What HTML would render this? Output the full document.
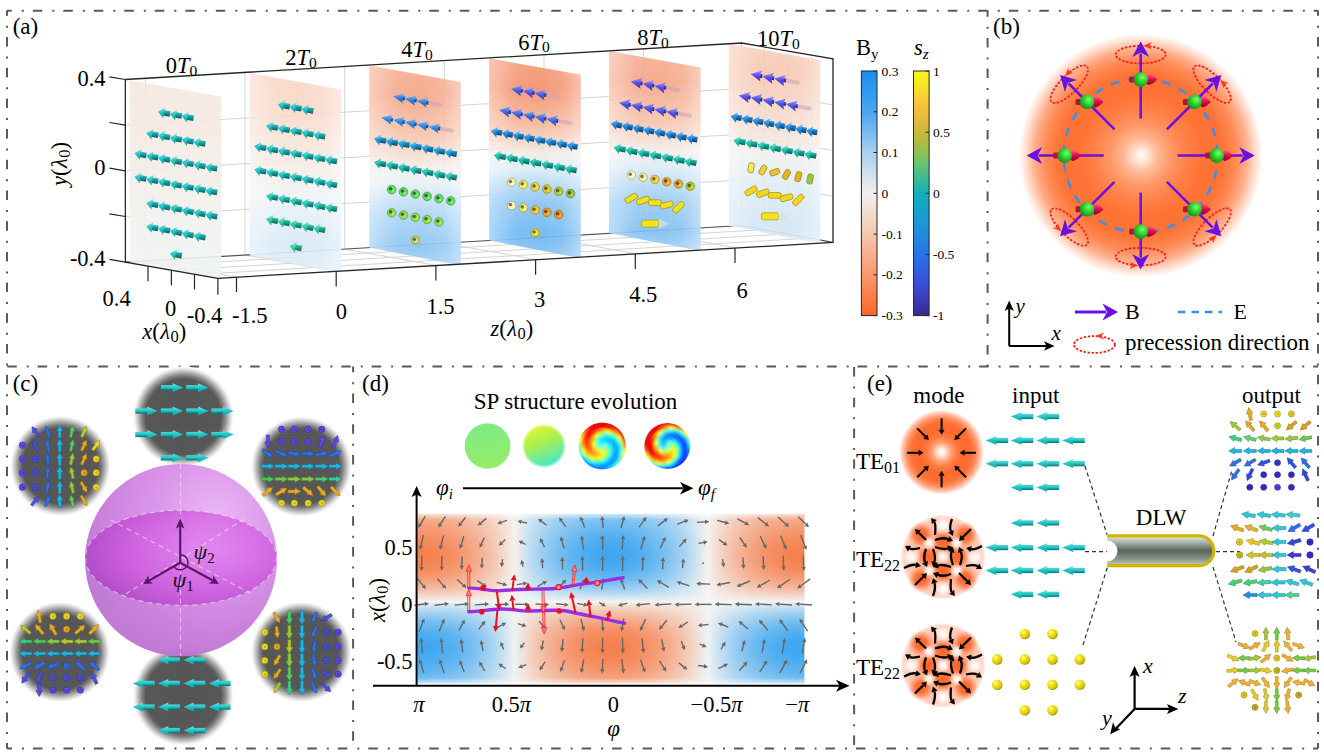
<!DOCTYPE html>
<html><head><meta charset="utf-8"><style>
html,body{margin:0;padding:0;background:#fff;overflow:hidden;width:1324px;height:756px;}
svg{display:block;}
</style></head><body>
<svg width="1324" height="756" viewBox="0 0 1324 756" font-family="'Liberation Serif', serif">
<defs>
<radialGradient id="bglow" gradientUnits="userSpaceOnUse" cx="1140.7" cy="155.6" r="122"><stop offset="0" stop-color="#ffffff"/><stop offset="0.05" stop-color="#ffe6da"/><stop offset="0.14" stop-color="#ffb996"/><stop offset="0.25" stop-color="#ff9866"/><stop offset="0.38" stop-color="#ff8048"/><stop offset="0.5" stop-color="#ff7436"/><stop offset="0.66" stop-color="#ff7234"/><stop offset="0.78" stop-color="#ff8a55"/><stop offset="0.87" stop-color="#ffae8c"/><stop offset="0.94" stop-color="#ffdccc"/><stop offset="1" stop-color="#ffffff"/></radialGradient>
<radialGradient id="gball" cx="0.62" cy="0.35" r="0.7"><stop offset="0" stop-color="#7dff6a"/><stop offset="0.45" stop-color="#2fd62f"/><stop offset="1" stop-color="#0d8a1a"/></radialGradient>
<linearGradient id="gcone" x1="0" y1="0" x2="0" y2="1"><stop offset="0" stop-color="#ff5a88"/><stop offset="0.45" stop-color="#e0104c"/><stop offset="1" stop-color="#8a0028"/></linearGradient>
<linearGradient id="sedge" x1="0" y1="0" x2="1" y2="0"><stop offset="0" stop-color="#fff" stop-opacity="0.4"/><stop offset="0.3" stop-color="#fff" stop-opacity="0.05"/><stop offset="0.55" stop-color="#fff" stop-opacity="0"/><stop offset="0.8" stop-color="#fff" stop-opacity="0.1"/><stop offset="1" stop-color="#fff" stop-opacity="0.4"/></linearGradient>
<linearGradient id="sg0" x1="0" y1="0" x2="0" y2="1"><stop offset="0" stop-color="#f5e8df"/><stop offset="0.45" stop-color="#f4ece6"/><stop offset="0.7" stop-color="#f1f2ef"/><stop offset="1" stop-color="#eef3f1"/></linearGradient>
<linearGradient id="sg1" x1="0" y1="0" x2="0" y2="1"><stop offset="0" stop-color="#f9d5c3"/><stop offset="0.2" stop-color="#f9d9c8"/><stop offset="0.5" stop-color="#f5eee9"/><stop offset="0.62" stop-color="#eef3f5"/><stop offset="0.85" stop-color="#d6e8f7"/><stop offset="1" stop-color="#dfedf8"/></linearGradient>
<linearGradient id="sg2" x1="0" y1="0" x2="0" y2="1"><stop offset="0" stop-color="#f5ab8c"/><stop offset="0.15" stop-color="#f5a385"/><stop offset="0.35" stop-color="#f7c2aa"/><stop offset="0.5" stop-color="#f4ece6"/><stop offset="0.58" stop-color="#e8f1f6"/><stop offset="0.75" stop-color="#a8d2f5"/><stop offset="0.9" stop-color="#89c3f3"/><stop offset="1" stop-color="#a0cff5"/></linearGradient>
<linearGradient id="sg3" x1="0" y1="0" x2="0" y2="1"><stop offset="0" stop-color="#f49a76"/><stop offset="0.15" stop-color="#f38e68"/><stop offset="0.33" stop-color="#f6b497"/><stop offset="0.48" stop-color="#f3ece7"/><stop offset="0.55" stop-color="#dcecf6"/><stop offset="0.72" stop-color="#86c2f3"/><stop offset="0.88" stop-color="#66b4f1"/><stop offset="1" stop-color="#86c3f4"/></linearGradient>
<linearGradient id="sg4" x1="0" y1="0" x2="0" y2="1"><stop offset="0" stop-color="#f6ad90"/><stop offset="0.15" stop-color="#f4a284"/><stop offset="0.35" stop-color="#f6c2ab"/><stop offset="0.5" stop-color="#f3ede8"/><stop offset="0.58" stop-color="#dcebf6"/><stop offset="0.75" stop-color="#95c9f3"/><stop offset="0.9" stop-color="#7dbdf2"/><stop offset="1" stop-color="#a0cff5"/></linearGradient>
<linearGradient id="sg5" x1="0" y1="0" x2="0" y2="1"><stop offset="0" stop-color="#f8cdb8"/><stop offset="0.15" stop-color="#f7c6b0"/><stop offset="0.4" stop-color="#f6dcd0"/><stop offset="0.55" stop-color="#f0f0ee"/><stop offset="0.75" stop-color="#dbe9f5"/><stop offset="0.9" stop-color="#d0e4f5"/><stop offset="1" stop-color="#dce9f5"/></linearGradient>
<linearGradient id="g1" x1="0" y1="0" x2="0" y2="1"><stop offset="0" stop-color="#40cccc"/><stop offset="0.45" stop-color="#189c9c"/><stop offset="1" stop-color="#0d5858"/></linearGradient>
<linearGradient id="g2" x1="0" y1="0" x2="0" y2="1"><stop offset="0" stop-color="#83dede"/><stop offset="0.5" stop-color="#1fc4c4"/><stop offset="1" stop-color="#189c9c"/></linearGradient>
<linearGradient id="g3" x1="0" y1="0" x2="0" y2="1"><stop offset="0" stop-color="#43d0bf"/><stop offset="0.45" stop-color="#1ba090"/><stop offset="1" stop-color="#0f5950"/></linearGradient>
<linearGradient id="g4" x1="0" y1="0" x2="0" y2="1"><stop offset="0" stop-color="#85e0d5"/><stop offset="0.5" stop-color="#22c8b4"/><stop offset="1" stop-color="#1ba090"/></linearGradient>
<linearGradient id="g5" x1="0" y1="0" x2="0" y2="1"><stop offset="0" stop-color="#48d6b3"/><stop offset="0.45" stop-color="#20a584"/><stop offset="1" stop-color="#125d4a"/></linearGradient>
<linearGradient id="g6" x1="0" y1="0" x2="0" y2="1"><stop offset="0" stop-color="#88e4ce"/><stop offset="0.5" stop-color="#28cfa6"/><stop offset="1" stop-color="#20a584"/></linearGradient>
<linearGradient id="g7" x1="0" y1="0" x2="0" y2="1"><stop offset="0" stop-color="#4fd8a9"/><stop offset="0.45" stop-color="#26a87b"/><stop offset="1" stop-color="#155e45"/></linearGradient>
<linearGradient id="g8" x1="0" y1="0" x2="0" y2="1"><stop offset="0" stop-color="#8de6c7"/><stop offset="0.5" stop-color="#30d29a"/><stop offset="1" stop-color="#26a87b"/></linearGradient>
<linearGradient id="g9" x1="0" y1="0" x2="0" y2="1"><stop offset="0" stop-color="#4990e9"/><stop offset="0.45" stop-color="#2164b8"/><stop offset="1" stop-color="#123867"/></linearGradient>
<linearGradient id="g10" x1="0" y1="0" x2="0" y2="1"><stop offset="0" stop-color="#89b7f1"/><stop offset="0.5" stop-color="#2a7de6"/><stop offset="1" stop-color="#2164b8"/></linearGradient>
<linearGradient id="g11" x1="0" y1="0" x2="0" y2="1"><stop offset="0" stop-color="#4998e8"/><stop offset="0.45" stop-color="#216bb6"/><stop offset="1" stop-color="#123c66"/></linearGradient>
<linearGradient id="g12" x1="0" y1="0" x2="0" y2="1"><stop offset="0" stop-color="#89bcf0"/><stop offset="0.5" stop-color="#2a86e4"/><stop offset="1" stop-color="#216bb6"/></linearGradient>
<linearGradient id="g13" x1="0" y1="0" x2="0" y2="1"><stop offset="0" stop-color="#3dade4"/><stop offset="0.45" stop-color="#157fb3"/><stop offset="1" stop-color="#0c4764"/></linearGradient>
<linearGradient id="g14" x1="0" y1="0" x2="0" y2="1"><stop offset="0" stop-color="#81caed"/><stop offset="0.5" stop-color="#1b9fe0"/><stop offset="1" stop-color="#157fb3"/></linearGradient>
<linearGradient id="g15" x1="0" y1="0" x2="0" y2="1"><stop offset="0" stop-color="#40c9bd"/><stop offset="0.45" stop-color="#18998e"/><stop offset="1" stop-color="#0d5650"/></linearGradient>
<linearGradient id="g16" x1="0" y1="0" x2="0" y2="1"><stop offset="0" stop-color="#83dcd4"/><stop offset="0.5" stop-color="#1fc0b2"/><stop offset="1" stop-color="#18998e"/></linearGradient>
<linearGradient id="g17" x1="0" y1="0" x2="0" y2="1"><stop offset="0" stop-color="#656ee9"/><stop offset="0.45" stop-color="#3b44b8"/><stop offset="1" stop-color="#212667"/></linearGradient>
<linearGradient id="g18" x1="0" y1="0" x2="0" y2="1"><stop offset="0" stop-color="#9ba1f1"/><stop offset="0.5" stop-color="#4a55e6"/><stop offset="1" stop-color="#3b44b8"/></linearGradient>
<linearGradient id="g19" x1="0" y1="0" x2="0" y2="1"><stop offset="0" stop-color="#5a7ae8"/><stop offset="0.45" stop-color="#304fb6"/><stop offset="1" stop-color="#1b2c66"/></linearGradient>
<linearGradient id="g20" x1="0" y1="0" x2="0" y2="1"><stop offset="0" stop-color="#94a9f0"/><stop offset="0.5" stop-color="#3d63e4"/><stop offset="1" stop-color="#304fb6"/></linearGradient>
<linearGradient id="g21" x1="0" y1="0" x2="0" y2="1"><stop offset="0" stop-color="#3c9fe4"/><stop offset="0.45" stop-color="#1472b3"/><stop offset="1" stop-color="#0b4064"/></linearGradient>
<linearGradient id="g22" x1="0" y1="0" x2="0" y2="1"><stop offset="0" stop-color="#81c1ed"/><stop offset="0.5" stop-color="#1a8fe0"/><stop offset="1" stop-color="#1472b3"/></linearGradient>
<linearGradient id="g23" x1="0" y1="0" x2="0" y2="1"><stop offset="0" stop-color="#3bc9bb"/><stop offset="0.45" stop-color="#14998c"/><stop offset="1" stop-color="#0b564f"/></linearGradient>
<linearGradient id="g24" x1="0" y1="0" x2="0" y2="1"><stop offset="0" stop-color="#80dcd3"/><stop offset="0.5" stop-color="#19c0b0"/><stop offset="1" stop-color="#14998c"/></linearGradient>
<linearGradient id="g25" x1="0" y1="0" x2="0" y2="1"><stop offset="0" stop-color="#6d63e9"/><stop offset="0.45" stop-color="#4339b8"/><stop offset="1" stop-color="#252067"/></linearGradient>
<linearGradient id="g26" x1="0" y1="0" x2="0" y2="1"><stop offset="0" stop-color="#a09af1"/><stop offset="0.5" stop-color="#5448e6"/><stop offset="1" stop-color="#4339b8"/></linearGradient>
<linearGradient id="g27" x1="0" y1="0" x2="0" y2="1"><stop offset="0" stop-color="#656ae8"/><stop offset="0.45" stop-color="#3b40b6"/><stop offset="1" stop-color="#212466"/></linearGradient>
<linearGradient id="g28" x1="0" y1="0" x2="0" y2="1"><stop offset="0" stop-color="#9b9ef0"/><stop offset="0.5" stop-color="#4a50e4"/><stop offset="1" stop-color="#3b40b6"/></linearGradient>
<linearGradient id="g29" x1="0" y1="0" x2="0" y2="1"><stop offset="0" stop-color="#3e98e6"/><stop offset="0.45" stop-color="#176bb4"/><stop offset="1" stop-color="#0d3c65"/></linearGradient>
<linearGradient id="g30" x1="0" y1="0" x2="0" y2="1"><stop offset="0" stop-color="#82bcef"/><stop offset="0.5" stop-color="#1d86e2"/><stop offset="1" stop-color="#176bb4"/></linearGradient>
<linearGradient id="g31" x1="0" y1="0" x2="0" y2="1"><stop offset="0" stop-color="#3bcbbb"/><stop offset="0.45" stop-color="#149b8c"/><stop offset="1" stop-color="#0b574f"/></linearGradient>
<linearGradient id="g32" x1="0" y1="0" x2="0" y2="1"><stop offset="0" stop-color="#80ddd3"/><stop offset="0.5" stop-color="#19c2b0"/><stop offset="1" stop-color="#149b8c"/></linearGradient>
<linearGradient id="g33" x1="0" y1="0" x2="0" y2="1"><stop offset="0" stop-color="#6f63e9"/><stop offset="0.45" stop-color="#4439b8"/><stop offset="1" stop-color="#262067"/></linearGradient>
<linearGradient id="g34" x1="0" y1="0" x2="0" y2="1"><stop offset="0" stop-color="#a29af1"/><stop offset="0.5" stop-color="#5648e6"/><stop offset="1" stop-color="#4439b8"/></linearGradient>
<linearGradient id="g35" x1="0" y1="0" x2="0" y2="1"><stop offset="0" stop-color="#6668e8"/><stop offset="0.45" stop-color="#3c3eb6"/><stop offset="1" stop-color="#222366"/></linearGradient>
<linearGradient id="g36" x1="0" y1="0" x2="0" y2="1"><stop offset="0" stop-color="#9c9df0"/><stop offset="0.5" stop-color="#4c4ee4"/><stop offset="1" stop-color="#3c3eb6"/></linearGradient>
<linearGradient id="g37" x1="0" y1="0" x2="0" y2="1"><stop offset="0" stop-color="#3f9be6"/><stop offset="0.45" stop-color="#186eb4"/><stop offset="1" stop-color="#0d3e65"/></linearGradient>
<linearGradient id="g38" x1="0" y1="0" x2="0" y2="1"><stop offset="0" stop-color="#83beef"/><stop offset="0.5" stop-color="#1e8ae2"/><stop offset="1" stop-color="#186eb4"/></linearGradient>
<linearGradient id="g39" x1="0" y1="0" x2="0" y2="1"><stop offset="0" stop-color="#3cccbb"/><stop offset="0.45" stop-color="#149c8c"/><stop offset="1" stop-color="#0b584f"/></linearGradient>
<linearGradient id="g40" x1="0" y1="0" x2="0" y2="1"><stop offset="0" stop-color="#81ded3"/><stop offset="0.5" stop-color="#1ac4b0"/><stop offset="1" stop-color="#149c8c"/></linearGradient>
<linearGradient id="cbBy" x1="0" y1="0" x2="0" y2="1"><stop offset="0" stop-color="#1a8ef0"/><stop offset="0.17" stop-color="#4aa6f0"/><stop offset="0.33" stop-color="#a6d0f2"/><stop offset="0.5" stop-color="#f1f0ec"/><stop offset="0.67" stop-color="#f6c6ae"/><stop offset="0.83" stop-color="#f89a70"/><stop offset="1" stop-color="#ff6428"/></linearGradient>
<linearGradient id="cbSz" x1="0" y1="0" x2="0" y2="1"><stop offset="0" stop-color="#f9f814"/><stop offset="0.06" stop-color="#f8e428"/><stop offset="0.14" stop-color="#f8c23a"/><stop offset="0.22" stop-color="#dcb83a"/><stop offset="0.29" stop-color="#b0bc40"/><stop offset="0.37" stop-color="#70c46c"/><stop offset="0.5" stop-color="#12b0b8"/><stop offset="0.62" stop-color="#1a98d6"/><stop offset="0.75" stop-color="#2a72e8"/><stop offset="0.88" stop-color="#3a4ad8"/><stop offset="1" stop-color="#3a2a8c"/></linearGradient>
<radialGradient id="gcirc"><stop offset="0" stop-color="#555555"/><stop offset="0.74" stop-color="#575757"/><stop offset="0.81" stop-color="#808080"/><stop offset="0.87" stop-color="#b0b0b0"/><stop offset="0.93" stop-color="#e0e0e0"/><stop offset="0.97" stop-color="#fafafa"/><stop offset="1" stop-color="#ffffff" stop-opacity="0"/></radialGradient>
<linearGradient id="g_sc" x1="0" y1="0" x2="0" y2="1"><stop offset="0" stop-color="#40dada"/><stop offset="0.5" stop-color="#1ab8b8"/><stop offset="1" stop-color="#0a7a7a"/></linearGradient>
<linearGradient id="g41" x1="0" y1="0" x2="0" y2="1"><stop offset="0" stop-color="#82dfdf"/><stop offset="0.5" stop-color="#1cc6c6"/><stop offset="1" stop-color="#169e9e"/></linearGradient>
<linearGradient id="g42" x1="0" y1="0" x2="0" y2="1"><stop offset="0" stop-color="#54d4d4"/><stop offset="0.5" stop-color="#1cc6c6"/><stop offset="1" stop-color="#0f6c6c"/></linearGradient>
<radialGradient id="gsph" cx="0.68" cy="0.28" r="0.85"><stop offset="0" stop-color="#eab6f6"/><stop offset="0.35" stop-color="#da94ea"/><stop offset="0.7" stop-color="#c87cdc"/><stop offset="0.92" stop-color="#bc74d0"/><stop offset="1" stop-color="#c27ed4"/></radialGradient>
<radialGradient id="geq" cx="0.62" cy="0.45" r="0.65"><stop offset="0" stop-color="#e070f0" stop-opacity="0.55"/><stop offset="0.6" stop-color="#cc40dc" stop-opacity="0.55"/><stop offset="1" stop-color="#a02cb8" stop-opacity="0.6"/></radialGradient>
<linearGradient id="hTop" gradientUnits="userSpaceOnUse" x1="417.3" y1="0" x2="804.6" y2="0"><stop offset="0.000" stop-color="#f5804e" stop-opacity="1.000"/><stop offset="0.025" stop-color="#f5804e" stop-opacity="0.993"/><stop offset="0.050" stop-color="#f5804e" stop-opacity="0.965"/><stop offset="0.075" stop-color="#f5804e" stop-opacity="0.916"/><stop offset="0.100" stop-color="#f5804e" stop-opacity="0.847"/><stop offset="0.125" stop-color="#f5804e" stop-opacity="0.758"/><stop offset="0.150" stop-color="#f5804e" stop-opacity="0.651"/><stop offset="0.175" stop-color="#f5804e" stop-opacity="0.527"/><stop offset="0.200" stop-color="#f5804e" stop-opacity="0.385"/><stop offset="0.225" stop-color="#f5804e" stop-opacity="0.224"/><stop offset="0.250" stop-color="#f5804e" stop-opacity="0.027"/><stop offset="0.275" stop-color="#3ea6f0" stop-opacity="0.192"/><stop offset="0.300" stop-color="#3ea6f0" stop-opacity="0.357"/><stop offset="0.325" stop-color="#3ea6f0" stop-opacity="0.502"/><stop offset="0.350" stop-color="#3ea6f0" stop-opacity="0.630"/><stop offset="0.375" stop-color="#3ea6f0" stop-opacity="0.740"/><stop offset="0.400" stop-color="#3ea6f0" stop-opacity="0.832"/><stop offset="0.425" stop-color="#3ea6f0" stop-opacity="0.905"/><stop offset="0.450" stop-color="#3ea6f0" stop-opacity="0.957"/><stop offset="0.475" stop-color="#3ea6f0" stop-opacity="0.989"/><stop offset="0.500" stop-color="#3ea6f0" stop-opacity="1.000"/><stop offset="0.525" stop-color="#3ea6f0" stop-opacity="0.989"/><stop offset="0.550" stop-color="#3ea6f0" stop-opacity="0.958"/><stop offset="0.575" stop-color="#3ea6f0" stop-opacity="0.905"/><stop offset="0.600" stop-color="#3ea6f0" stop-opacity="0.833"/><stop offset="0.625" stop-color="#3ea6f0" stop-opacity="0.741"/><stop offset="0.650" stop-color="#3ea6f0" stop-opacity="0.631"/><stop offset="0.675" stop-color="#3ea6f0" stop-opacity="0.504"/><stop offset="0.700" stop-color="#3ea6f0" stop-opacity="0.359"/><stop offset="0.725" stop-color="#3ea6f0" stop-opacity="0.194"/><stop offset="0.750" stop-color="#f5804e" stop-opacity="0.024"/><stop offset="0.775" stop-color="#f5804e" stop-opacity="0.222"/><stop offset="0.800" stop-color="#f5804e" stop-opacity="0.383"/><stop offset="0.825" stop-color="#f5804e" stop-opacity="0.525"/><stop offset="0.850" stop-color="#f5804e" stop-opacity="0.650"/><stop offset="0.875" stop-color="#f5804e" stop-opacity="0.757"/><stop offset="0.900" stop-color="#f5804e" stop-opacity="0.846"/><stop offset="0.925" stop-color="#f5804e" stop-opacity="0.915"/><stop offset="0.950" stop-color="#f5804e" stop-opacity="0.964"/><stop offset="0.975" stop-color="#f5804e" stop-opacity="0.993"/><stop offset="1.000" stop-color="#f5804e" stop-opacity="1.000"/></linearGradient>
<linearGradient id="hBot" gradientUnits="userSpaceOnUse" x1="417.3" y1="0" x2="804.6" y2="0"><stop offset="0.000" stop-color="#3ea6f0" stop-opacity="1.000"/><stop offset="0.025" stop-color="#3ea6f0" stop-opacity="0.993"/><stop offset="0.050" stop-color="#3ea6f0" stop-opacity="0.965"/><stop offset="0.075" stop-color="#3ea6f0" stop-opacity="0.916"/><stop offset="0.100" stop-color="#3ea6f0" stop-opacity="0.847"/><stop offset="0.125" stop-color="#3ea6f0" stop-opacity="0.758"/><stop offset="0.150" stop-color="#3ea6f0" stop-opacity="0.651"/><stop offset="0.175" stop-color="#3ea6f0" stop-opacity="0.527"/><stop offset="0.200" stop-color="#3ea6f0" stop-opacity="0.385"/><stop offset="0.225" stop-color="#3ea6f0" stop-opacity="0.224"/><stop offset="0.250" stop-color="#3ea6f0" stop-opacity="0.027"/><stop offset="0.275" stop-color="#f5804e" stop-opacity="0.192"/><stop offset="0.300" stop-color="#f5804e" stop-opacity="0.357"/><stop offset="0.325" stop-color="#f5804e" stop-opacity="0.502"/><stop offset="0.350" stop-color="#f5804e" stop-opacity="0.630"/><stop offset="0.375" stop-color="#f5804e" stop-opacity="0.740"/><stop offset="0.400" stop-color="#f5804e" stop-opacity="0.832"/><stop offset="0.425" stop-color="#f5804e" stop-opacity="0.905"/><stop offset="0.450" stop-color="#f5804e" stop-opacity="0.957"/><stop offset="0.475" stop-color="#f5804e" stop-opacity="0.989"/><stop offset="0.500" stop-color="#f5804e" stop-opacity="1.000"/><stop offset="0.525" stop-color="#f5804e" stop-opacity="0.989"/><stop offset="0.550" stop-color="#f5804e" stop-opacity="0.958"/><stop offset="0.575" stop-color="#f5804e" stop-opacity="0.905"/><stop offset="0.600" stop-color="#f5804e" stop-opacity="0.833"/><stop offset="0.625" stop-color="#f5804e" stop-opacity="0.741"/><stop offset="0.650" stop-color="#f5804e" stop-opacity="0.631"/><stop offset="0.675" stop-color="#f5804e" stop-opacity="0.504"/><stop offset="0.700" stop-color="#f5804e" stop-opacity="0.359"/><stop offset="0.725" stop-color="#f5804e" stop-opacity="0.194"/><stop offset="0.750" stop-color="#3ea6f0" stop-opacity="0.024"/><stop offset="0.775" stop-color="#3ea6f0" stop-opacity="0.222"/><stop offset="0.800" stop-color="#3ea6f0" stop-opacity="0.383"/><stop offset="0.825" stop-color="#3ea6f0" stop-opacity="0.525"/><stop offset="0.850" stop-color="#3ea6f0" stop-opacity="0.650"/><stop offset="0.875" stop-color="#3ea6f0" stop-opacity="0.757"/><stop offset="0.900" stop-color="#3ea6f0" stop-opacity="0.846"/><stop offset="0.925" stop-color="#3ea6f0" stop-opacity="0.915"/><stop offset="0.950" stop-color="#3ea6f0" stop-opacity="0.964"/><stop offset="0.975" stop-color="#3ea6f0" stop-opacity="0.993"/><stop offset="1.000" stop-color="#3ea6f0" stop-opacity="1.000"/></linearGradient>
<linearGradient id="vTop" gradientUnits="userSpaceOnUse" x1="0" y1="513.8" x2="0" y2="601.5"><stop offset="0.000" stop-color="rgb(144,144,144)"/><stop offset="0.042" stop-color="rgb(158,158,158)"/><stop offset="0.083" stop-color="rgb(171,171,171)"/><stop offset="0.125" stop-color="rgb(185,185,185)"/><stop offset="0.167" stop-color="rgb(198,198,198)"/><stop offset="0.208" stop-color="rgb(210,210,210)"/><stop offset="0.250" stop-color="rgb(222,222,222)"/><stop offset="0.292" stop-color="rgb(232,232,232)"/><stop offset="0.333" stop-color="rgb(241,241,241)"/><stop offset="0.375" stop-color="rgb(248,248,248)"/><stop offset="0.417" stop-color="rgb(252,252,252)"/><stop offset="0.458" stop-color="rgb(255,255,255)"/><stop offset="0.500" stop-color="rgb(255,255,255)"/><stop offset="0.542" stop-color="rgb(251,251,251)"/><stop offset="0.583" stop-color="rgb(245,245,245)"/><stop offset="0.625" stop-color="rgb(236,236,236)"/><stop offset="0.667" stop-color="rgb(223,223,223)"/><stop offset="0.708" stop-color="rgb(208,208,208)"/><stop offset="0.750" stop-color="rgb(189,189,189)"/><stop offset="0.792" stop-color="rgb(166,166,166)"/><stop offset="0.833" stop-color="rgb(141,141,141)"/><stop offset="0.875" stop-color="rgb(113,113,113)"/><stop offset="0.917" stop-color="rgb(81,81,81)"/><stop offset="0.958" stop-color="rgb(45,45,45)"/><stop offset="1.000" stop-color="rgb(0,0,0)"/></linearGradient>
<linearGradient id="vBot" gradientUnits="userSpaceOnUse" x1="0" y1="601.5" x2="0" y2="683.5"><stop offset="0.000" stop-color="rgb(0,0,0)"/><stop offset="0.042" stop-color="rgb(43,43,43)"/><stop offset="0.083" stop-color="rgb(76,76,76)"/><stop offset="0.125" stop-color="rgb(107,107,107)"/><stop offset="0.167" stop-color="rgb(134,134,134)"/><stop offset="0.208" stop-color="rgb(158,158,158)"/><stop offset="0.250" stop-color="rgb(180,180,180)"/><stop offset="0.292" stop-color="rgb(199,199,199)"/><stop offset="0.333" stop-color="rgb(216,216,216)"/><stop offset="0.375" stop-color="rgb(229,229,229)"/><stop offset="0.417" stop-color="rgb(240,240,240)"/><stop offset="0.458" stop-color="rgb(247,247,247)"/><stop offset="0.500" stop-color="rgb(252,252,252)"/><stop offset="0.542" stop-color="rgb(255,255,255)"/><stop offset="0.583" stop-color="rgb(255,255,255)"/><stop offset="0.625" stop-color="rgb(252,252,252)"/><stop offset="0.667" stop-color="rgb(248,248,248)"/><stop offset="0.708" stop-color="rgb(242,242,242)"/><stop offset="0.750" stop-color="rgb(234,234,234)"/><stop offset="0.792" stop-color="rgb(224,224,224)"/><stop offset="0.833" stop-color="rgb(214,214,214)"/><stop offset="0.875" stop-color="rgb(202,202,202)"/><stop offset="0.917" stop-color="rgb(190,190,190)"/><stop offset="0.958" stop-color="rgb(178,178,178)"/><stop offset="1.000" stop-color="rgb(165,165,165)"/></linearGradient>
<mask id="mTop" maskUnits="userSpaceOnUse" x="417.3" y="513.8" width="387.3" height="87.70000000000005"><rect x="417.3" y="513.8" width="387.3" height="87.70000000000005" fill="url(#vTop)"/></mask>
<mask id="mBot" maskUnits="userSpaceOnUse" x="417.3" y="601.5" width="387.3" height="82.0"><rect x="417.3" y="601.5" width="387.3" height="82.0" fill="url(#vBot)"/></mask>
<linearGradient id="fadeTop" x1="0" y1="0" x2="0" y2="1"><stop offset="0" stop-color="#fff" stop-opacity="0.6"/><stop offset="1" stop-color="#fff" stop-opacity="0"/></linearGradient>
<linearGradient id="fadeBot" x1="0" y1="1" x2="0" y2="0"><stop offset="0" stop-color="#fff" stop-opacity="0.6"/><stop offset="1" stop-color="#fff" stop-opacity="0"/></linearGradient>
<linearGradient id="sc1" x1="0" y1="0" x2="0.3" y2="1"><stop offset="0" stop-color="#78ec88"/><stop offset="1" stop-color="#96ec6a"/></linearGradient>
<linearGradient id="sc2" x1="0.2" y1="0" x2="0.6" y2="1"><stop offset="0" stop-color="#e4f828"/><stop offset="0.45" stop-color="#a8f050"/><stop offset="1" stop-color="#3ee8d0"/></linearGradient>
<radialGradient id="sc2e"><stop offset="0.85" stop-color="#fff" stop-opacity="0"/><stop offset="1" stop-color="#fff" stop-opacity="0.8"/></radialGradient>
<filter id="sblur" x="-10%" y="-10%" width="120%" height="120%"><feGaussianBlur stdDeviation="0.9"/></filter>
<clipPath id="cs3"><circle cx="602.3" cy="446" r="23.6"/></clipPath><clipPath id="cs4"><circle cx="667.3" cy="446" r="23"/></clipPath>
<radialGradient id="te01"><stop offset="0" stop-color="#ffffff"/><stop offset="0.07" stop-color="#ffeee6"/><stop offset="0.22" stop-color="#ffa276"/><stop offset="0.36" stop-color="#ff7a40"/><stop offset="0.5" stop-color="#ff6a2c"/><stop offset="0.7" stop-color="#ff6e32"/><stop offset="0.82" stop-color="#ff905e"/><stop offset="0.92" stop-color="#ffc6ae"/><stop offset="1" stop-color="#ffffff"/></radialGradient>
<radialGradient id="te22b"><stop offset="0" stop-color="#ffb898"/><stop offset="0.6" stop-color="#ffbfa4"/><stop offset="0.88" stop-color="#ffcab4"/><stop offset="0.96" stop-color="#ffe2d6"/><stop offset="1" stop-color="#ffffff"/></radialGradient>
<radialGradient id="olobe"><stop offset="0" stop-color="#ff5e22"/><stop offset="0.45" stop-color="#ff6a30" stop-opacity="0.9"/><stop offset="1" stop-color="#ff8050" stop-opacity="0"/></radialGradient>
<radialGradient id="wspot"><stop offset="0" stop-color="#ffffff"/><stop offset="0.4" stop-color="#fff4ef" stop-opacity="0.9"/><stop offset="1" stop-color="#ffd8c8" stop-opacity="0"/></radialGradient>
<radialGradient id="yball" cx="0.35" cy="0.32" r="0.75"><stop offset="0" stop-color="#fffca0"/><stop offset="0.35" stop-color="#f2e41a"/><stop offset="0.75" stop-color="#d8c400"/><stop offset="1" stop-color="#8a7c00"/></radialGradient>
<linearGradient id="dlw" x1="0" y1="0" x2="0" y2="1"><stop offset="0" stop-color="#d8e0d8"/><stop offset="0.18" stop-color="#a8b4a8"/><stop offset="0.5" stop-color="#56645a"/><stop offset="0.82" stop-color="#8a988c"/><stop offset="1" stop-color="#b8c4b8"/></linearGradient>
</defs>
<rect width="1324" height="756" fill="#fff"/>
<line x1="7" y1="10.8" x2="1318" y2="10.8" stroke="#5a5a5a" stroke-width="2" fill="none" stroke-dasharray="9.5 10.0 2.0 9.00" stroke-dashoffset="4.7"/>
<line x1="7" y1="10.5" x2="7" y2="748.5" stroke="#5a5a5a" stroke-width="2" fill="none" stroke-dasharray="9.5 10.0 2.0 9.20" stroke-dashoffset="4.2"/>
<line x1="1318" y1="10.5" x2="1318" y2="748.5" stroke="#5a5a5a" stroke-width="2" fill="none" stroke-dasharray="9.5 10.0 2.0 9.20" stroke-dashoffset="4.2"/>
<line x1="7" y1="748.5" x2="1318" y2="748.5" stroke="#5a5a5a" stroke-width="2" fill="none" stroke-dasharray="9.5 10.0 2.0 8.98" stroke-dashoffset="4.48"/>
<line x1="7" y1="366.6" x2="1318" y2="366.6" stroke="#5a5a5a" stroke-width="2" fill="none" stroke-dasharray="9.5 10.0 2.0 8.87" stroke-dashoffset="-0.23"/>
<line x1="987.6" y1="10.5" x2="987.6" y2="366.6" stroke="#5a5a5a" stroke-width="2" fill="none" stroke-dasharray="9.5 10.0 2.0 9.20" stroke-dashoffset="3.3"/>
<line x1="353.1" y1="366.6" x2="353.1" y2="748.5" stroke="#5a5a5a" stroke-width="2" fill="none" stroke-dasharray="9.5 10.0 2.0 9.20" stroke-dashoffset="3.8"/>
<line x1="854.1" y1="366.6" x2="854.1" y2="748.5" stroke="#5a5a5a" stroke-width="2" fill="none" stroke-dasharray="9.5 10.0 2.0 9.20" stroke-dashoffset="-0.5"/>
<text x="12.7" y="34" font-size="23" text-anchor="start" fill="#000" >(a)</text>
<text x="993" y="34" font-size="23" text-anchor="start" fill="#000" >(b)</text>
<text x="12.7" y="390.5" font-size="23" text-anchor="start" fill="#000" >(c)</text>
<text x="362" y="390.5" font-size="23" text-anchor="start" fill="#000" >(d)</text>
<text x="867" y="390.5" font-size="23" text-anchor="start" fill="#000" >(e)</text>
<circle cx="1140.7" cy="155.6" r="122" fill="url(#bglow)"/>
<circle cx="1140.7" cy="155.6" r="77" fill="none" stroke="#3a90ea" stroke-width="2.6" stroke-dasharray="9 8.6" stroke-dashoffset="3"/>
<g transform="translate(1140.7,54.6) rotate(0)"><ellipse cx="0" cy="0" rx="25" ry="8.8" fill="none" stroke="#ff1a1a" stroke-width="1.8" stroke-dasharray="2.4 1.6"/><path d="M3,-8.8 L11,-12.5 L8.5,-8.8 L11,-5.2 Z" fill="#ff3a1a"/></g>
<g transform="translate(1069.3,84.2) rotate(-45)"><ellipse cx="0" cy="0" rx="25" ry="8.8" fill="none" stroke="#ff1a1a" stroke-width="1.8" stroke-dasharray="2.4 1.6"/><path d="M3,-8.8 L11,-12.5 L8.5,-8.8 L11,-5.2 Z" fill="#ff3a1a"/></g>
<g transform="translate(1212.1,84.2) rotate(45)"><ellipse cx="0" cy="0" rx="25" ry="8.8" fill="none" stroke="#ff1a1a" stroke-width="1.8" stroke-dasharray="2.4 1.6"/><path d="M3,-8.8 L11,-12.5 L8.5,-8.8 L11,-5.2 Z" fill="#ff3a1a"/></g>
<g transform="translate(1069.3,227) rotate(-135)"><ellipse cx="0" cy="0" rx="25" ry="8.8" fill="none" stroke="#ff1a1a" stroke-width="1.8" stroke-dasharray="2.4 1.6"/><path d="M3,-8.8 L11,-12.5 L8.5,-8.8 L11,-5.2 Z" fill="#ff3a1a"/></g>
<g transform="translate(1212.1,227) rotate(-225)"><ellipse cx="0" cy="0" rx="25" ry="8.8" fill="none" stroke="#ff1a1a" stroke-width="1.8" stroke-dasharray="2.4 1.6"/><path d="M3,-8.8 L11,-12.5 L8.5,-8.8 L11,-5.2 Z" fill="#ff3a1a"/></g>
<g transform="translate(1140.7,256.6) rotate(-180)"><ellipse cx="0" cy="0" rx="25" ry="8.8" fill="none" stroke="#ff1a1a" stroke-width="1.8" stroke-dasharray="2.4 1.6"/><path d="M3,-8.8 L11,-12.5 L8.5,-8.8 L11,-5.2 Z" fill="#ff3a1a"/></g>
<line x1="1177.7" y1="155.6" x2="1242.7" y2="155.6" stroke="#6a10e0" stroke-width="2.5"/>
<path d="M1254.7,155.6 L1239.2,164.1 L1243.7,155.6 L1239.2,147.1 Z" fill="#6a10e0"/>
<line x1="1166.9" y1="129.4" x2="1212.8" y2="83.5" stroke="#6a10e0" stroke-width="2.5"/>
<path d="M1221.3,75 L1216.4,92 L1213.5,82.8 L1204.3,79.9 Z" fill="#6a10e0"/>
<line x1="1140.7" y1="118.6" x2="1140.7" y2="53.6" stroke="#6a10e0" stroke-width="2.5"/>
<path d="M1140.7,41.6 L1149.2,57.1 L1140.7,52.6 L1132.2,57.1 Z" fill="#6a10e0"/>
<line x1="1114.5" y1="129.4" x2="1068.6" y2="83.5" stroke="#6a10e0" stroke-width="2.5"/>
<path d="M1060.1,75 L1077.1,79.9 L1067.9,82.8 L1065,92 Z" fill="#6a10e0"/>
<line x1="1103.7" y1="155.6" x2="1038.7" y2="155.6" stroke="#6a10e0" stroke-width="2.5"/>
<path d="M1026.7,155.6 L1042.2,147.1 L1037.7,155.6 L1042.2,164.1 Z" fill="#6a10e0"/>
<line x1="1114.5" y1="181.8" x2="1068.6" y2="227.7" stroke="#6a10e0" stroke-width="2.5"/>
<path d="M1060.1,236.2 L1065,219.2 L1067.9,228.4 L1077.1,231.3 Z" fill="#6a10e0"/>
<line x1="1140.7" y1="192.6" x2="1140.7" y2="257.6" stroke="#6a10e0" stroke-width="2.5"/>
<path d="M1140.7,269.6 L1132.2,254.1 L1140.7,258.6 L1149.2,254.1 Z" fill="#6a10e0"/>
<line x1="1166.9" y1="181.8" x2="1212.8" y2="227.7" stroke="#6a10e0" stroke-width="2.5"/>
<path d="M1221.3,236.2 L1204.3,231.3 L1213.5,228.4 L1216.4,219.2 Z" fill="#6a10e0"/>
<rect x="1205.2" y="152.6" width="6" height="6" rx="1.5" fill="#b8103c"/>
<rect x="1220.2" y="151.4" width="5" height="8.4" rx="1" fill="url(#gcone)"/>
<path d="M1223.7,150 Q1228.7,150.6 1233.2,155.6 Q1228.7,160.6 1223.7,161.2 Z" fill="url(#gcone)"/>
<circle cx="1216.7" cy="155.6" r="7.3" fill="url(#gball)"/>
<rect x="1182.9" y="98.9" width="6" height="6" rx="1.5" fill="#b8103c"/>
<rect x="1197.9" y="97.7" width="5" height="8.4" rx="1" fill="url(#gcone)"/>
<path d="M1201.4,96.3 Q1206.4,96.9 1210.9,101.9 Q1206.4,106.9 1201.4,107.5 Z" fill="url(#gcone)"/>
<circle cx="1194.4" cy="101.9" r="7.3" fill="url(#gball)"/>
<rect x="1129.2" y="76.6" width="6" height="6" rx="1.5" fill="#b8103c"/>
<rect x="1144.2" y="75.4" width="5" height="8.4" rx="1" fill="url(#gcone)"/>
<path d="M1147.7,74 Q1152.7,74.6 1157.2,79.6 Q1152.7,84.6 1147.7,85.2 Z" fill="url(#gcone)"/>
<circle cx="1140.7" cy="79.6" r="7.3" fill="url(#gball)"/>
<rect x="1075.5" y="98.9" width="6" height="6" rx="1.5" fill="#b8103c"/>
<rect x="1090.5" y="97.7" width="5" height="8.4" rx="1" fill="url(#gcone)"/>
<path d="M1094,96.3 Q1099,96.9 1103.5,101.9 Q1099,106.9 1094,107.5 Z" fill="url(#gcone)"/>
<circle cx="1087" cy="101.9" r="7.3" fill="url(#gball)"/>
<rect x="1053.2" y="152.6" width="6" height="6" rx="1.5" fill="#b8103c"/>
<rect x="1068.2" y="151.4" width="5" height="8.4" rx="1" fill="url(#gcone)"/>
<path d="M1071.7,150 Q1076.7,150.6 1081.2,155.6 Q1076.7,160.6 1071.7,161.2 Z" fill="url(#gcone)"/>
<circle cx="1064.7" cy="155.6" r="7.3" fill="url(#gball)"/>
<rect x="1075.5" y="206.3" width="6" height="6" rx="1.5" fill="#b8103c"/>
<rect x="1090.5" y="205.1" width="5" height="8.4" rx="1" fill="url(#gcone)"/>
<path d="M1094,203.7 Q1099,204.3 1103.5,209.3 Q1099,214.3 1094,214.9 Z" fill="url(#gcone)"/>
<circle cx="1087" cy="209.3" r="7.3" fill="url(#gball)"/>
<rect x="1129.2" y="228.6" width="6" height="6" rx="1.5" fill="#b8103c"/>
<rect x="1144.2" y="227.4" width="5" height="8.4" rx="1" fill="url(#gcone)"/>
<path d="M1147.7,226 Q1152.7,226.6 1157.2,231.6 Q1152.7,236.6 1147.7,237.2 Z" fill="url(#gcone)"/>
<circle cx="1140.7" cy="231.6" r="7.3" fill="url(#gball)"/>
<rect x="1182.9" y="206.3" width="6" height="6" rx="1.5" fill="#b8103c"/>
<rect x="1197.9" y="205.1" width="5" height="8.4" rx="1" fill="url(#gcone)"/>
<path d="M1201.4,203.7 Q1206.4,204.3 1210.9,209.3 Q1206.4,214.3 1201.4,214.9 Z" fill="url(#gcone)"/>
<circle cx="1194.4" cy="209.3" r="7.3" fill="url(#gball)"/>
<path d="M1009.2,346 L1009.2,306 M1009.2,346 L1049,346" stroke="#000" stroke-width="2" fill="none"/>
<path d="M1009.2,300.5 L1004.5,311 L1009.2,308.5 L1013.9,311 Z" fill="#000"/>
<path d="M1054.5,346 L1044,341.3 L1046.5,346 L1044,350.7 Z" fill="#000"/>
<text x="1015.5" y="312.5" font-size="21" text-anchor="start" font-style="italic" fill="#000" >y</text>
<text x="1051.5" y="339.5" font-size="21" text-anchor="start" font-style="italic" fill="#000" >x</text>
<line x1="1075" y1="312" x2="1106" y2="312" stroke="#6a10e0" stroke-width="3"/>
<path d="M1118,312 L1102.5,303.5 L1107,312 L1102.5,320.5 Z" fill="#6a10e0"/>
<text x="1125" y="318.5" font-size="22" text-anchor="start" fill="#000" >B</text>
<line x1="1178" y1="312" x2="1222" y2="312" stroke="#3a90ea" stroke-width="2.6" stroke-dasharray="7.5 6"/>
<text x="1233.5" y="318.5" font-size="22" text-anchor="start" fill="#000" >E</text>
<ellipse cx="1094.4" cy="344.5" rx="20.5" ry="8.4" fill="none" stroke="#ff1a1a" stroke-width="1.8" stroke-dasharray="2.4 1.6"/>
<path d="M1096,336 L1104,332.3 L1101.5,336 L1104,339.7 Z" fill="#ff3a1a"/>
<text x="1125" y="350" font-size="23" text-anchor="start" fill="#000" >precession direction</text>
<path d="M125.4,216.5 L742,179.9 L833.4,196.4" stroke="#d4d4d4" stroke-width="1" fill="none"/>
<path d="M125.4,170.8 L742,134.2 L833.4,150.7" stroke="#d4d4d4" stroke-width="1" fill="none"/>
<path d="M125.4,125.2 L742,88.6 L833.4,105.1" stroke="#d4d4d4" stroke-width="1" fill="none"/>
<path d="M145.3,78.3 L145.3,260.9 L237.8,277.4" stroke="#d4d4d4" stroke-width="1" fill="none"/>
<path d="M245,72.4 L245,255 L337.5,271.5" stroke="#d4d4d4" stroke-width="1" fill="none"/>
<path d="M344.7,66.5 L344.7,249.1 L437.2,265.6" stroke="#d4d4d4" stroke-width="1" fill="none"/>
<path d="M444.3,60.6 L444.3,243.2 L536.8,259.7" stroke="#d4d4d4" stroke-width="1" fill="none"/>
<path d="M544,54.7 L544,237.3 L636.5,253.8" stroke="#d4d4d4" stroke-width="1" fill="none"/>
<path d="M643.6,48.8 L643.6,231.4 L736.1,247.9" stroke="#d4d4d4" stroke-width="1" fill="none"/>
<line x1="147.9" y1="266.1" x2="764.5" y2="229.6" stroke="#d4d4d4" stroke-width="1" fill="none"/>
<line x1="171.7" y1="270.4" x2="788.2" y2="233.8" stroke="#d4d4d4" stroke-width="1" fill="none"/>
<line x1="195.4" y1="274.6" x2="811.9" y2="238" stroke="#d4d4d4" stroke-width="1" fill="none"/>
<line x1="764.5" y1="229.6" x2="764.5" y2="48.6" stroke="#d4d4d4" stroke-width="1" fill="none"/>
<line x1="788.2" y1="233.8" x2="788.2" y2="52.8" stroke="#d4d4d4" stroke-width="1" fill="none"/>
<line x1="811.9" y1="238" x2="811.9" y2="57" stroke="#d4d4d4" stroke-width="1" fill="none"/>
<line x1="741.6" y1="43" x2="741.6" y2="224.7" stroke="#b8b8b8" stroke-width="1"/>
<path d="M125.4,262.1 L741.6,225.5 L833,242.4" stroke="#505050" stroke-width="1.1" fill="none"/>
<path d="M129.8,80.2 L221.3,96.7 L221.3,280.2 L129.8,262.2 Z" fill="url(#sg0)" fill-opacity="0.9"/>
<path d="M249.6,72.9 L341.1,89.4 L341.1,272.9 L249.6,254.9 Z" fill="url(#sg1)" fill-opacity="0.9"/>
<path d="M249.6,72.9 L341.1,89.4 L341.1,272.9 L249.6,254.9 Z" fill="url(#sedge)"/>
<path d="M369.4,65.6 L460.9,82.1 L460.9,265.6 L369.4,247.6 Z" fill="url(#sg2)" fill-opacity="0.9"/>
<path d="M369.4,65.6 L460.9,82.1 L460.9,265.6 L369.4,247.6 Z" fill="url(#sedge)"/>
<path d="M489.2,58.3 L580.7,74.8 L580.7,258.3 L489.2,240.3 Z" fill="url(#sg3)" fill-opacity="0.9"/>
<path d="M489.2,58.3 L580.7,74.8 L580.7,258.3 L489.2,240.3 Z" fill="url(#sedge)"/>
<path d="M609,51 L700.5,67.5 L700.5,251 L609,233 Z" fill="url(#sg4)" fill-opacity="0.9"/>
<path d="M609,51 L700.5,67.5 L700.5,251 L609,233 Z" fill="url(#sedge)"/>
<path d="M728.8,43.7 L820.3,60.2 L820.3,243.7 L728.8,225.7 Z" fill="url(#sg5)" fill-opacity="0.9"/>
<path d="M728.8,43.7 L820.3,60.2 L820.3,243.7 L728.8,225.7 Z" fill="url(#sedge)"/>
<path d="M162.3,109.7 L170.5,111.2 L169.5,116.7 L161.3,115.2 Z" fill="url(#g1)"/>
<path d="M174.1,111.8 L182.3,113.3 L181.3,118.8 L173.1,117.4 Z" fill="url(#g1)"/>
<path d="M185.9,114 L194.1,115.5 L193.1,121 L184.9,119.5 Z" fill="url(#g1)"/>
<path d="M158,111.7 L165.3,107.6 Q162.8,112.6 163.4,118.2 Z" fill="url(#g2)"/>
<path d="M169.8,113.9 L177.2,109.8 Q174.6,114.8 175.2,120.4 Z" fill="url(#g2)"/>
<path d="M181.6,116.1 L189,111.9 Q186.4,116.9 187,122.5 Z" fill="url(#g2)"/>
<path d="M150.5,131.1 L158.7,132.6 L157.7,138.1 L149.5,136.6 Z" fill="url(#g1)"/>
<path d="M162.3,133.2 L170.5,134.7 L169.5,140.3 L161.3,138.7 Z" fill="url(#g1)"/>
<path d="M174.1,135.4 L182.3,136.9 L181.3,142.4 L173.1,140.9 Z" fill="url(#g1)"/>
<path d="M185.9,137.6 L194.1,139.1 L193.1,144.6 L184.9,143.1 Z" fill="url(#g1)"/>
<path d="M197.7,139.8 L205.9,141.3 L204.9,146.8 L196.7,145.3 Z" fill="url(#g1)"/>
<path d="M146.2,133.1 L153.6,129 Q151,134 151.6,139.6 Z" fill="url(#g2)"/>
<path d="M158,135.3 L165.4,131.1 Q162.8,136.2 163.4,141.8 Z" fill="url(#g2)"/>
<path d="M169.8,137.5 L177.2,133.3 Q174.6,138.3 175.2,143.9 Z" fill="url(#g2)"/>
<path d="M181.6,139.6 L189,135.5 Q186.4,140.5 187,146.1 Z" fill="url(#g2)"/>
<path d="M193.4,141.8 L200.8,137.7 Q198.2,142.7 198.8,148.3 Z" fill="url(#g2)"/>
<path d="M138.7,151.3 L146.9,152.8 L145.9,158.3 L137.7,156.8 Z" fill="url(#g1)"/>
<path d="M150.5,153.5 L158.7,155 L157.7,160.5 L149.5,159 Z" fill="url(#g1)"/>
<path d="M162.3,155.7 L170.5,157.2 L169.5,162.7 L161.3,161.2 Z" fill="url(#g1)"/>
<path d="M174.1,157.9 L182.3,159.4 L181.3,164.9 L173.1,163.4 Z" fill="url(#g1)"/>
<path d="M185.9,160.1 L194.1,161.6 L193.1,167.1 L184.9,165.6 Z" fill="url(#g1)"/>
<path d="M197.7,162.3 L205.9,163.8 L204.9,169.3 L196.7,167.8 Z" fill="url(#g1)"/>
<path d="M209.5,164.5 L217.7,166 L216.7,171.5 L208.5,170 Z" fill="url(#g1)"/>
<path d="M134.4,153.3 L141.8,149.2 Q139.2,154.2 139.8,159.8 Z" fill="url(#g2)"/>
<path d="M146.2,155.5 L153.6,151.4 Q151,156.4 151.6,162 Z" fill="url(#g2)"/>
<path d="M158,157.7 L165.4,153.6 Q162.8,158.6 163.4,164.2 Z" fill="url(#g2)"/>
<path d="M169.8,159.9 L177.2,155.8 Q174.6,160.8 175.2,166.4 Z" fill="url(#g2)"/>
<path d="M181.6,162.1 L189,158 Q186.4,163 187,168.6 Z" fill="url(#g2)"/>
<path d="M193.4,164.3 L200.8,160.2 Q198.2,165.2 198.8,170.8 Z" fill="url(#g2)"/>
<path d="M205.2,166.5 L212.6,162.4 Q210,167.4 210.6,173 Z" fill="url(#g2)"/>
<path d="M138.7,174.8 L146.9,176.3 L145.9,181.8 L137.7,180.3 Z" fill="url(#g1)"/>
<path d="M150.5,177 L158.7,178.6 L157.7,184.1 L149.5,182.5 Z" fill="url(#g1)"/>
<path d="M162.3,179.2 L170.5,180.8 L169.5,186.3 L161.3,184.7 Z" fill="url(#g1)"/>
<path d="M174.1,181.5 L182.3,183 L181.3,188.5 L173.1,187 Z" fill="url(#g1)"/>
<path d="M185.9,183.7 L194.1,185.2 L193.1,190.7 L184.9,189.2 Z" fill="url(#g1)"/>
<path d="M197.7,185.9 L206,187.5 L204.9,193 L196.7,191.4 Z" fill="url(#g1)"/>
<path d="M209.5,188.2 L217.8,189.7 L216.7,195.2 L208.5,193.7 Z" fill="url(#g1)"/>
<path d="M134.4,176.8 L141.8,172.7 Q139.2,177.7 139.8,183.3 Z" fill="url(#g2)"/>
<path d="M146.2,179 L153.6,174.9 Q151,179.9 151.6,185.5 Z" fill="url(#g2)"/>
<path d="M158,181.3 L165.4,177.2 Q162.8,182.2 163.4,187.8 Z" fill="url(#g2)"/>
<path d="M169.8,183.5 L177.2,179.4 Q174.6,184.4 175.2,190 Z" fill="url(#g2)"/>
<path d="M181.6,185.7 L189,181.6 Q186.4,186.6 187,192.2 Z" fill="url(#g2)"/>
<path d="M193.4,187.9 L200.8,183.8 Q198.2,188.9 198.8,194.5 Z" fill="url(#g2)"/>
<path d="M205.2,190.2 L212.6,186.1 Q210,191.1 210.6,196.7 Z" fill="url(#g2)"/>
<path d="M150.5,201.1 L158.7,202.6 L157.7,208.1 L149.5,206.6 Z" fill="url(#g1)"/>
<path d="M162.3,203.3 L170.5,204.9 L169.5,210.4 L161.3,208.8 Z" fill="url(#g1)"/>
<path d="M174.1,205.6 L182.4,207.1 L181.3,212.6 L173.1,211.1 Z" fill="url(#g1)"/>
<path d="M185.9,207.8 L194.2,209.4 L193.1,214.9 L184.9,213.3 Z" fill="url(#g1)"/>
<path d="M197.7,210.1 L206,211.7 L204.9,217.2 L196.7,215.6 Z" fill="url(#g1)"/>
<path d="M209.6,212.3 L217.8,213.9 L216.7,219.4 L208.5,217.8 Z" fill="url(#g1)"/>
<path d="M146.2,203.1 L153.6,199 Q151,204 151.5,209.6 Z" fill="url(#g2)"/>
<path d="M158,205.3 L165.4,201.3 Q162.8,206.3 163.4,211.9 Z" fill="url(#g2)"/>
<path d="M169.8,207.6 L177.2,203.5 Q174.6,208.5 175.2,214.1 Z" fill="url(#g2)"/>
<path d="M181.6,209.9 L189,205.8 Q186.4,210.8 187,216.4 Z" fill="url(#g2)"/>
<path d="M193.4,212.1 L200.8,208 Q198.2,213 198.8,218.6 Z" fill="url(#g2)"/>
<path d="M205.2,214.4 L212.6,210.3 Q210,215.3 210.6,220.9 Z" fill="url(#g2)"/>
<path d="M150.5,224.2 L158.7,225.8 L157.7,231.3 L149.5,229.7 Z" fill="url(#g1)"/>
<path d="M162.3,226.5 L170.6,228.1 L169.5,233.6 L161.3,232 Z" fill="url(#g1)"/>
<path d="M174.1,228.8 L182.4,230.4 L181.3,235.9 L173.1,234.3 Z" fill="url(#g1)"/>
<path d="M185.9,231.1 L194.2,232.7 L193.1,238.2 L184.9,236.6 Z" fill="url(#g1)"/>
<path d="M197.8,233.3 L206,234.9 L204.9,240.4 L196.7,238.8 Z" fill="url(#g1)"/>
<path d="M146.2,226.2 L153.6,222.2 Q151,227.2 151.5,232.8 Z" fill="url(#g2)"/>
<path d="M158,228.5 L165.4,224.4 Q162.8,229.4 163.3,235 Z" fill="url(#g2)"/>
<path d="M169.8,230.8 L177.2,226.7 Q174.6,231.7 175.1,237.3 Z" fill="url(#g2)"/>
<path d="M181.6,233.1 L189,229 Q186.4,234 186.9,239.6 Z" fill="url(#g2)"/>
<path d="M193.4,235.4 L200.8,231.3 Q198.2,236.3 198.8,241.9 Z" fill="url(#g2)"/>
<path d="M174.1,251.4 L182.4,253 L181.3,258.5 L173.1,256.9 Z" fill="url(#g1)"/>
<path d="M169.8,253.4 L177.2,249.4 Q174.6,254.4 175.1,260 Z" fill="url(#g2)"/>
<path d="M282.1,102.4 L290.3,103.9 L289.3,109.4 L281.1,107.9 Z" fill="url(#g1)"/>
<path d="M293.9,104.5 L302.1,106 L301.1,111.5 L292.9,110.1 Z" fill="url(#g1)"/>
<path d="M305.7,106.7 L313.9,108.2 L312.9,113.7 L304.7,112.2 Z" fill="url(#g1)"/>
<path d="M277.8,104.4 L285.1,100.3 Q282.6,105.3 283.2,110.9 Z" fill="url(#g2)"/>
<path d="M289.6,106.6 L297,102.5 Q294.4,107.5 295,113.1 Z" fill="url(#g2)"/>
<path d="M301.4,108.8 L308.8,104.6 Q306.2,109.6 306.8,115.2 Z" fill="url(#g2)"/>
<path d="M270.3,123.8 L278.5,125.3 L277.5,130.8 L269.3,129.3 Z" fill="url(#g1)"/>
<path d="M282.1,125.9 L290.3,127.4 L289.3,133 L281.1,131.4 Z" fill="url(#g1)"/>
<path d="M293.9,128.1 L302.1,129.6 L301.1,135.1 L292.9,133.6 Z" fill="url(#g1)"/>
<path d="M305.7,130.3 L313.9,131.8 L312.9,137.3 L304.7,135.8 Z" fill="url(#g1)"/>
<path d="M317.5,132.5 L325.7,134 L324.7,139.5 L316.5,138 Z" fill="url(#g1)"/>
<path d="M266,125.8 L273.4,121.7 Q270.8,126.7 271.4,132.3 Z" fill="url(#g2)"/>
<path d="M277.8,128 L285.2,123.8 Q282.6,128.9 283.2,134.5 Z" fill="url(#g2)"/>
<path d="M289.6,130.2 L297,126 Q294.4,131 295,136.6 Z" fill="url(#g2)"/>
<path d="M301.4,132.3 L308.8,128.2 Q306.2,133.2 306.8,138.8 Z" fill="url(#g2)"/>
<path d="M313.2,134.5 L320.6,130.4 Q318,135.4 318.6,141 Z" fill="url(#g2)"/>
<path d="M258.5,144 L266.7,145.5 L265.7,151 L257.5,149.5 Z" fill="url(#g1)"/>
<path d="M270.3,146.2 L278.5,147.7 L277.5,153.2 L269.3,151.7 Z" fill="url(#g1)"/>
<path d="M282.1,148.4 L290.3,149.9 L289.3,155.4 L281.1,153.9 Z" fill="url(#g1)"/>
<path d="M293.9,150.6 L302.1,152.1 L301.1,157.6 L292.9,156.1 Z" fill="url(#g1)"/>
<path d="M305.7,152.8 L313.9,154.3 L312.9,159.8 L304.7,158.3 Z" fill="url(#g1)"/>
<path d="M317.5,155 L325.7,156.5 L324.7,162 L316.5,160.5 Z" fill="url(#g1)"/>
<path d="M329.3,157.2 L337.5,158.7 L336.5,164.2 L328.3,162.7 Z" fill="url(#g1)"/>
<path d="M254.2,146 L261.6,141.9 Q259,146.9 259.6,152.5 Z" fill="url(#g2)"/>
<path d="M266,148.2 L273.4,144.1 Q270.8,149.1 271.4,154.7 Z" fill="url(#g2)"/>
<path d="M277.8,150.4 L285.2,146.3 Q282.6,151.3 283.2,156.9 Z" fill="url(#g2)"/>
<path d="M289.6,152.6 L297,148.5 Q294.4,153.5 295,159.1 Z" fill="url(#g2)"/>
<path d="M301.4,154.8 L308.8,150.7 Q306.2,155.7 306.8,161.3 Z" fill="url(#g2)"/>
<path d="M313.2,157 L320.6,152.9 Q318,157.9 318.6,163.5 Z" fill="url(#g2)"/>
<path d="M325,159.2 L332.4,155.1 Q329.8,160.1 330.4,165.7 Z" fill="url(#g2)"/>
<path d="M258.5,167.5 L266.7,169 L265.7,174.5 L257.5,173 Z" fill="url(#g1)"/>
<path d="M270.3,169.7 L278.5,171.3 L277.5,176.8 L269.3,175.2 Z" fill="url(#g1)"/>
<path d="M282.1,171.9 L290.3,173.5 L289.3,179 L281.1,177.4 Z" fill="url(#g1)"/>
<path d="M293.9,174.2 L302.1,175.7 L301.1,181.2 L292.9,179.7 Z" fill="url(#g1)"/>
<path d="M305.7,176.4 L313.9,177.9 L312.9,183.4 L304.7,181.9 Z" fill="url(#g1)"/>
<path d="M317.5,178.6 L325.8,180.2 L324.7,185.7 L316.5,184.1 Z" fill="url(#g1)"/>
<path d="M329.3,180.9 L337.6,182.4 L336.5,187.9 L328.3,186.4 Z" fill="url(#g1)"/>
<path d="M254.2,169.5 L261.6,165.4 Q259,170.4 259.6,176 Z" fill="url(#g2)"/>
<path d="M266,171.7 L273.4,167.6 Q270.8,172.6 271.4,178.2 Z" fill="url(#g2)"/>
<path d="M277.8,174 L285.2,169.9 Q282.6,174.9 283.2,180.5 Z" fill="url(#g2)"/>
<path d="M289.6,176.2 L297,172.1 Q294.4,177.1 295,182.7 Z" fill="url(#g2)"/>
<path d="M301.4,178.4 L308.8,174.3 Q306.2,179.3 306.8,184.9 Z" fill="url(#g2)"/>
<path d="M313.2,180.6 L320.6,176.5 Q318,181.6 318.6,187.2 Z" fill="url(#g2)"/>
<path d="M325,182.9 L332.4,178.8 Q329.8,183.8 330.4,189.4 Z" fill="url(#g2)"/>
<path d="M270.3,193.8 L278.5,195.3 L277.5,200.8 L269.3,199.3 Z" fill="url(#g3)"/>
<path d="M282.1,196 L290.3,197.6 L289.3,203.1 L281.1,201.5 Z" fill="url(#g3)"/>
<path d="M293.9,198.3 L302.2,199.8 L301.1,205.3 L292.9,203.8 Z" fill="url(#g3)"/>
<path d="M305.7,200.5 L314,202.1 L312.9,207.6 L304.7,206 Z" fill="url(#g3)"/>
<path d="M317.5,202.8 L325.8,204.4 L324.7,209.9 L316.5,208.3 Z" fill="url(#g3)"/>
<path d="M329.4,205 L337.6,206.6 L336.5,212.1 L328.3,210.5 Z" fill="url(#g3)"/>
<path d="M266,195.8 L273.4,191.7 Q270.8,196.7 271.3,202.3 Z" fill="url(#g4)"/>
<path d="M277.8,198 L285.2,194 Q282.6,199 283.2,204.6 Z" fill="url(#g4)"/>
<path d="M289.6,200.3 L297,196.2 Q294.4,201.2 295,206.8 Z" fill="url(#g4)"/>
<path d="M301.4,202.6 L308.8,198.5 Q306.2,203.5 306.8,209.1 Z" fill="url(#g4)"/>
<path d="M313.2,204.8 L320.6,200.7 Q318,205.7 318.6,211.3 Z" fill="url(#g4)"/>
<path d="M325,207.1 L332.4,203 Q329.8,208 330.4,213.6 Z" fill="url(#g4)"/>
<path d="M270.3,216.9 L278.5,218.5 L277.5,224 L269.3,222.4 Z" fill="url(#g5)"/>
<path d="M282.1,219.2 L290.4,220.8 L289.3,226.3 L281.1,224.7 Z" fill="url(#g5)"/>
<path d="M293.9,221.5 L302.2,223.1 L301.1,228.6 L292.9,227 Z" fill="url(#g5)"/>
<path d="M305.7,223.8 L314,225.4 L312.9,230.9 L304.7,229.3 Z" fill="url(#g5)"/>
<path d="M317.6,226 L325.8,227.6 L324.7,233.1 L316.5,231.5 Z" fill="url(#g5)"/>
<path d="M266,218.9 L273.4,214.9 Q270.8,219.9 271.3,225.5 Z" fill="url(#g6)"/>
<path d="M277.8,221.2 L285.2,217.1 Q282.6,222.1 283.1,227.7 Z" fill="url(#g6)"/>
<path d="M289.6,223.5 L297,219.4 Q294.4,224.4 294.9,230 Z" fill="url(#g6)"/>
<path d="M301.4,225.8 L308.8,221.7 Q306.2,226.7 306.7,232.3 Z" fill="url(#g6)"/>
<path d="M313.2,228.1 L320.6,224 Q318,229 318.6,234.6 Z" fill="url(#g6)"/>
<path d="M293.9,244.1 L302.2,245.7 L301.1,251.2 L292.9,249.6 Z" fill="url(#g7)"/>
<path d="M289.6,246.1 L297,242.1 Q294.4,247.1 294.9,252.7 Z" fill="url(#g8)"/>
<path d="M399.9,95.5 L405.2,96.5 L404.5,100.4 L399.1,99.5 Z" fill="url(#g9)"/>
<path d="M411.7,97.7 L417,98.6 L416.3,102.6 L410.9,101.6 Z" fill="url(#g9)"/>
<line x1="428.4" y1="102.8" x2="440.2" y2="104.9" stroke="#c8a0b8" stroke-width="4" stroke-opacity="0.55" stroke-linecap="round"/><path d="M423.5,99.8 L428.8,100.8 L428.1,104.7 L422.7,103.8 Z" fill="url(#g9)"/>
<path d="M393,96.3 L404.7,93.4 Q401.1,97.8 402.9,103.2 Z" fill="url(#g10)"/>
<path d="M404.8,98.5 L416.5,95.5 Q412.9,99.9 414.7,105.4 Z" fill="url(#g10)"/>
<path d="M416.6,100.6 L428.3,97.7 Q424.7,102.1 426.5,107.5 Z" fill="url(#g10)"/>
<path d="M388.1,116.9 L393.4,117.9 L392.6,121.8 L387.3,120.8 Z" fill="url(#g11)"/>
<path d="M399.9,119.1 L405.2,120 L404.4,124 L399.1,123 Z" fill="url(#g11)"/>
<path d="M411.7,121.2 L417,122.2 L416.3,126.2 L410.9,125.2 Z" fill="url(#g11)"/>
<path d="M423.5,123.4 L428.8,124.4 L428.1,128.3 L422.7,127.4 Z" fill="url(#g11)"/>
<line x1="440.2" y1="128.6" x2="452" y2="130.7" stroke="#c8a0b8" stroke-width="4" stroke-opacity="0.55" stroke-linecap="round"/><path d="M435.3,125.6 L440.6,126.6 L439.9,130.5 L434.5,129.5 Z" fill="url(#g11)"/>
<path d="M381.2,117.6 L392.9,114.7 Q389.3,119.1 391.1,124.6 Z" fill="url(#g12)"/>
<path d="M393,119.8 L404.7,116.9 Q401.1,121.3 402.9,126.7 Z" fill="url(#g12)"/>
<path d="M404.8,122 L416.5,119.1 Q412.9,123.5 414.7,128.9 Z" fill="url(#g12)"/>
<path d="M416.6,124.2 L428.3,121.3 Q424.7,125.7 426.5,131.1 Z" fill="url(#g12)"/>
<path d="M428.4,126.4 L440.1,123.5 Q436.5,127.9 438.3,133.3 Z" fill="url(#g12)"/>
<path d="M378.3,136.7 L386.5,138.2 L385.5,143.7 L377.3,142.2 Z" fill="url(#g13)"/>
<path d="M390.1,138.9 L398.3,140.4 L397.3,145.9 L389.1,144.4 Z" fill="url(#g13)"/>
<path d="M401.9,141.1 L410.1,142.6 L409.1,148.1 L400.9,146.6 Z" fill="url(#g13)"/>
<path d="M413.7,143.3 L421.9,144.8 L420.9,150.3 L412.7,148.8 Z" fill="url(#g13)"/>
<path d="M425.5,145.5 L433.7,147 L432.7,152.5 L424.5,151 Z" fill="url(#g13)"/>
<path d="M437.3,147.7 L445.5,149.2 L444.5,154.7 L436.3,153.2 Z" fill="url(#g13)"/>
<path d="M449.1,149.9 L457.3,151.4 L456.3,156.9 L448.1,155.4 Z" fill="url(#g13)"/>
<path d="M374,138.7 L381.4,134.6 Q378.8,139.6 379.4,145.2 Z" fill="url(#g14)"/>
<path d="M385.8,140.9 L393.2,136.8 Q390.6,141.8 391.2,147.4 Z" fill="url(#g14)"/>
<path d="M397.6,143.1 L405,139 Q402.4,144 403,149.6 Z" fill="url(#g14)"/>
<path d="M409.4,145.3 L416.8,141.2 Q414.2,146.2 414.8,151.8 Z" fill="url(#g14)"/>
<path d="M421.2,147.5 L428.6,143.4 Q426,148.4 426.6,154 Z" fill="url(#g14)"/>
<path d="M433,149.7 L440.4,145.6 Q437.8,150.6 438.4,156.2 Z" fill="url(#g14)"/>
<path d="M444.8,151.9 L452.2,147.8 Q449.6,152.8 450.2,158.4 Z" fill="url(#g14)"/>
<path d="M378.3,160.2 L386.5,161.7 L385.5,167.2 L377.3,165.7 Z" fill="url(#g15)"/>
<path d="M390.1,162.4 L398.3,164 L397.3,169.5 L389.1,167.9 Z" fill="url(#g15)"/>
<path d="M401.9,164.6 L410.1,166.2 L409.1,171.7 L400.9,170.1 Z" fill="url(#g15)"/>
<path d="M413.7,166.9 L421.9,168.4 L420.9,173.9 L412.7,172.4 Z" fill="url(#g15)"/>
<path d="M425.5,169.1 L433.7,170.6 L432.7,176.1 L424.5,174.6 Z" fill="url(#g15)"/>
<path d="M437.3,171.3 L445.6,172.9 L444.5,178.4 L436.3,176.8 Z" fill="url(#g15)"/>
<path d="M449.1,173.6 L457.4,175.1 L456.3,180.6 L448.1,179.1 Z" fill="url(#g15)"/>
<path d="M374,162.2 L381.4,158.1 Q378.8,163.1 379.4,168.7 Z" fill="url(#g16)"/>
<path d="M385.8,164.4 L393.2,160.3 Q390.6,165.3 391.2,170.9 Z" fill="url(#g16)"/>
<path d="M397.6,166.7 L405,162.6 Q402.4,167.6 403,173.2 Z" fill="url(#g16)"/>
<path d="M409.4,168.9 L416.8,164.8 Q414.2,169.8 414.8,175.4 Z" fill="url(#g16)"/>
<path d="M421.2,171.1 L428.6,167 Q426,172 426.6,177.6 Z" fill="url(#g16)"/>
<path d="M433,173.3 L440.4,169.2 Q437.8,174.3 438.4,179.9 Z" fill="url(#g16)"/>
<path d="M444.8,175.6 L452.2,171.5 Q449.6,176.5 450.2,182.1 Z" fill="url(#g16)"/>
<circle cx="391.7" cy="189.6" r="4.3" fill="#5fe060" stroke="#398639" stroke-width="0.6"/><circle cx="390.6" cy="188.8" r="1.8" fill="#265926" fill-opacity="0.85"/><circle cx="393.2" cy="190.9" r="1.3" fill="#9fec9f" fill-opacity="0.7"/>
<circle cx="403.5" cy="191.9" r="4.3" fill="#5fe060" stroke="#398639" stroke-width="0.6"/><circle cx="402.4" cy="191" r="1.8" fill="#265926" fill-opacity="0.85"/><circle cx="405" cy="193.2" r="1.3" fill="#9fec9f" fill-opacity="0.7"/>
<circle cx="415.3" cy="194.1" r="4.3" fill="#5fe060" stroke="#398639" stroke-width="0.6"/><circle cx="414.2" cy="193.3" r="1.8" fill="#265926" fill-opacity="0.85"/><circle cx="416.8" cy="195.4" r="1.3" fill="#9fec9f" fill-opacity="0.7"/>
<circle cx="427.1" cy="196.4" r="4.3" fill="#5fe060" stroke="#398639" stroke-width="0.6"/><circle cx="426" cy="195.5" r="1.8" fill="#265926" fill-opacity="0.85"/><circle cx="428.6" cy="197.7" r="1.3" fill="#9fec9f" fill-opacity="0.7"/>
<circle cx="438.9" cy="198.6" r="4.3" fill="#5fe060" stroke="#398639" stroke-width="0.6"/><circle cx="437.8" cy="197.8" r="1.8" fill="#265926" fill-opacity="0.85"/><circle cx="440.4" cy="199.9" r="1.3" fill="#9fec9f" fill-opacity="0.7"/>
<circle cx="450.7" cy="200.9" r="4.3" fill="#5fe060" stroke="#398639" stroke-width="0.6"/><circle cx="449.6" cy="200" r="1.8" fill="#265926" fill-opacity="0.85"/><circle cx="452.2" cy="202.2" r="1.3" fill="#9fec9f" fill-opacity="0.7"/>
<circle cx="391.7" cy="212.8" r="4.3" fill="#8fe050" stroke="#558630" stroke-width="0.6"/><circle cx="390.6" cy="211.9" r="1.8" fill="#395920" fill-opacity="0.85"/><circle cx="393.2" cy="214.1" r="1.3" fill="#bbec96" fill-opacity="0.7"/>
<circle cx="403.5" cy="215.1" r="4.3" fill="#8fe050" stroke="#558630" stroke-width="0.6"/><circle cx="402.4" cy="214.2" r="1.8" fill="#395920" fill-opacity="0.85"/><circle cx="405" cy="216.3" r="1.3" fill="#bbec96" fill-opacity="0.7"/>
<circle cx="415.3" cy="217.3" r="4.3" fill="#8fe050" stroke="#558630" stroke-width="0.6"/><circle cx="414.2" cy="216.5" r="1.8" fill="#395920" fill-opacity="0.85"/><circle cx="416.8" cy="218.6" r="1.3" fill="#bbec96" fill-opacity="0.7"/>
<circle cx="427.1" cy="219.6" r="4.3" fill="#8fe050" stroke="#558630" stroke-width="0.6"/><circle cx="426" cy="218.8" r="1.8" fill="#395920" fill-opacity="0.85"/><circle cx="428.6" cy="220.9" r="1.3" fill="#bbec96" fill-opacity="0.7"/>
<circle cx="438.9" cy="221.9" r="4.3" fill="#8fe050" stroke="#558630" stroke-width="0.6"/><circle cx="437.8" cy="221" r="1.8" fill="#395920" fill-opacity="0.85"/><circle cx="440.4" cy="223.2" r="1.3" fill="#bbec96" fill-opacity="0.7"/>
<circle cx="415.3" cy="240" r="4" fill="#cbe040" stroke="#798626" stroke-width="0.6"/><circle cx="414.3" cy="239.2" r="1.7" fill="#515919" fill-opacity="0.85"/><circle cx="416.7" cy="241.2" r="1.2" fill="#dfec8c" fill-opacity="0.7"/>
<path d="M517.8,87.9 L523.1,88.9 L522.4,92.8 L517.1,91.8 Z" fill="url(#g17)"/>
<path d="M529.6,90 L534.9,91 L534.2,94.9 L528.9,94 Z" fill="url(#g17)"/>
<line x1="546.4" y1="95.1" x2="558.2" y2="97.3" stroke="#c8a0b8" stroke-width="4" stroke-opacity="0.55" stroke-linecap="round"/><path d="M541.4,92.2 L546.7,93.2 L546,97.1 L540.7,96.1 Z" fill="url(#g17)"/>
<path d="M511,88.7 L522.8,85.1 Q519.1,90.2 520.8,96.2 Z" fill="url(#g18)"/>
<path d="M522.8,90.8 L534.6,87.3 Q530.9,92.3 532.6,98.3 Z" fill="url(#g18)"/>
<path d="M534.6,93 L546.4,89.5 Q542.7,94.5 544.4,100.5 Z" fill="url(#g18)"/>
<path d="M506,109.2 L511.3,110.2 L510.6,114.2 L505.3,113.2 Z" fill="url(#g19)"/>
<path d="M517.8,111.4 L523.1,112.4 L522.4,116.3 L517.1,115.4 Z" fill="url(#g19)"/>
<path d="M529.6,113.6 L534.9,114.6 L534.2,118.5 L528.9,117.5 Z" fill="url(#g19)"/>
<path d="M541.4,115.8 L546.8,116.8 L546,120.7 L540.7,119.7 Z" fill="url(#g19)"/>
<line x1="558.2" y1="120.9" x2="570" y2="123.1" stroke="#c8a0b8" stroke-width="4" stroke-opacity="0.55" stroke-linecap="round"/><path d="M553.2,118 L558.6,119 L557.8,122.9 L552.5,121.9 Z" fill="url(#g19)"/>
<path d="M499.2,110 L511,106.5 Q507.3,111.5 509,117.5 Z" fill="url(#g20)"/>
<path d="M511,112.2 L522.8,108.7 Q519.1,113.7 520.8,119.7 Z" fill="url(#g20)"/>
<path d="M522.8,114.4 L534.6,110.9 Q530.9,115.9 532.6,121.9 Z" fill="url(#g20)"/>
<path d="M534.6,116.6 L546.4,113 Q542.7,118.1 544.4,124.1 Z" fill="url(#g20)"/>
<path d="M546.4,118.7 L558.2,115.2 Q554.5,120.2 556.2,126.2 Z" fill="url(#g20)"/>
<path d="M495.4,128.9 L502.6,130.2 L501.5,135.7 L494.3,134.4 Z" fill="url(#g21)"/>
<path d="M506.2,130.9 L513.4,132.2 L512.3,137.7 L505.1,136.4 Z" fill="url(#g21)"/>
<path d="M517,132.9 L524.2,134.2 L523.1,139.7 L515.9,138.4 Z" fill="url(#g21)"/>
<path d="M527.8,134.9 L534.9,136.3 L533.9,141.8 L526.7,140.4 Z" fill="url(#g21)"/>
<path d="M538.6,136.9 L545.7,138.3 L544.7,143.8 L537.5,142.4 Z" fill="url(#g21)"/>
<path d="M549.4,138.9 L556.5,140.3 L555.5,145.8 L548.3,144.5 Z" fill="url(#g21)"/>
<path d="M560.2,141 L567.3,142.3 L566.3,147.8 L559.1,146.5 Z" fill="url(#g21)"/>
<path d="M571,143 L578.1,144.3 L577.1,149.8 L569.9,148.5 Z" fill="url(#g21)"/>
<path d="M491,130.9 L498.4,126.8 Q495.8,131.8 496.4,137.4 Z" fill="url(#g22)"/>
<path d="M501.8,132.9 L509.2,128.8 Q506.6,133.8 507.2,139.4 Z" fill="url(#g22)"/>
<path d="M512.6,134.9 L520,130.8 Q517.4,135.8 518,141.4 Z" fill="url(#g22)"/>
<path d="M523.4,136.9 L530.8,132.8 Q528.2,137.8 528.8,143.4 Z" fill="url(#g22)"/>
<path d="M534.2,139 L541.6,134.9 Q539,139.9 539.6,145.5 Z" fill="url(#g22)"/>
<path d="M545,141 L552.4,136.9 Q549.8,141.9 550.4,147.5 Z" fill="url(#g22)"/>
<path d="M555.8,143 L563.2,138.9 Q560.6,143.9 561.2,149.5 Z" fill="url(#g22)"/>
<path d="M566.6,145 L574,140.9 Q571.4,145.9 572,151.5 Z" fill="url(#g22)"/>
<path d="M498.1,152.9 L506.3,154.4 L505.3,159.9 L497.1,158.4 Z" fill="url(#g23)"/>
<path d="M509.9,155.1 L518.1,156.7 L517.1,162.2 L508.9,160.6 Z" fill="url(#g23)"/>
<path d="M521.7,157.3 L529.9,158.9 L528.9,164.4 L520.7,162.8 Z" fill="url(#g23)"/>
<path d="M533.5,159.6 L541.7,161.1 L540.7,166.6 L532.5,165.1 Z" fill="url(#g23)"/>
<path d="M545.3,161.8 L553.5,163.3 L552.5,168.8 L544.3,167.3 Z" fill="url(#g23)"/>
<path d="M557.1,164 L565.4,165.6 L564.3,171.1 L556.1,169.5 Z" fill="url(#g23)"/>
<path d="M568.9,166.3 L577.2,167.8 L576.1,173.3 L567.9,171.8 Z" fill="url(#g23)"/>
<path d="M493.8,154.9 L501.2,150.8 Q498.6,155.8 499.2,161.4 Z" fill="url(#g24)"/>
<path d="M505.6,157.1 L513,153 Q510.4,158 511,163.6 Z" fill="url(#g24)"/>
<path d="M517.4,159.4 L524.8,155.3 Q522.2,160.3 522.8,165.9 Z" fill="url(#g24)"/>
<path d="M529.2,161.6 L536.6,157.5 Q534,162.5 534.6,168.1 Z" fill="url(#g24)"/>
<path d="M541,163.8 L548.4,159.7 Q545.8,164.7 546.4,170.3 Z" fill="url(#g24)"/>
<path d="M552.8,166 L560.2,161.9 Q557.6,167 558.2,172.6 Z" fill="url(#g24)"/>
<path d="M564.6,168.3 L572,164.2 Q569.4,169.2 570,174.8 Z" fill="url(#g24)"/>
<circle cx="511.5" cy="182.3" r="4.3" fill="#f8f4a0" stroke="#949260" stroke-width="0.6"/><circle cx="510.4" cy="181.5" r="1.8" fill="#636140" fill-opacity="0.85"/><circle cx="513" cy="183.6" r="1.3" fill="#faf8c6" fill-opacity="0.7"/>
<circle cx="523.3" cy="184.6" r="4.3" fill="#f4ea60" stroke="#928c39" stroke-width="0.6"/><circle cx="522.2" cy="183.7" r="1.8" fill="#615d26" fill-opacity="0.85"/><circle cx="524.8" cy="185.9" r="1.3" fill="#f8f29f" fill-opacity="0.7"/>
<circle cx="535.1" cy="186.8" r="4.3" fill="#f0d838" stroke="#908121" stroke-width="0.6"/><circle cx="534" cy="186" r="1.8" fill="#605616" fill-opacity="0.85"/><circle cx="536.6" cy="188.1" r="1.3" fill="#f6e787" fill-opacity="0.7"/>
<circle cx="546.9" cy="189.1" r="4.3" fill="#d8c830" stroke="#81781c" stroke-width="0.6"/><circle cx="545.8" cy="188.2" r="1.8" fill="#565013" fill-opacity="0.85"/><circle cx="548.4" cy="190.4" r="1.3" fill="#e7de82" fill-opacity="0.7"/>
<circle cx="558.7" cy="191.3" r="4.3" fill="#b8c83a" stroke="#6e7822" stroke-width="0.6"/><circle cx="557.6" cy="190.5" r="1.8" fill="#495017" fill-opacity="0.85"/><circle cx="560.2" cy="192.6" r="1.3" fill="#d4de88" fill-opacity="0.7"/>
<circle cx="570.5" cy="193.6" r="4.3" fill="#90c040" stroke="#567326" stroke-width="0.6"/><circle cx="569.4" cy="192.7" r="1.8" fill="#394c19" fill-opacity="0.85"/><circle cx="572" cy="194.9" r="1.3" fill="#bcd98c" fill-opacity="0.7"/>
<circle cx="511.5" cy="205.5" r="4.3" fill="#fbf6b0" stroke="#969369" stroke-width="0.6"/><circle cx="510.4" cy="204.6" r="1.8" fill="#646246" fill-opacity="0.85"/><circle cx="513" cy="206.8" r="1.3" fill="#fcf9cf" fill-opacity="0.7"/>
<circle cx="523.3" cy="207.8" r="4.3" fill="#f4ee70" stroke="#928e43" stroke-width="0.6"/><circle cx="522.2" cy="206.9" r="1.8" fill="#615f2c" fill-opacity="0.85"/><circle cx="524.8" cy="209" r="1.3" fill="#f8f4a9" fill-opacity="0.7"/>
<circle cx="535.1" cy="210" r="4.3" fill="#f0c838" stroke="#907821" stroke-width="0.6"/><circle cx="534" cy="209.2" r="1.8" fill="#605016" fill-opacity="0.85"/><circle cx="536.6" cy="211.3" r="1.3" fill="#f6de87" fill-opacity="0.7"/>
<circle cx="546.9" cy="212.3" r="4.3" fill="#f0a028" stroke="#906018" stroke-width="0.6"/><circle cx="545.8" cy="211.5" r="1.8" fill="#604010" fill-opacity="0.85"/><circle cx="548.4" cy="213.6" r="1.3" fill="#f6c67e" fill-opacity="0.7"/>
<circle cx="558.7" cy="214.6" r="4.3" fill="#f09424" stroke="#905815" stroke-width="0.6"/><circle cx="557.6" cy="213.7" r="1.8" fill="#603b0e" fill-opacity="0.85"/><circle cx="560.2" cy="215.9" r="1.3" fill="#f6be7b" fill-opacity="0.7"/>
<circle cx="535.1" cy="232.7" r="4" fill="#f0e030" stroke="#90861c" stroke-width="0.6"/><circle cx="534.1" cy="231.9" r="1.7" fill="#605913" fill-opacity="0.85"/><circle cx="536.5" cy="233.9" r="1.2" fill="#f6ec82" fill-opacity="0.7"/>
<path d="M637.6,80.6 L642.9,81.6 L642.2,85.5 L636.9,84.5 Z" fill="url(#g25)"/>
<path d="M649.4,82.7 L654.7,83.7 L654,87.6 L648.7,86.7 Z" fill="url(#g25)"/>
<line x1="666.2" y1="87.8" x2="678" y2="90" stroke="#c8a0b8" stroke-width="4" stroke-opacity="0.55" stroke-linecap="round"/><path d="M661.2,84.9 L666.5,85.9 L665.8,89.8 L660.5,88.8 Z" fill="url(#g25)"/>
<path d="M630.8,81.4 L642.6,77.8 Q638.9,82.9 640.6,88.9 Z" fill="url(#g26)"/>
<path d="M642.6,83.5 L654.4,80 Q650.7,85 652.4,91 Z" fill="url(#g26)"/>
<path d="M654.4,85.7 L666.2,82.2 Q662.5,87.2 664.2,93.2 Z" fill="url(#g26)"/>
<path d="M625.8,101.9 L631.1,102.9 L630.4,106.9 L625.1,105.9 Z" fill="url(#g27)"/>
<path d="M637.6,104.1 L642.9,105.1 L642.2,109 L636.9,108.1 Z" fill="url(#g27)"/>
<path d="M649.4,106.3 L654.7,107.3 L654,111.2 L648.7,110.2 Z" fill="url(#g27)"/>
<path d="M661.2,108.5 L666.6,109.5 L665.8,113.4 L660.5,112.4 Z" fill="url(#g27)"/>
<line x1="678" y1="113.6" x2="689.8" y2="115.8" stroke="#c8a0b8" stroke-width="4" stroke-opacity="0.55" stroke-linecap="round"/><path d="M673,110.7 L678.4,111.7 L677.6,115.6 L672.3,114.6 Z" fill="url(#g27)"/>
<path d="M619,102.7 L630.8,99.2 Q627.1,104.2 628.8,110.2 Z" fill="url(#g28)"/>
<path d="M630.8,104.9 L642.6,101.4 Q638.9,106.4 640.6,112.4 Z" fill="url(#g28)"/>
<path d="M642.6,107.1 L654.4,103.6 Q650.7,108.6 652.4,114.6 Z" fill="url(#g28)"/>
<path d="M654.4,109.3 L666.2,105.7 Q662.5,110.8 664.2,116.8 Z" fill="url(#g28)"/>
<path d="M666.2,111.4 L678,107.9 Q674.3,112.9 676,118.9 Z" fill="url(#g28)"/>
<path d="M615.2,121.6 L622.4,122.9 L621.3,128.4 L614.1,127.1 Z" fill="url(#g29)"/>
<path d="M626,123.6 L633.2,124.9 L632.1,130.4 L624.9,129.1 Z" fill="url(#g29)"/>
<path d="M636.8,125.6 L644,126.9 L642.9,132.4 L635.7,131.1 Z" fill="url(#g29)"/>
<path d="M647.6,127.6 L654.7,129 L653.7,134.5 L646.5,133.1 Z" fill="url(#g29)"/>
<path d="M658.4,129.6 L665.5,131 L664.5,136.5 L657.3,135.1 Z" fill="url(#g29)"/>
<path d="M669.2,131.6 L676.3,133 L675.3,138.5 L668.1,137.2 Z" fill="url(#g29)"/>
<path d="M680,133.7 L687.1,135 L686.1,140.5 L678.9,139.2 Z" fill="url(#g29)"/>
<path d="M690.8,135.7 L697.9,137 L696.9,142.5 L689.7,141.2 Z" fill="url(#g29)"/>
<path d="M610.8,123.6 L618.2,119.5 Q615.6,124.5 616.2,130.1 Z" fill="url(#g30)"/>
<path d="M621.6,125.6 L629,121.5 Q626.4,126.5 627,132.1 Z" fill="url(#g30)"/>
<path d="M632.4,127.6 L639.8,123.5 Q637.2,128.5 637.8,134.1 Z" fill="url(#g30)"/>
<path d="M643.2,129.6 L650.6,125.5 Q648,130.5 648.6,136.1 Z" fill="url(#g30)"/>
<path d="M654,131.7 L661.4,127.6 Q658.8,132.6 659.4,138.2 Z" fill="url(#g30)"/>
<path d="M664.8,133.7 L672.2,129.6 Q669.6,134.6 670.2,140.2 Z" fill="url(#g30)"/>
<path d="M675.6,135.7 L683,131.6 Q680.4,136.6 681,142.2 Z" fill="url(#g30)"/>
<path d="M686.4,137.7 L693.8,133.6 Q691.2,138.6 691.8,144.2 Z" fill="url(#g30)"/>
<path d="M617.9,145.6 L626.1,147.1 L625.1,152.6 L616.9,151.1 Z" fill="url(#g31)"/>
<path d="M629.7,147.8 L637.9,149.4 L636.9,154.9 L628.7,153.3 Z" fill="url(#g31)"/>
<path d="M641.5,150 L649.7,151.6 L648.7,157.1 L640.5,155.5 Z" fill="url(#g31)"/>
<path d="M653.3,152.3 L661.5,153.8 L660.5,159.3 L652.3,157.8 Z" fill="url(#g31)"/>
<path d="M665.1,154.5 L673.3,156 L672.3,161.5 L664.1,160 Z" fill="url(#g31)"/>
<path d="M676.9,156.7 L685.2,158.3 L684.1,163.8 L675.9,162.2 Z" fill="url(#g31)"/>
<path d="M688.7,159 L697,160.5 L695.9,166 L687.7,164.5 Z" fill="url(#g31)"/>
<path d="M613.6,147.6 L621,143.5 Q618.4,148.5 619,154.1 Z" fill="url(#g32)"/>
<path d="M625.4,149.8 L632.8,145.7 Q630.2,150.7 630.8,156.3 Z" fill="url(#g32)"/>
<path d="M637.2,152.1 L644.6,148 Q642,153 642.6,158.6 Z" fill="url(#g32)"/>
<path d="M649,154.3 L656.4,150.2 Q653.8,155.2 654.4,160.8 Z" fill="url(#g32)"/>
<path d="M660.8,156.5 L668.2,152.4 Q665.6,157.4 666.2,163 Z" fill="url(#g32)"/>
<path d="M672.6,158.7 L680,154.6 Q677.4,159.7 678,165.3 Z" fill="url(#g32)"/>
<path d="M684.4,161 L691.8,156.9 Q689.2,161.9 689.8,167.5 Z" fill="url(#g32)"/>
<circle cx="631.3" cy="175" r="4.3" fill="#fbf6c0" stroke="#969373" stroke-width="0.6"/><circle cx="630.2" cy="174.2" r="1.8" fill="#64624c" fill-opacity="0.85"/><circle cx="632.8" cy="176.3" r="1.3" fill="#fcf9d9" fill-opacity="0.7"/>
<circle cx="643.1" cy="177.3" r="4.3" fill="#f8f0a0" stroke="#949060" stroke-width="0.6"/><circle cx="642" cy="176.4" r="1.8" fill="#636040" fill-opacity="0.85"/><circle cx="644.6" cy="178.6" r="1.3" fill="#faf6c6" fill-opacity="0.7"/>
<circle cx="654.9" cy="179.5" r="4.3" fill="#f0d040" stroke="#907c26" stroke-width="0.6"/><circle cx="653.8" cy="178.7" r="1.8" fill="#605319" fill-opacity="0.85"/><circle cx="656.4" cy="180.8" r="1.3" fill="#f6e28c" fill-opacity="0.7"/>
<circle cx="666.7" cy="181.8" r="4.3" fill="#f0a828" stroke="#906418" stroke-width="0.6"/><circle cx="665.6" cy="180.9" r="1.8" fill="#604310" fill-opacity="0.85"/><circle cx="668.2" cy="183.1" r="1.3" fill="#f6ca7e" fill-opacity="0.7"/>
<circle cx="678.5" cy="184" r="4.3" fill="#e8a820" stroke="#8b6413" stroke-width="0.6"/><circle cx="677.4" cy="183.2" r="1.8" fill="#5c430c" fill-opacity="0.85"/><circle cx="680" cy="185.3" r="1.3" fill="#f1ca79" fill-opacity="0.7"/>
<circle cx="690.3" cy="186.3" r="4.3" fill="#b8c830" stroke="#6e781c" stroke-width="0.6"/><circle cx="689.2" cy="185.4" r="1.8" fill="#495013" fill-opacity="0.85"/><circle cx="691.8" cy="187.6" r="1.3" fill="#d4de82" fill-opacity="0.7"/>
<g transform="translate(631.3,198.2) rotate(-30)"><rect x="-6.5" y="-2.9" width="13" height="5.8" rx="2" fill="#f0e020" stroke="#9a8000" stroke-width="0.6"/></g>
<g transform="translate(643.1,200.5) rotate(-20)"><rect x="-6.5" y="-2.9" width="13" height="5.8" rx="2" fill="#f0e020" stroke="#9a8000" stroke-width="0.6"/></g>
<g transform="translate(654.9,202.7) rotate(0)"><rect x="-6.5" y="-2.9" width="13" height="5.8" rx="2" fill="#f0e020" stroke="#9a8000" stroke-width="0.6"/></g>
<g transform="translate(666.7,205) rotate(-15)"><rect x="-6.5" y="-2.9" width="13" height="5.8" rx="2" fill="#f0e020" stroke="#9a8000" stroke-width="0.6"/></g>
<g transform="translate(678.5,207.3) rotate(-45)"><rect x="-6.5" y="-2.9" width="13" height="5.8" rx="2" fill="#f0e020" stroke="#9a8000" stroke-width="0.6"/></g>
<rect x="641.6" y="220.1" width="17" height="7" rx="1.5" fill="#f2e418" stroke="#a08a00" stroke-width="0.6"/>
<path d="M658.6,218.6 L669.6,224.1 L658.6,228.6 Z" fill="#cfe6d8" fill-opacity="0.8"/>
<path d="M757.4,73.3 L762.7,74.3 L762,78.2 L756.7,77.2 Z" fill="url(#g33)"/>
<path d="M769.2,75.4 L774.5,76.4 L773.8,80.3 L768.5,79.4 Z" fill="url(#g33)"/>
<line x1="786" y1="80.5" x2="797.8" y2="82.7" stroke="#c8a0b8" stroke-width="4" stroke-opacity="0.55" stroke-linecap="round"/><path d="M781,77.6 L786.3,78.6 L785.6,82.5 L780.3,81.5 Z" fill="url(#g33)"/>
<path d="M750.6,74.1 L762.4,70.5 Q758.7,75.6 760.4,81.6 Z" fill="url(#g34)"/>
<path d="M762.4,76.2 L774.2,72.7 Q770.5,77.7 772.2,83.7 Z" fill="url(#g34)"/>
<path d="M774.2,78.4 L786,74.9 Q782.3,79.9 784,85.9 Z" fill="url(#g34)"/>
<path d="M745.6,94.6 L750.9,95.6 L750.2,99.6 L744.9,98.6 Z" fill="url(#g35)"/>
<path d="M757.4,96.8 L762.7,97.8 L762,101.7 L756.7,100.8 Z" fill="url(#g35)"/>
<path d="M769.2,99 L774.5,100 L773.8,103.9 L768.5,102.9 Z" fill="url(#g35)"/>
<path d="M781,101.2 L786.4,102.2 L785.6,106.1 L780.3,105.1 Z" fill="url(#g35)"/>
<line x1="797.8" y1="106.3" x2="809.6" y2="108.5" stroke="#c8a0b8" stroke-width="4" stroke-opacity="0.55" stroke-linecap="round"/><path d="M792.8,103.4 L798.2,104.4 L797.4,108.3 L792.1,107.3 Z" fill="url(#g35)"/>
<path d="M738.8,95.4 L750.6,91.9 Q746.9,96.9 748.6,102.9 Z" fill="url(#g36)"/>
<path d="M750.6,97.6 L762.4,94.1 Q758.7,99.1 760.4,105.1 Z" fill="url(#g36)"/>
<path d="M762.4,99.8 L774.2,96.3 Q770.5,101.3 772.2,107.3 Z" fill="url(#g36)"/>
<path d="M774.2,102 L786,98.4 Q782.3,103.5 784,109.5 Z" fill="url(#g36)"/>
<path d="M786,104.1 L797.8,100.6 Q794.1,105.6 795.8,111.6 Z" fill="url(#g36)"/>
<path d="M735,114.3 L742.2,115.6 L741.1,121.1 L733.9,119.8 Z" fill="url(#g37)"/>
<path d="M745.8,116.3 L753,117.6 L751.9,123.1 L744.7,121.8 Z" fill="url(#g37)"/>
<path d="M756.6,118.3 L763.8,119.6 L762.7,125.1 L755.5,123.8 Z" fill="url(#g37)"/>
<path d="M767.4,120.3 L774.5,121.7 L773.5,127.2 L766.3,125.8 Z" fill="url(#g37)"/>
<path d="M778.2,122.3 L785.3,123.7 L784.3,129.2 L777.1,127.8 Z" fill="url(#g37)"/>
<path d="M789,124.3 L796.1,125.7 L795.1,131.2 L787.9,129.9 Z" fill="url(#g37)"/>
<path d="M799.8,126.4 L806.9,127.7 L805.9,133.2 L798.7,131.9 Z" fill="url(#g37)"/>
<path d="M810.6,128.4 L817.7,129.7 L816.7,135.2 L809.5,133.9 Z" fill="url(#g37)"/>
<path d="M730.6,116.3 L738,112.2 Q735.4,117.2 736,122.8 Z" fill="url(#g38)"/>
<path d="M741.4,118.3 L748.8,114.2 Q746.2,119.2 746.8,124.8 Z" fill="url(#g38)"/>
<path d="M752.2,120.3 L759.6,116.2 Q757,121.2 757.6,126.8 Z" fill="url(#g38)"/>
<path d="M763,122.3 L770.4,118.2 Q767.8,123.2 768.4,128.8 Z" fill="url(#g38)"/>
<path d="M773.8,124.4 L781.2,120.3 Q778.6,125.3 779.2,130.9 Z" fill="url(#g38)"/>
<path d="M784.6,126.4 L792,122.3 Q789.4,127.3 790,132.9 Z" fill="url(#g38)"/>
<path d="M795.4,128.4 L802.8,124.3 Q800.2,129.3 800.8,134.9 Z" fill="url(#g38)"/>
<path d="M806.2,130.4 L813.6,126.3 Q811,131.3 811.6,136.9 Z" fill="url(#g38)"/>
<path d="M737.7,138.3 L745.9,139.8 L744.9,145.3 L736.7,143.8 Z" fill="url(#g39)"/>
<path d="M749.5,140.5 L757.7,142.1 L756.7,147.6 L748.5,146 Z" fill="url(#g39)"/>
<path d="M761.3,142.7 L769.5,144.3 L768.5,149.8 L760.3,148.2 Z" fill="url(#g39)"/>
<path d="M773.1,145 L781.3,146.5 L780.3,152 L772.1,150.5 Z" fill="url(#g39)"/>
<path d="M784.9,147.2 L793.1,148.7 L792.1,154.2 L783.9,152.7 Z" fill="url(#g39)"/>
<path d="M796.7,149.4 L805,151 L803.9,156.5 L795.7,154.9 Z" fill="url(#g39)"/>
<path d="M808.5,151.7 L816.8,153.2 L815.7,158.7 L807.5,157.2 Z" fill="url(#g39)"/>
<path d="M733.4,140.3 L740.8,136.2 Q738.2,141.2 738.8,146.8 Z" fill="url(#g40)"/>
<path d="M745.2,142.5 L752.6,138.4 Q750,143.4 750.6,149 Z" fill="url(#g40)"/>
<path d="M757,144.8 L764.4,140.7 Q761.8,145.7 762.4,151.3 Z" fill="url(#g40)"/>
<path d="M768.8,147 L776.2,142.9 Q773.6,147.9 774.2,153.5 Z" fill="url(#g40)"/>
<path d="M780.6,149.2 L788,145.1 Q785.4,150.1 786,155.7 Z" fill="url(#g40)"/>
<path d="M792.4,151.4 L799.8,147.3 Q797.2,152.4 797.8,158 Z" fill="url(#g40)"/>
<path d="M804.2,153.7 L811.6,149.6 Q809,154.6 809.6,160.2 Z" fill="url(#g40)"/>
<g transform="translate(751.1,167.7) rotate(-80)"><rect x="-5" y="-2.8" width="10" height="5.6" rx="2" fill="#f2e860" stroke="#8a7000" stroke-width="0.6"/></g>
<g transform="translate(762.9,170) rotate(-60)"><rect x="-5" y="-2.8" width="10" height="5.6" rx="2" fill="#e8d040" stroke="#8a7000" stroke-width="0.6"/></g>
<g transform="translate(774.7,172.2) rotate(-20)"><rect x="-5" y="-2.8" width="10" height="5.6" rx="2" fill="#f0c030" stroke="#8a7000" stroke-width="0.6"/></g>
<g transform="translate(786.5,174.5) rotate(-60)"><rect x="-5" y="-2.8" width="10" height="5.6" rx="2" fill="#e8b028" stroke="#8a7000" stroke-width="0.6"/></g>
<g transform="translate(798.3,176.7) rotate(-75)"><rect x="-5" y="-2.8" width="10" height="5.6" rx="2" fill="#e8b020" stroke="#8a7000" stroke-width="0.6"/></g>
<g transform="translate(810.1,179) rotate(-80)"><rect x="-5" y="-2.8" width="10" height="5.6" rx="2" fill="#98c840" stroke="#8a7000" stroke-width="0.6"/></g>
<g transform="translate(751.1,190.9) rotate(-30)"><rect x="-6.5" y="-2.9" width="13" height="5.8" rx="2" fill="#f0d820" stroke="#9a8000" stroke-width="0.6"/></g>
<g transform="translate(762.9,193.2) rotate(-20)"><rect x="-6.5" y="-2.9" width="13" height="5.8" rx="2" fill="#f0d820" stroke="#9a8000" stroke-width="0.6"/></g>
<g transform="translate(774.7,195.4) rotate(0)"><rect x="-6.5" y="-2.9" width="13" height="5.8" rx="2" fill="#f0d820" stroke="#9a8000" stroke-width="0.6"/></g>
<g transform="translate(786.5,197.7) rotate(-15)"><rect x="-6.5" y="-2.9" width="13" height="5.8" rx="2" fill="#f0d820" stroke="#9a8000" stroke-width="0.6"/></g>
<g transform="translate(798.3,200) rotate(-45)"><rect x="-6.5" y="-2.9" width="13" height="5.8" rx="2" fill="#f0d820" stroke="#9a8000" stroke-width="0.6"/></g>
<rect x="761.4" y="212.8" width="17" height="7" rx="1.5" fill="#f2e418" stroke="#a08a00" stroke-width="0.6"/>
<path d="M778.4,211.3 L789.4,216.8 L778.4,221.3 Z" fill="#cfe6d8" fill-opacity="0.8"/>
<path d="M125.3,79.5 L125.4,262.1 L217.9,278.3 L833,242.4 L833,58.9 L741.6,43 L125.3,79.5" stroke="#262626" stroke-width="1.3" fill="none"/>
<line x1="125.4" y1="79.5" x2="109.5" y2="76.8" stroke="#262626" stroke-width="1.2"/>
<line x1="125.4" y1="125.2" x2="109.5" y2="122.5" stroke="#262626" stroke-width="1.2"/>
<line x1="125.4" y1="170.8" x2="109.5" y2="168.1" stroke="#262626" stroke-width="1.2"/>
<line x1="125.4" y1="216.5" x2="109.5" y2="213.8" stroke="#262626" stroke-width="1.2"/>
<line x1="125.4" y1="262.1" x2="109.5" y2="259.4" stroke="#262626" stroke-width="1.2"/>
<line x1="148" y1="266.2" x2="148" y2="281.2" stroke="#262626" stroke-width="1.2"/>
<line x1="171.4" y1="270.2" x2="171.4" y2="285.2" stroke="#262626" stroke-width="1.2"/>
<line x1="194.5" y1="274.3" x2="194.5" y2="289.3" stroke="#262626" stroke-width="1.2"/>
<line x1="217.9" y1="278.3" x2="217.9" y2="294.8" stroke="#262626" stroke-width="1.2"/>
<line x1="236.5" y1="277.2" x2="236.5" y2="292.2" stroke="#262626" stroke-width="1.2"/>
<line x1="336.2" y1="271.4" x2="336.2" y2="286.4" stroke="#262626" stroke-width="1.2"/>
<line x1="435.9" y1="265.6" x2="435.9" y2="280.6" stroke="#262626" stroke-width="1.2"/>
<line x1="535.6" y1="259.8" x2="535.6" y2="274.8" stroke="#262626" stroke-width="1.2"/>
<line x1="635.3" y1="253.9" x2="635.3" y2="268.9" stroke="#262626" stroke-width="1.2"/>
<line x1="735" y1="248.1" x2="735" y2="263.1" stroke="#262626" stroke-width="1.2"/>
<text x="105.5" y="85.5" font-size="22.5" text-anchor="end">0.4</text>
<text x="105.5" y="175.4" font-size="22.5" text-anchor="end">0</text>
<text x="105.5" y="265.7" font-size="22.5" text-anchor="end">-0.4</text>
<text x="116.6" y="306" font-size="22.5" text-anchor="middle">0.4</text>
<text x="170.5" y="315.5" font-size="22.5" text-anchor="middle">0</text>
<text x="204.5" y="323" font-size="22.5" text-anchor="middle">-0.4</text>
<text x="249.8" y="323" font-size="22.5" text-anchor="middle">-1.5</text>
<text x="341.3" y="318.5" font-size="22.5" text-anchor="middle">0</text>
<text x="440.5" y="313.6" font-size="22.5" text-anchor="middle">1.5</text>
<text x="539.7" y="307.2" font-size="22.5" text-anchor="middle">3</text>
<text x="643.3" y="302" font-size="22.5" text-anchor="middle">4.5</text>
<text x="742.2" y="297.5" font-size="22.5" text-anchor="middle">6</text>
<text x="142.3" y="339" font-size="22.5"><tspan font-style="italic">x</tspan>(<tspan font-style="italic" dx="0.5">λ</tspan><tspan font-size="16.5" dy="3" dx="0.5">0</tspan><tspan dy="-3">)</tspan></text>
<text x="490.5" y="336.3" font-size="22.5"><tspan font-style="italic">z</tspan>(<tspan font-style="italic" dx="0.5">λ</tspan><tspan font-size="16.5" dy="3" dx="0.5">0</tspan><tspan dy="-3">)</tspan></text>
<text transform="translate(67,186) rotate(-90)" font-size="22.5"><tspan font-style="italic">y</tspan>(<tspan font-style="italic" dx="0.5">λ</tspan><tspan font-size="16.5" dy="3" dx="0.5">0</tspan><tspan dy="-3">)</tspan></text>
<text x="181.6" y="73.3" font-size="22.5" text-anchor="middle">0<tspan font-style="italic">T</tspan><tspan font-size="15.5" dy="2.5">0</tspan></text>
<text x="300.9" y="65.4" font-size="22.5" text-anchor="middle">2<tspan font-style="italic">T</tspan><tspan font-size="15.5" dy="2.5">0</tspan></text>
<text x="417.1" y="57.3" font-size="22.5" text-anchor="middle">4<tspan font-style="italic">T</tspan><tspan font-size="15.5" dy="2.5">0</tspan></text>
<text x="534.1" y="49.6" font-size="22.5" text-anchor="middle">6<tspan font-style="italic">T</tspan><tspan font-size="15.5" dy="2.5">0</tspan></text>
<text x="653.1" y="45.2" font-size="22.5" text-anchor="middle">8<tspan font-style="italic">T</tspan><tspan font-size="15.5" dy="2.5">0</tspan></text>
<text x="778.4" y="46" font-size="22.5" text-anchor="middle">10<tspan font-style="italic">T</tspan><tspan font-size="15.5" dy="2.5">0</tspan></text>
<rect x="861.4" y="71" width="15.6" height="244.6" fill="url(#cbBy)" stroke="#262626" stroke-width="1"/>
<rect x="913.5" y="71" width="15.6" height="244.6" fill="url(#cbSz)" stroke="#262626" stroke-width="1"/>
<line x1="877" y1="71" x2="873.5" y2="71" stroke="#262626" stroke-width="1"/>
<text x="881.5" y="75.5" font-size="13.5">0.3</text>
<line x1="877" y1="111.8" x2="873.5" y2="111.8" stroke="#262626" stroke-width="1"/>
<text x="881.5" y="116.3" font-size="13.5">0.2</text>
<line x1="877" y1="152.5" x2="873.5" y2="152.5" stroke="#262626" stroke-width="1"/>
<text x="881.5" y="157" font-size="13.5">0.1</text>
<line x1="877" y1="193.3" x2="873.5" y2="193.3" stroke="#262626" stroke-width="1"/>
<text x="881.5" y="197.8" font-size="13.5">0</text>
<line x1="877" y1="234.1" x2="873.5" y2="234.1" stroke="#262626" stroke-width="1"/>
<text x="881.5" y="238.6" font-size="13.5">-0.1</text>
<line x1="877" y1="274.8" x2="873.5" y2="274.8" stroke="#262626" stroke-width="1"/>
<text x="881.5" y="279.3" font-size="13.5">-0.2</text>
<line x1="877" y1="315.6" x2="873.5" y2="315.6" stroke="#262626" stroke-width="1"/>
<text x="881.5" y="320.1" font-size="13.5">-0.3</text>
<line x1="929.1" y1="71" x2="925.6" y2="71" stroke="#262626" stroke-width="1"/>
<text x="933" y="75.5" font-size="13.5">1</text>
<line x1="929.1" y1="132.2" x2="925.6" y2="132.2" stroke="#262626" stroke-width="1"/>
<text x="933" y="136.7" font-size="13.5">0.5</text>
<line x1="929.1" y1="193.3" x2="925.6" y2="193.3" stroke="#262626" stroke-width="1"/>
<text x="933" y="197.8" font-size="13.5">0</text>
<line x1="929.1" y1="254.4" x2="925.6" y2="254.4" stroke="#262626" stroke-width="1"/>
<text x="933" y="258.9" font-size="13.5">-0.5</text>
<line x1="929.1" y1="315.6" x2="925.6" y2="315.6" stroke="#262626" stroke-width="1"/>
<text x="933" y="320.1" font-size="13.5">-1</text>
<text x="856" y="54.6" font-size="22.5">B<tspan font-size="15" dy="4">y</tspan></text>
<text x="914" y="54.6" font-size="22.5" font-style="italic">s<tspan font-size="15" dy="4">z</tspan></text>
<circle cx="183.3" cy="416.8" r="51" fill="url(#gcirc)"/>
<circle cx="60.5" cy="465.9" r="51" fill="url(#gcirc)"/>
<circle cx="301.3" cy="466.6" r="51" fill="url(#gcirc)"/>
<circle cx="59.7" cy="652" r="51" fill="url(#gcirc)"/>
<circle cx="301.3" cy="652" r="51" fill="url(#gcirc)"/>
<circle cx="183.3" cy="695.3" r="51" fill="url(#gcirc)"/>
<path d="M160.8,385.1 L173.6,385.1 L173.6,390.3 L160.8,390.3 Z" fill="url(#g42)"/><path d="M183.1,387.7 L172.6,383.3 L172.6,392.1 Z" fill="url(#g41)"/>
<path d="M186.2,385.1 L199,385.1 L199,390.3 L186.2,390.3 Z" fill="url(#g42)"/><path d="M208.5,387.7 L198,383.3 L198,392.1 Z" fill="url(#g41)"/>
<path d="M160.8,455.2 L173.6,455.2 L173.6,460.4 L160.8,460.4 Z" fill="url(#g42)"/><path d="M183.1,457.8 L172.6,453.4 L172.6,462.2 Z" fill="url(#g41)"/>
<path d="M186.2,455.2 L199,455.2 L199,460.4 L186.2,460.4 Z" fill="url(#g42)"/><path d="M208.5,457.8 L198,453.4 L198,462.2 Z" fill="url(#g41)"/>
<path d="M135.3,408.4 L148.1,408.4 L148.1,413.6 L135.3,413.6 Z" fill="url(#g42)"/><path d="M157.6,411 L147.1,406.6 L147.1,415.4 Z" fill="url(#g41)"/>
<path d="M160.8,408.4 L173.6,408.4 L173.6,413.6 L160.8,413.6 Z" fill="url(#g42)"/><path d="M183.1,411 L172.6,406.6 L172.6,415.4 Z" fill="url(#g41)"/>
<path d="M186.2,408.4 L199,408.4 L199,413.6 L186.2,413.6 Z" fill="url(#g42)"/><path d="M208.5,411 L198,406.6 L198,415.4 Z" fill="url(#g41)"/>
<path d="M211.4,408.4 L224.2,408.4 L224.2,413.6 L211.4,413.6 Z" fill="url(#g42)"/><path d="M233.7,411 L223.2,406.6 L223.2,415.4 Z" fill="url(#g41)"/>
<path d="M135.3,431.9 L148.1,431.9 L148.1,437.1 L135.3,437.1 Z" fill="url(#g42)"/><path d="M157.6,434.5 L147.1,430.1 L147.1,438.9 Z" fill="url(#g41)"/>
<path d="M160.8,431.9 L173.6,431.9 L173.6,437.1 L160.8,437.1 Z" fill="url(#g42)"/><path d="M183.1,434.5 L172.6,430.1 L172.6,438.9 Z" fill="url(#g41)"/>
<path d="M186.2,431.9 L199,431.9 L199,437.1 L186.2,437.1 Z" fill="url(#g42)"/><path d="M208.5,434.5 L198,430.1 L198,438.9 Z" fill="url(#g41)"/>
<path d="M211.4,431.9 L224.2,431.9 L224.2,437.1 L211.4,437.1 Z" fill="url(#g42)"/><path d="M233.7,434.5 L223.2,430.1 L223.2,438.9 Z" fill="url(#g41)"/>
<path d="M179.9,657.5 L167.3,657.5 L167.3,662.7 L179.9,662.7 Z" fill="url(#g42)"/><path d="M158.1,660.1 L168.3,655.7 L168.3,664.5 Z" fill="url(#g41)"/>
<path d="M205.3,657.5 L192.7,657.5 L192.7,662.7 L205.3,662.7 Z" fill="url(#g42)"/><path d="M183.5,660.1 L193.7,655.7 L193.7,664.5 Z" fill="url(#g41)"/>
<path d="M179.9,727.9 L167.3,727.9 L167.3,733.1 L179.9,733.1 Z" fill="url(#g42)"/><path d="M158.1,730.5 L168.3,726.1 L168.3,734.9 Z" fill="url(#g41)"/>
<path d="M205.3,727.9 L192.7,727.9 L192.7,733.1 L205.3,733.1 Z" fill="url(#g42)"/><path d="M183.5,730.5 L193.7,726.1 L193.7,734.9 Z" fill="url(#g41)"/>
<path d="M154.6,680.8 L142,680.8 L142,686 L154.6,686 Z" fill="url(#g42)"/><path d="M132.8,683.4 L143,679 L143,687.8 Z" fill="url(#g41)"/>
<path d="M179.9,680.8 L167.3,680.8 L167.3,686 L179.9,686 Z" fill="url(#g42)"/><path d="M158.1,683.4 L168.3,679 L168.3,687.8 Z" fill="url(#g41)"/>
<path d="M205.3,680.8 L192.7,680.8 L192.7,686 L205.3,686 Z" fill="url(#g42)"/><path d="M183.5,683.4 L193.7,679 L193.7,687.8 Z" fill="url(#g41)"/>
<path d="M230.6,680.8 L218,680.8 L218,686 L230.6,686 Z" fill="url(#g42)"/><path d="M208.8,683.4 L219,679 L219,687.8 Z" fill="url(#g41)"/>
<path d="M154.6,704.4 L142,704.4 L142,709.6 L154.6,709.6 Z" fill="url(#g42)"/><path d="M132.8,707 L143,702.6 L143,711.4 Z" fill="url(#g41)"/>
<path d="M179.9,704.4 L167.3,704.4 L167.3,709.6 L179.9,709.6 Z" fill="url(#g42)"/><path d="M158.1,707 L168.3,702.6 L168.3,711.4 Z" fill="url(#g41)"/>
<path d="M205.3,704.4 L192.7,704.4 L192.7,709.6 L205.3,709.6 Z" fill="url(#g42)"/><path d="M183.5,707 L193.7,702.6 L193.7,711.4 Z" fill="url(#g41)"/>
<path d="M230.6,704.4 L218,704.4 L218,709.6 L230.6,709.6 Z" fill="url(#g42)"/><path d="M208.8,707 L219,702.6 L219,711.4 Z" fill="url(#g41)"/>
<circle cx="22.5" cy="445.3" r="3.2" fill="#5a48e8" stroke="#3a2e96" stroke-width="0.6"/><circle cx="22.8" cy="445.5" r="1.3" fill="#3e32a2" fill-opacity="0.6"/>
<circle cx="22.5" cy="459" r="3.2" fill="#5a48e8" stroke="#3a2e96" stroke-width="0.6"/><circle cx="22.8" cy="459.2" r="1.3" fill="#3e32a2" fill-opacity="0.6"/>
<circle cx="22.5" cy="472.7" r="3.2" fill="#5a48e8" stroke="#3a2e96" stroke-width="0.6"/><circle cx="22.8" cy="472.9" r="1.3" fill="#3e32a2" fill-opacity="0.6"/>
<circle cx="22.5" cy="487.2" r="3.2" fill="#5a48e8" stroke="#3a2e96" stroke-width="0.6"/><circle cx="22.8" cy="487.4" r="1.3" fill="#3e32a2" fill-opacity="0.6"/>
<path d="M32,426.7 L37.6,429.5 L36.3,430.4 L40,435.7 L37.7,437.3 L34,432 L32.7,432.9 Z" fill="#4850e0" stroke="#2e3491" stroke-width="0.5"/>
<path d="M32.7,440 L37.9,443.5 L36.4,444.2 L39.4,450 L36.9,451.3 L34,445.5 L32.5,446.2 Z" fill="#4850e0" stroke="#2e3491" stroke-width="0.5"/>
<circle cx="35.4" cy="459" r="3.2" fill="#4850e0" stroke="#2e3491" stroke-width="0.6"/><circle cx="35.7" cy="459.2" r="1.3" fill="#32389c" fill-opacity="0.6"/>
<circle cx="35.4" cy="472.7" r="3.2" fill="#4850e0" stroke="#2e3491" stroke-width="0.6"/><circle cx="35.7" cy="472.9" r="1.3" fill="#32389c" fill-opacity="0.6"/>
<circle cx="35.4" cy="487.2" r="3.2" fill="#4850e0" stroke="#2e3491" stroke-width="0.6"/><circle cx="35.7" cy="487.4" r="1.3" fill="#32389c" fill-opacity="0.6"/>
<path d="M39.3,496.2 L38,502.4 L36.8,501.3 L32.6,506.3 L30.5,504.5 L34.7,499.5 L33.4,498.5 Z" fill="#4850e0" stroke="#2e3491" stroke-width="0.5"/>
<path d="M45.5,426 L50.3,430.1 L48.7,430.7 L50.9,436.8 L48.4,437.7 L46.1,431.6 L44.6,432.2 Z" fill="#2f6fe8" stroke="#1e4896" stroke-width="0.5"/>
<path d="M46.4,439.4 L50.4,444.2 L48.9,444.5 L50.2,450.9 L47.5,451.5 L46.2,445.1 L44.6,445.5 Z" fill="#2f6fe8" stroke="#1e4896" stroke-width="0.5"/>
<path d="M47.2,453 L50.6,458.3 L48.9,458.4 L49.4,464.9 L46.6,465.1 L46.2,458.6 L44.6,458.7 Z" fill="#2f6fe8" stroke="#1e4896" stroke-width="0.5"/>
<path d="M48,466.7 L50.6,472.4 L49,472.3 L48.6,478.8 L45.8,478.6 L46.3,472.1 L44.6,472 Z" fill="#2f6fe8" stroke="#1e4896" stroke-width="0.5"/>
<path d="M48.8,481.3 L50.6,487.4 L49,487 L47.7,493.4 L45,492.8 L46.3,486.4 L44.8,486.1 Z" fill="#2f6fe8" stroke="#1e4896" stroke-width="0.5"/>
<path d="M50.1,495.4 L50.5,501.6 L49.1,500.9 L46.3,506.8 L43.8,505.7 L46.6,499.8 L45.1,499.1 Z" fill="#2f6fe8" stroke="#1e4896" stroke-width="0.5"/>
<path d="M59.7,425.1 L63,431.1 L61.2,431.1 L61.2,438.1 L58.2,438.1 L58.2,431.1 L56.5,431.1 Z" fill="#20b4e0" stroke="#147591" stroke-width="0.5"/>
<path d="M59.7,438.8 L63,444.8 L61.2,444.8 L61.2,451.8 L58.2,451.8 L58.2,444.8 L56.5,444.8 Z" fill="#20b4e0" stroke="#147591" stroke-width="0.5"/>
<path d="M59.7,452.5 L63,458.5 L61.2,458.5 L61.2,465.5 L58.2,465.5 L58.2,458.5 L56.5,458.5 Z" fill="#20b4e0" stroke="#147591" stroke-width="0.5"/>
<path d="M59.7,466.2 L63,472.2 L61.2,472.2 L61.2,479.2 L58.2,479.2 L58.2,472.2 L56.5,472.2 Z" fill="#20b4e0" stroke="#147591" stroke-width="0.5"/>
<path d="M59.7,480.7 L63,486.7 L61.2,486.7 L61.2,493.7 L58.2,493.7 L58.2,486.7 L56.5,486.7 Z" fill="#20b4e0" stroke="#147591" stroke-width="0.5"/>
<path d="M59.7,494.3 L63,500.3 L61.2,500.3 L61.2,507.3 L58.2,507.3 L58.2,500.3 L56.5,500.3 Z" fill="#20b4e0" stroke="#147591" stroke-width="0.5"/>
<path d="M73.1,425.7 L74.9,431.8 L73.3,431.4 L72,437.8 L69.3,437.2 L70.6,430.8 L69.1,430.5 Z" fill="#55cc60" stroke="#37843e" stroke-width="0.5"/>
<path d="M73.1,439.4 L74.9,445.5 L73.3,445.1 L72,451.5 L69.3,450.9 L70.6,444.5 L69.1,444.2 Z" fill="#55cc60" stroke="#37843e" stroke-width="0.5"/>
<path d="M73.1,453.1 L74.9,459.2 L73.3,458.8 L72,465.2 L69.3,464.6 L70.6,458.2 L69.1,457.9 Z" fill="#9cc83a" stroke="#658225" stroke-width="0.5"/>
<path d="M70.7,466.8 L74.7,471.6 L73.2,471.9 L74.5,478.3 L71.8,478.9 L70.5,472.5 L68.9,472.9 Z" fill="#9cc83a" stroke="#658225" stroke-width="0.5"/>
<path d="M70.7,481.3 L74.7,486.1 L73.2,486.4 L74.5,492.8 L71.8,493.4 L70.5,487 L68.9,487.4 Z" fill="#9cc83a" stroke="#658225" stroke-width="0.5"/>
<path d="M70.7,494.9 L74.7,499.7 L73.2,500 L74.5,506.4 L71.8,507 L70.5,500.6 L68.9,501 Z" fill="#60cc60" stroke="#3e843e" stroke-width="0.5"/>
<path d="M86.5,426.1 L87,432.4 L85.6,431.7 L82.9,437.6 L80.4,436.5 L83,430.6 L81.6,429.9 Z" fill="#b8d030" stroke="#77871f" stroke-width="0.5"/>
<path d="M86.5,439.8 L87,446.1 L85.6,445.4 L82.9,451.3 L80.4,450.2 L83,444.3 L81.6,443.6 Z" fill="#e8aa22" stroke="#966e16" stroke-width="0.5"/>
<path d="M86.5,453.5 L87,459.8 L85.6,459.1 L82.9,465 L80.4,463.9 L83,458 L81.6,457.3 Z" fill="#e8aa22" stroke="#966e16" stroke-width="0.5"/>
<circle cx="84.1" cy="472.7" r="3.2" fill="#e8aa22" stroke="#966e16" stroke-width="0.6"/><circle cx="84.4" cy="472.9" r="1.3" fill="#a27617" fill-opacity="0.6"/>
<path d="M87.1,492.4 L81.7,489.1 L83.1,488.3 L79.9,482.7 L82.3,481.3 L85.5,486.9 L86.9,486.1 Z" fill="#e8aa22" stroke="#966e16" stroke-width="0.5"/>
<path d="M87.1,506 L81.7,502.7 L83.1,501.9 L79.9,496.3 L82.3,494.9 L85.5,500.5 L86.9,499.7 Z" fill="#e8aa22" stroke="#966e16" stroke-width="0.5"/>
<path d="M99.7,440.4 L98.9,446.7 L97.6,445.7 L93.8,451 L91.6,449.3 L95.4,444.1 L94.1,443.1 Z" fill="#f0dc20" stroke="#9c8f14" stroke-width="0.5"/>
<circle cx="96.2" cy="459" r="3.2" fill="#f0dc20" stroke="#9c8f14" stroke-width="0.6"/><circle cx="96.5" cy="459.2" r="1.3" fill="#a89a16" fill-opacity="0.6"/>
<circle cx="96.2" cy="472.7" r="3.2" fill="#f0dc20" stroke="#9c8f14" stroke-width="0.6"/><circle cx="96.5" cy="472.9" r="1.3" fill="#a89a16" fill-opacity="0.6"/>
<circle cx="96.2" cy="487.2" r="3.2" fill="#f0dc20" stroke="#9c8f14" stroke-width="0.6"/><circle cx="96.5" cy="487.4" r="1.3" fill="#a89a16" fill-opacity="0.6"/>
<circle cx="281.5" cy="429.3" r="3.2" fill="#5a48e8" stroke="#3a2e96" stroke-width="0.6"/><circle cx="281.8" cy="429.5" r="1.3" fill="#3e32a2" fill-opacity="0.6"/>
<circle cx="294.4" cy="429.3" r="3.2" fill="#5a48e8" stroke="#3a2e96" stroke-width="0.6"/><circle cx="294.7" cy="429.5" r="1.3" fill="#3e32a2" fill-opacity="0.6"/>
<circle cx="308.1" cy="429.3" r="3.2" fill="#5a48e8" stroke="#3a2e96" stroke-width="0.6"/><circle cx="308.4" cy="429.5" r="1.3" fill="#3e32a2" fill-opacity="0.6"/>
<circle cx="321.8" cy="429.3" r="3.2" fill="#5a48e8" stroke="#3a2e96" stroke-width="0.6"/><circle cx="322.1" cy="429.5" r="1.3" fill="#3e32a2" fill-opacity="0.6"/>
<path d="M267.8,448 L264.6,442 L266.3,442 L266.3,435 L269.3,435 L269.3,442 L271.1,442 Z" fill="#5a48e8" stroke="#3a2e96" stroke-width="0.5"/>
<circle cx="281.5" cy="441.5" r="3.2" fill="#5a48e8" stroke="#3a2e96" stroke-width="0.6"/><circle cx="281.8" cy="441.7" r="1.3" fill="#3e32a2" fill-opacity="0.6"/>
<circle cx="294.4" cy="441.5" r="3.2" fill="#5a48e8" stroke="#3a2e96" stroke-width="0.6"/><circle cx="294.7" cy="441.7" r="1.3" fill="#3e32a2" fill-opacity="0.6"/>
<circle cx="308.1" cy="441.5" r="3.2" fill="#5a48e8" stroke="#3a2e96" stroke-width="0.6"/><circle cx="308.4" cy="441.7" r="1.3" fill="#3e32a2" fill-opacity="0.6"/>
<path d="M324,435.4 L325,442.1 L323.4,441.5 L321,448.1 L318.2,447.1 L320.6,440.5 L318.9,439.9 Z" fill="#5a48e8" stroke="#3a2e96" stroke-width="0.5"/>
<path d="M337.7,435.4 L338.7,442.1 L337.1,441.5 L334.7,448.1 L331.9,447.1 L334.3,440.5 L332.6,439.9 Z" fill="#5a48e8" stroke="#3a2e96" stroke-width="0.5"/>
<path d="M273.1,457.4 L266.4,456.7 L267.4,455.2 L261.6,451.2 L263.3,448.7 L269.1,452.8 L270.1,451.3 Z" fill="#2f6fe8" stroke="#1e4896" stroke-width="0.5"/>
<path d="M287.5,456.2 L280.7,456.9 L281.4,455.3 L274.9,452.5 L276.1,449.8 L282.6,452.5 L283.2,450.9 Z" fill="#2f6fe8" stroke="#1e4896" stroke-width="0.5"/>
<path d="M300.8,454.9 L294.3,457 L294.6,455.3 L287.7,453.9 L288.3,451 L295.2,452.3 L295.5,450.6 Z" fill="#2f6fe8" stroke="#1e4896" stroke-width="0.5"/>
<path d="M314.6,453.6 L308.7,456.9 L308.6,455.2 L301.6,455.3 L301.6,452.3 L308.6,452.2 L308.6,450.4 Z" fill="#2f6fe8" stroke="#1e4896" stroke-width="0.5"/>
<path d="M328.1,452.2 L323,456.7 L322.6,455 L315.8,456.6 L315.1,453.7 L322,452.1 L321.6,450.4 Z" fill="#2f6fe8" stroke="#1e4896" stroke-width="0.5"/>
<path d="M341.4,451 L337.3,456.4 L336.6,454.8 L330.2,457.8 L329,455.1 L335.3,452.1 L334.6,450.5 Z" fill="#2f6fe8" stroke="#1e4896" stroke-width="0.5"/>
<path d="M274.3,466.2 L268.3,469.4 L268.3,467.7 L261.3,467.7 L261.3,464.7 L268.3,464.7 L268.3,462.9 Z" fill="#20b4e0" stroke="#147591" stroke-width="0.5"/>
<path d="M288,466.2 L282,469.4 L282,467.7 L275,467.7 L275,464.7 L282,464.7 L282,462.9 Z" fill="#20b4e0" stroke="#147591" stroke-width="0.5"/>
<path d="M300.9,466.2 L294.9,469.4 L294.9,467.7 L287.9,467.7 L287.9,464.7 L294.9,464.7 L294.9,462.9 Z" fill="#20b4e0" stroke="#147591" stroke-width="0.5"/>
<path d="M314.6,466.2 L308.6,469.4 L308.6,467.7 L301.6,467.7 L301.6,464.7 L308.6,464.7 L308.6,462.9 Z" fill="#20b4e0" stroke="#147591" stroke-width="0.5"/>
<path d="M328.3,466.2 L322.3,469.4 L322.3,467.7 L315.3,467.7 L315.3,464.7 L322.3,464.7 L322.3,462.9 Z" fill="#20b4e0" stroke="#147591" stroke-width="0.5"/>
<path d="M342,466.2 L336,469.4 L336,467.7 L329,467.7 L329,464.7 L336,464.7 L336,462.9 Z" fill="#20b4e0" stroke="#147591" stroke-width="0.5"/>
<path d="M274.3,479.1 L268.3,482.4 L268.3,480.6 L261.3,480.6 L261.3,477.6 L268.3,477.6 L268.3,475.9 Z" fill="#48c860" stroke="#2e823e" stroke-width="0.5"/>
<path d="M288,479.1 L282,482.4 L282,480.6 L275,480.6 L275,477.6 L282,477.6 L282,475.9 Z" fill="#70c848" stroke="#48822e" stroke-width="0.5"/>
<path d="M300.9,479.1 L294.9,482.4 L294.9,480.6 L287.9,480.6 L287.9,477.6 L294.9,477.6 L294.9,475.9 Z" fill="#90c840" stroke="#5d8229" stroke-width="0.5"/>
<path d="M314.6,479.1 L308.6,482.4 L308.6,480.6 L301.6,480.6 L301.6,477.6 L308.6,477.6 L308.6,475.9 Z" fill="#88c848" stroke="#58822e" stroke-width="0.5"/>
<path d="M328.3,479.1 L322.3,482.4 L322.3,480.6 L315.3,480.6 L315.3,477.6 L322.3,477.6 L322.3,475.9 Z" fill="#50c878" stroke="#34824e" stroke-width="0.5"/>
<path d="M342,479.1 L336,482.4 L336,480.6 L329,480.6 L329,477.6 L336,477.6 L336,475.9 Z" fill="#40c8a0" stroke="#298268" stroke-width="0.5"/>
<path d="M272.8,487.2 L270.3,493.6 L269.2,492.2 L263.8,496.7 L261.9,494.4 L267.2,489.9 L266.1,488.6 Z" fill="#e8aa22" stroke="#966e16" stroke-width="0.5"/>
<path d="M287.1,488.1 L283.6,494 L282.7,492.4 L276.6,495.9 L275.1,493.4 L281.2,489.8 L280.3,488.3 Z" fill="#e8aa22" stroke="#966e16" stroke-width="0.5"/>
<path d="M300.9,491.4 L294.9,494.6 L294.9,492.9 L287.9,492.9 L287.9,489.9 L294.9,489.9 L294.9,488.1 Z" fill="#e8aa22" stroke="#966e16" stroke-width="0.5"/>
<path d="M313.1,495.6 L306.4,494.2 L307.5,492.9 L302.2,488.4 L304.1,486.1 L309.5,490.6 L310.6,489.2 Z" fill="#e8aa22" stroke="#966e16" stroke-width="0.5"/>
<path d="M326,496.4 L319.6,493.9 L321,492.8 L316.5,487.4 L318.8,485.5 L323.3,490.8 L324.6,489.7 Z" fill="#e8aa22" stroke="#966e16" stroke-width="0.5"/>
<path d="M340.1,496 L333.6,494.1 L334.8,492.8 L329.8,487.9 L332,485.7 L336.9,490.7 L338.2,489.5 Z" fill="#e8aa22" stroke="#966e16" stroke-width="0.5"/>
<circle cx="281.5" cy="503.1" r="3.2" fill="#f0dc20" stroke="#9c8f14" stroke-width="0.6"/><circle cx="281.8" cy="503.3" r="1.3" fill="#a89a16" fill-opacity="0.6"/>
<circle cx="294.4" cy="503.1" r="3.2" fill="#f0dc20" stroke="#9c8f14" stroke-width="0.6"/><circle cx="294.7" cy="503.3" r="1.3" fill="#a89a16" fill-opacity="0.6"/>
<circle cx="308.1" cy="503.1" r="3.2" fill="#f0dc20" stroke="#9c8f14" stroke-width="0.6"/><circle cx="308.4" cy="503.3" r="1.3" fill="#a89a16" fill-opacity="0.6"/>
<circle cx="321.8" cy="503.1" r="3.2" fill="#f0dc20" stroke="#9c8f14" stroke-width="0.6"/><circle cx="322.1" cy="503.3" r="1.3" fill="#a89a16" fill-opacity="0.6"/>
<path d="M38.1,609.9 L42.3,615.2 L40.6,615.5 L41.8,622.4 L38.9,623 L37.6,616 L35.9,616.4 Z" fill="#e8aa22" stroke="#966e16" stroke-width="0.5"/>
<circle cx="52.9" cy="616.3" r="3.2" fill="#f0dc20" stroke="#9c8f14" stroke-width="0.6"/><circle cx="53.2" cy="616.5" r="1.3" fill="#a89a16" fill-opacity="0.6"/>
<circle cx="66.6" cy="616.3" r="3.2" fill="#f0dc20" stroke="#9c8f14" stroke-width="0.6"/><circle cx="66.9" cy="616.5" r="1.3" fill="#a89a16" fill-opacity="0.6"/>
<circle cx="80.3" cy="616.3" r="3.2" fill="#f0dc20" stroke="#9c8f14" stroke-width="0.6"/><circle cx="80.6" cy="616.5" r="1.3" fill="#a89a16" fill-opacity="0.6"/>
<path d="M20.5,625 L27.2,626.4 L26.1,627.7 L31.4,632.2 L29.5,634.5 L24.1,630 L23,631.4 Z" fill="#b0c830" stroke="#72821f" stroke-width="0.5"/>
<path d="M35,624.2 L41.4,626.7 L40,627.8 L44.5,633.2 L42.2,635.1 L37.7,629.8 L36.4,630.9 Z" fill="#e8aa22" stroke="#966e16" stroke-width="0.5"/>
<path d="M49.6,623.6 L55.5,627.1 L53.9,628 L57.4,634.1 L54.9,635.6 L51.3,629.5 L49.8,630.4 Z" fill="#e8aa22" stroke="#966e16" stroke-width="0.5"/>
<circle cx="66.6" cy="629.2" r="3.2" fill="#e8aa22" stroke="#966e16" stroke-width="0.6"/><circle cx="66.9" cy="629.4" r="1.3" fill="#a27617" fill-opacity="0.6"/>
<path d="M85.3,625 L82.8,631.4 L81.7,630 L76.3,634.5 L74.4,632.2 L79.7,627.7 L78.6,626.4 Z" fill="#e8aa22" stroke="#966e16" stroke-width="0.5"/>
<path d="M98.6,624.6 L96.7,631.1 L95.4,629.9 L90.5,634.9 L88.3,632.7 L93.3,627.8 L92.1,626.5 Z" fill="#e8aa22" stroke="#966e16" stroke-width="0.5"/>
<path d="M19,641.4 L25,638.1 L25,639.9 L32,639.9 L32,642.9 L25,642.9 L25,644.6 Z" fill="#40c878" stroke="#29824e" stroke-width="0.5"/>
<path d="M32.7,641.4 L38.7,638.1 L38.7,639.9 L45.7,639.9 L45.7,642.9 L38.7,642.9 L38.7,644.6 Z" fill="#50c860" stroke="#34823e" stroke-width="0.5"/>
<path d="M46.4,641.4 L52.4,638.1 L52.4,639.9 L59.4,639.9 L59.4,642.9 L52.4,642.9 L52.4,644.6 Z" fill="#90c840" stroke="#5d8229" stroke-width="0.5"/>
<path d="M60.1,641.4 L66.1,638.1 L66.1,639.9 L73.1,639.9 L73.1,642.9 L66.1,642.9 L66.1,644.6 Z" fill="#b8c830" stroke="#77821f" stroke-width="0.5"/>
<path d="M73.8,641.4 L79.8,638.1 L79.8,639.9 L86.8,639.9 L86.8,642.9 L79.8,642.9 L79.8,644.6 Z" fill="#a8c838" stroke="#6d8224" stroke-width="0.5"/>
<path d="M87.5,641.4 L93.5,638.1 L93.5,639.9 L100.5,639.9 L100.5,642.9 L93.5,642.9 L93.5,644.6 Z" fill="#70c848" stroke="#48822e" stroke-width="0.5"/>
<path d="M19,653.6 L25,650.4 L25,652.1 L32,652.1 L32,655.1 L25,655.1 L25,656.9 Z" fill="#20b4e0" stroke="#147591" stroke-width="0.5"/>
<path d="M32.7,653.6 L38.7,650.4 L38.7,652.1 L45.7,652.1 L45.7,655.1 L38.7,655.1 L38.7,656.9 Z" fill="#20b4e0" stroke="#147591" stroke-width="0.5"/>
<path d="M46.4,653.6 L52.4,650.4 L52.4,652.1 L59.4,652.1 L59.4,655.1 L52.4,655.1 L52.4,656.9 Z" fill="#20b4e0" stroke="#147591" stroke-width="0.5"/>
<path d="M60.1,653.6 L66.1,650.4 L66.1,652.1 L73.1,652.1 L73.1,655.1 L66.1,655.1 L66.1,656.9 Z" fill="#20b4e0" stroke="#147591" stroke-width="0.5"/>
<path d="M73.8,653.6 L79.8,650.4 L79.8,652.1 L86.8,652.1 L86.8,655.1 L79.8,655.1 L79.8,656.9 Z" fill="#20b4e0" stroke="#147591" stroke-width="0.5"/>
<path d="M87.5,653.6 L93.5,650.4 L93.5,652.1 L100.5,652.1 L100.5,655.1 L93.5,655.1 L93.5,656.9 Z" fill="#20b4e0" stroke="#147591" stroke-width="0.5"/>
<path d="M19.6,668.4 L23.7,663 L24.4,664.6 L30.8,661.6 L32,664.3 L25.7,667.3 L26.4,668.9 Z" fill="#2f6fe8" stroke="#1e4896" stroke-width="0.5"/>
<path d="M33.6,669 L37.1,663.1 L38,664.7 L44.1,661.2 L45.6,663.7 L39.5,667.3 L40.4,668.8 Z" fill="#2f6fe8" stroke="#1e4896" stroke-width="0.5"/>
<path d="M46.8,667.9 L51.3,662.8 L51.9,664.5 L58.5,662.1 L59.5,664.9 L52.9,667.3 L53.5,668.9 Z" fill="#2f6fe8" stroke="#1e4896" stroke-width="0.5"/>
<circle cx="66.6" cy="665.7" r="3.2" fill="#2f6fe8" stroke="#1e4896" stroke-width="0.6"/><circle cx="66.9" cy="665.9" r="1.3" fill="#204da2" fill-opacity="0.6"/>
<path d="M75.3,661.5 L82,662.9 L80.9,664.2 L86.2,668.7 L84.3,671 L78.9,666.5 L77.8,667.9 Z" fill="#2f6fe8" stroke="#1e4896" stroke-width="0.5"/>
<path d="M89,661.5 L95.7,662.9 L94.6,664.2 L99.9,668.7 L98,671 L92.6,666.5 L91.5,667.9 Z" fill="#2f6fe8" stroke="#1e4896" stroke-width="0.5"/>
<path d="M21.8,683.2 L22.5,676.5 L24,677.5 L28,671.7 L30.5,673.4 L26.4,679.2 L27.9,680.2 Z" fill="#4850e0" stroke="#2e3491" stroke-width="0.5"/>
<path d="M36.5,683.8 L36,677 L37.6,677.7 L40.6,671.4 L43.3,672.6 L40.3,679 L41.9,679.7 Z" fill="#4850e0" stroke="#2e3491" stroke-width="0.5"/>
<circle cx="52.9" cy="677.9" r="3.2" fill="#4850e0" stroke="#2e3491" stroke-width="0.6"/><circle cx="53.2" cy="678.1" r="1.3" fill="#32389c" fill-opacity="0.6"/>
<circle cx="66.6" cy="677.9" r="3.2" fill="#4850e0" stroke="#2e3491" stroke-width="0.6"/><circle cx="66.9" cy="678.1" r="1.3" fill="#32389c" fill-opacity="0.6"/>
<circle cx="80.3" cy="677.9" r="3.2" fill="#4850e0" stroke="#2e3491" stroke-width="0.6"/><circle cx="80.6" cy="678.1" r="1.3" fill="#32389c" fill-opacity="0.6"/>
<path d="M91.3,672 L96.7,676.1 L95.1,676.8 L98.1,683.2 L95.4,684.4 L92.4,678.1 L90.8,678.8 Z" fill="#4850e0" stroke="#2e3491" stroke-width="0.5"/>
<path d="M39.2,696.6 L36,690.6 L37.7,690.6 L37.7,683.6 L40.7,683.6 L40.7,690.6 L42.5,690.6 Z" fill="#5a48e8" stroke="#3a2e96" stroke-width="0.5"/>
<circle cx="52.9" cy="690.1" r="3.2" fill="#5a48e8" stroke="#3a2e96" stroke-width="0.6"/><circle cx="53.2" cy="690.3" r="1.3" fill="#3e32a2" fill-opacity="0.6"/>
<circle cx="66.6" cy="690.1" r="3.2" fill="#5a48e8" stroke="#3a2e96" stroke-width="0.6"/><circle cx="66.9" cy="690.3" r="1.3" fill="#3e32a2" fill-opacity="0.6"/>
<circle cx="80.3" cy="690.1" r="3.2" fill="#5a48e8" stroke="#3a2e96" stroke-width="0.6"/><circle cx="80.6" cy="690.3" r="1.3" fill="#3e32a2" fill-opacity="0.6"/>
<circle cx="264.8" cy="632.3" r="3.2" fill="#f0dc20" stroke="#9c8f14" stroke-width="0.6"/><circle cx="265.1" cy="632.5" r="1.3" fill="#a89a16" fill-opacity="0.6"/>
<circle cx="264.8" cy="646.7" r="3.2" fill="#f0dc20" stroke="#9c8f14" stroke-width="0.6"/><circle cx="265.1" cy="646.9" r="1.3" fill="#a89a16" fill-opacity="0.6"/>
<circle cx="264.8" cy="660.4" r="3.2" fill="#f0dc20" stroke="#9c8f14" stroke-width="0.6"/><circle cx="265.1" cy="660.6" r="1.3" fill="#a89a16" fill-opacity="0.6"/>
<circle cx="264.8" cy="674.1" r="3.2" fill="#f0dc20" stroke="#9c8f14" stroke-width="0.6"/><circle cx="265.1" cy="674.3" r="1.3" fill="#a89a16" fill-opacity="0.6"/>
<path d="M280,623 L274.6,619.7 L276,618.9 L272.8,613.3 L275.2,611.9 L278.4,617.5 L279.8,616.7 Z" fill="#e8aa22" stroke="#966e16" stroke-width="0.5"/>
<path d="M277.5,638.3 L274.1,633 L275.7,632.9 L275.1,626.4 L277.9,626.2 L278.4,632.7 L280,632.5 Z" fill="#e8aa22" stroke="#966e16" stroke-width="0.5"/>
<circle cx="277" cy="646.7" r="3.2" fill="#e8aa22" stroke="#966e16" stroke-width="0.6"/><circle cx="277.3" cy="646.9" r="1.3" fill="#a27617" fill-opacity="0.6"/>
<path d="M274,665.6 L274.2,659.3 L275.6,660.1 L278.8,654.5 L281.2,655.9 L278,661.5 L279.4,662.3 Z" fill="#e8aa22" stroke="#966e16" stroke-width="0.5"/>
<path d="M273.6,679 L274.3,672.8 L275.6,673.7 L279.3,668.4 L281.6,670 L277.9,675.3 L279.2,676.2 Z" fill="#e8aa22" stroke="#966e16" stroke-width="0.5"/>
<path d="M274,693 L274.2,686.7 L275.6,687.5 L278.8,681.9 L281.2,683.3 L278,688.9 L279.4,689.7 Z" fill="#b0c830" stroke="#72821f" stroke-width="0.5"/>
<path d="M289.4,624.8 L285.9,618.4 L287.8,618.4 L287.8,610.8 L291,610.8 L291,618.4 L292.9,618.4 Z" fill="#50c860" stroke="#34823e" stroke-width="0.5"/>
<path d="M289.4,639.3 L285.9,632.9 L287.8,632.9 L287.8,625.3 L291,625.3 L291,632.9 L292.9,632.9 Z" fill="#90c840" stroke="#5d8229" stroke-width="0.5"/>
<path d="M289.4,653.7 L285.9,647.3 L287.8,647.3 L287.8,639.7 L291,639.7 L291,647.3 L292.9,647.3 Z" fill="#b0c830" stroke="#72821f" stroke-width="0.5"/>
<path d="M289.4,667.4 L285.9,661 L287.8,661 L287.8,653.4 L291,653.4 L291,661 L292.9,661 Z" fill="#90c840" stroke="#5d8229" stroke-width="0.5"/>
<path d="M289.4,681.1 L285.9,674.7 L287.8,674.7 L287.8,667.1 L291,667.1 L291,674.7 L292.9,674.7 Z" fill="#60c860" stroke="#3e823e" stroke-width="0.5"/>
<path d="M289.4,694.8 L285.9,688.4 L287.8,688.4 L287.8,680.8 L291,680.8 L291,688.4 L292.9,688.4 Z" fill="#40c880" stroke="#298253" stroke-width="0.5"/>
<path d="M302,624.8 L298.5,618.4 L300.4,618.4 L300.4,610.8 L303.6,610.8 L303.6,618.4 L305.5,618.4 Z" fill="#20b4e0" stroke="#147591" stroke-width="0.5"/>
<path d="M302,639.3 L298.5,632.9 L300.4,632.9 L300.4,625.3 L303.6,625.3 L303.6,632.9 L305.5,632.9 Z" fill="#20b4e0" stroke="#147591" stroke-width="0.5"/>
<path d="M302,653.7 L298.5,647.3 L300.4,647.3 L300.4,639.7 L303.6,639.7 L303.6,647.3 L305.5,647.3 Z" fill="#20b4e0" stroke="#147591" stroke-width="0.5"/>
<path d="M302,667.4 L298.5,661 L300.4,661 L300.4,653.4 L303.6,653.4 L303.6,661 L305.5,661 Z" fill="#20b4e0" stroke="#147591" stroke-width="0.5"/>
<path d="M302,681.1 L298.5,674.7 L300.4,674.7 L300.4,667.1 L303.6,667.1 L303.6,674.7 L305.5,674.7 Z" fill="#20b4e0" stroke="#147591" stroke-width="0.5"/>
<path d="M302,694.8 L298.5,688.4 L300.4,688.4 L300.4,680.8 L303.6,680.8 L303.6,688.4 L305.5,688.4 Z" fill="#20b4e0" stroke="#147591" stroke-width="0.5"/>
<path d="M311.7,623.2 L311.3,617 L312.7,617.7 L315.5,611.8 L318,612.9 L315.2,618.8 L316.7,619.5 Z" fill="#2f6fe8" stroke="#1e4896" stroke-width="0.5"/>
<path d="M312.1,637.9 L311.2,631.7 L312.7,632.3 L315,626.2 L317.5,627.1 L315.3,633.2 L316.9,633.8 Z" fill="#2f6fe8" stroke="#1e4896" stroke-width="0.5"/>
<path d="M313.2,652.6 L311.2,646.7 L312.8,646.9 L313.9,640.6 L316.6,641 L315.5,647.4 L317.1,647.7 Z" fill="#2f6fe8" stroke="#1e4896" stroke-width="0.5"/>
<path d="M315.2,666.3 L311.3,661.4 L312.9,661.1 L311.8,654.7 L314.5,654.3 L315.6,660.6 L317.2,660.4 Z" fill="#2f6fe8" stroke="#1e4896" stroke-width="0.5"/>
<path d="M316.3,679.7 L311.5,675.6 L313.1,675 L310.9,668.9 L313.4,668 L315.7,674.1 L317.2,673.5 Z" fill="#2f6fe8" stroke="#1e4896" stroke-width="0.5"/>
<path d="M316.7,693.2 L311.7,689.5 L313.2,688.8 L310.4,682.9 L312.9,681.8 L315.7,687.7 L317.1,687 Z" fill="#2f6fe8" stroke="#1e4896" stroke-width="0.5"/>
<path d="M321.2,620.8 L324.5,615.4 L325.3,616.8 L330.9,613.6 L332.3,616 L326.7,619.2 L327.5,620.6 Z" fill="#4850e0" stroke="#2e3491" stroke-width="0.5"/>
<circle cx="326.4" cy="632.3" r="3.2" fill="#4850e0" stroke="#2e3491" stroke-width="0.6"/><circle cx="326.7" cy="632.5" r="1.3" fill="#32389c" fill-opacity="0.6"/>
<circle cx="326.4" cy="646.7" r="3.2" fill="#4850e0" stroke="#2e3491" stroke-width="0.6"/><circle cx="326.7" cy="646.9" r="1.3" fill="#32389c" fill-opacity="0.6"/>
<circle cx="326.4" cy="660.4" r="3.2" fill="#4850e0" stroke="#2e3491" stroke-width="0.6"/><circle cx="326.7" cy="660.6" r="1.3" fill="#32389c" fill-opacity="0.6"/>
<path d="M331.6,677.1 L325.3,676.9 L326.1,675.5 L320.5,672.3 L321.9,669.9 L327.5,673.1 L328.3,671.7 Z" fill="#4850e0" stroke="#2e3491" stroke-width="0.5"/>
<path d="M331,691.7 L324.8,690.4 L325.9,689.2 L320.9,685 L322.7,682.9 L327.7,687.1 L328.7,685.8 Z" fill="#4850e0" stroke="#2e3491" stroke-width="0.5"/>
<circle cx="338.1" cy="632.3" r="3.2" fill="#5a48e8" stroke="#3a2e96" stroke-width="0.6"/><circle cx="338.4" cy="632.5" r="1.3" fill="#3e32a2" fill-opacity="0.6"/>
<circle cx="338.1" cy="646.7" r="3.2" fill="#5a48e8" stroke="#3a2e96" stroke-width="0.6"/><circle cx="338.4" cy="646.9" r="1.3" fill="#3e32a2" fill-opacity="0.6"/>
<circle cx="338.1" cy="660.4" r="3.2" fill="#5a48e8" stroke="#3a2e96" stroke-width="0.6"/><circle cx="338.4" cy="660.6" r="1.3" fill="#3e32a2" fill-opacity="0.6"/>
<circle cx="338.1" cy="674.1" r="3.2" fill="#5a48e8" stroke="#3a2e96" stroke-width="0.6"/><circle cx="338.4" cy="674.3" r="1.3" fill="#3e32a2" fill-opacity="0.6"/>
<circle cx="181" cy="560" r="96" fill="url(#gsph)" fill-opacity="0.96"/>
<ellipse cx="181" cy="557.8" rx="96" ry="47.5" fill="url(#geq)"/>
<ellipse cx="181" cy="557.8" rx="95.5" ry="47.5" stroke="#f4e4f8" stroke-width="1.2" stroke-dasharray="5 4" fill="none" stroke-opacity="0.6"/>
<line x1="180.5" y1="464" x2="180.5" y2="656" stroke="#f4e4f8" stroke-width="1.2" stroke-dasharray="5 4" fill="none" stroke-opacity="0.6"/>
<line x1="110.6" y1="520" x2="252" y2="594" stroke="#f4e4f8" stroke-width="1.2" stroke-dasharray="5 4" fill="none" stroke-opacity="0.6"/>
<line x1="244" y1="519" x2="125.8" y2="594" stroke="#f4e4f8" stroke-width="1.2" stroke-dasharray="5 4" fill="none" stroke-opacity="0.6"/>
<line x1="180.2" y1="562.8" x2="180.2" y2="526" stroke="#5c1868" stroke-width="2.2"/>
<path d="M180.2,518.3 L175.7,528.8 L180.2,526.3 L184.7,528.8 Z" fill="#5c1868"/>
<line x1="180.2" y1="562.8" x2="149" y2="580.5" stroke="#5c1868" stroke-width="2.2"/>
<path d="M142.9,583.9 L148.5,575.6 L149,580.5 L152.9,583.4 Z" fill="#5c1868"/>
<line x1="180.2" y1="562.8" x2="212.8" y2="580.5" stroke="#5c1868" stroke-width="2.2"/>
<path d="M218.9,583.9 L208.8,583.5 L212.8,580.5 L213.2,575.6 Z" fill="#5c1868"/>
<path d="M180.2,554.8 A8,8 0 0 1 187.2,566.3" stroke="#5c1868" stroke-width="1.5" fill="none"/>
<path d="M173.7,566.0999999999999 A7.5,7.5 0 0 0 186.7,566.0999999999999" stroke="#5c1868" stroke-width="1.5" fill="none"/>
<text x="193.5" y="559" font-size="22" font-style="italic" fill="#1a0a1a">ψ<tspan font-size="15" dy="4" font-style="normal">2</tspan></text>
<text x="172.5" y="586.5" font-size="22" font-style="italic" fill="#1a0a1a">ψ<tspan font-size="15" dy="4" font-style="normal">1</tspan></text>
<rect x="417.3" y="513.8" width="387.3" height="169.70000000000005" fill="#f4f5f3"/>
<rect x="417.3" y="513.8" width="387.3" height="87.70000000000005" fill="url(#hTop)" mask="url(#mTop)"/>
<rect x="417.3" y="601.5" width="387.3" height="82.0" fill="url(#hBot)" mask="url(#mBot)"/>
<rect x="417.3" y="513.8" width="387.3" height="6" fill="url(#fadeTop)"/>
<rect x="417.3" y="677.5" width="387.3" height="6" fill="url(#fadeBot)"/>
<line x1="425.2" y1="516.3" x2="420.4" y2="524.1" stroke="#666666" stroke-width="1.4"/>
<path d="M418.2,527.7 L418.5,523 L422.2,525.3 Z" fill="#666666"/>
<line x1="445.4" y1="516.5" x2="440.5" y2="523.9" stroke="#666666" stroke-width="1.4"/>
<path d="M438.2,527.5 L438.7,522.7 L442.3,525.2 Z" fill="#666666"/>
<line x1="465.7" y1="517.2" x2="460.7" y2="523.5" stroke="#666666" stroke-width="1.4"/>
<path d="M458.1,526.8 L459,522.1 L462.4,524.9 Z" fill="#666666"/>
<line x1="486.2" y1="518.4" x2="481" y2="522.9" stroke="#666666" stroke-width="1.4"/>
<path d="M477.8,525.6 L479.6,521.2 L482.4,524.5 Z" fill="#666666"/>
<line x1="506.9" y1="520.4" x2="501.3" y2="522.3" stroke="#666666" stroke-width="1.4"/>
<path d="M497.3,523.6 L500.6,520.2 L502,524.4 Z" fill="#666666"/>
<line x1="527" y1="523" x2="521.5" y2="521.9" stroke="#666666" stroke-width="1.4"/>
<path d="M517.4,521 L521.9,519.7 L521.1,524 Z" fill="#666666"/>
<line x1="546.5" y1="525.2" x2="541.5" y2="521.4" stroke="#666666" stroke-width="1.4"/>
<path d="M538.1,518.8 L542.8,519.6 L540.1,523.1 Z" fill="#666666"/>
<line x1="565.7" y1="526.7" x2="561.5" y2="520.8" stroke="#666666" stroke-width="1.4"/>
<path d="M559.1,517.3 L563.3,519.5 L559.7,522 Z" fill="#666666"/>
<line x1="584.7" y1="527.6" x2="581.8" y2="520.3" stroke="#666666" stroke-width="1.4"/>
<path d="M580.3,516.4 L583.9,519.5 L579.8,521.1 Z" fill="#666666"/>
<line x1="603.3" y1="528.1" x2="602.4" y2="520.1" stroke="#666666" stroke-width="1.4"/>
<path d="M601.9,515.9 L604.6,519.8 L600.2,520.3 Z" fill="#666666"/>
<line x1="621.1" y1="528" x2="623.2" y2="520" stroke="#666666" stroke-width="1.4"/>
<path d="M624.3,516 L625.3,520.6 L621.1,519.5 Z" fill="#666666"/>
<line x1="639.1" y1="527.2" x2="644.1" y2="520.2" stroke="#666666" stroke-width="1.4"/>
<path d="M646.5,516.8 L645.9,521.5 L642.3,518.9 Z" fill="#666666"/>
<line x1="657.9" y1="525.9" x2="664.6" y2="520.6" stroke="#666666" stroke-width="1.4"/>
<path d="M667.9,518.1 L666,522.4 L663.3,518.9 Z" fill="#666666"/>
<line x1="677.2" y1="524.3" x2="684.9" y2="521.2" stroke="#666666" stroke-width="1.4"/>
<path d="M688.8,519.7 L685.7,523.3 L684.1,519.2 Z" fill="#666666"/>
<line x1="697" y1="522.4" x2="705.1" y2="521.9" stroke="#666666" stroke-width="1.4"/>
<path d="M709.2,521.6 L705.2,524.1 L704.9,519.7 Z" fill="#666666"/>
<line x1="717.1" y1="520.4" x2="725.3" y2="522.5" stroke="#666666" stroke-width="1.4"/>
<path d="M729.3,523.6 L724.7,524.7 L725.8,520.4 Z" fill="#666666"/>
<line x1="737.4" y1="518.8" x2="745.5" y2="523.2" stroke="#666666" stroke-width="1.4"/>
<path d="M749.2,525.2 L744.4,525.1 L746.5,521.3 Z" fill="#666666"/>
<line x1="757.8" y1="517.6" x2="765.7" y2="523.8" stroke="#666666" stroke-width="1.4"/>
<path d="M769,526.4 L764.4,525.5 L767.1,522.1 Z" fill="#666666"/>
<line x1="778" y1="517" x2="785.9" y2="524.2" stroke="#666666" stroke-width="1.4"/>
<path d="M789,527 L784.4,525.8 L787.4,522.6 Z" fill="#666666"/>
<line x1="798.2" y1="516.7" x2="806" y2="524.3" stroke="#666666" stroke-width="1.4"/>
<path d="M809,527.3 L804.5,525.9 L807.5,522.8 Z" fill="#666666"/>
<line x1="423.4" y1="535.1" x2="420.9" y2="546" stroke="#666666" stroke-width="1.4"/>
<path d="M420,550.1 L418.8,545.5 L423.1,546.5 Z" fill="#666666"/>
<line x1="443.6" y1="535.4" x2="441" y2="545.7" stroke="#666666" stroke-width="1.4"/>
<path d="M440,549.8 L438.9,545.2 L443.2,546.3 Z" fill="#666666"/>
<line x1="463.8" y1="536.2" x2="461.2" y2="545" stroke="#666666" stroke-width="1.4"/>
<path d="M460,549 L459.1,544.3 L463.3,545.6 Z" fill="#666666"/>
<line x1="484.3" y1="537.5" x2="481.4" y2="543.9" stroke="#666666" stroke-width="1.4"/>
<path d="M479.7,547.7 L479.4,543 L483.4,544.8 Z" fill="#666666"/>
<line x1="505.4" y1="539.6" x2="501.9" y2="542.8" stroke="#666666" stroke-width="1.4"/>
<path d="M498.8,545.6 L500.4,541.1 L503.4,544.4 Z" fill="#666666"/>
<line x1="525.9" y1="544.5" x2="522.2" y2="542.6" stroke="#666666" stroke-width="1.4"/>
<path d="M518.5,540.7 L523.3,540.7 L521.2,544.6 Z" fill="#666666"/>
<line x1="544.6" y1="547.3" x2="541.9" y2="541.7" stroke="#666666" stroke-width="1.4"/>
<path d="M540,537.9 L543.8,540.7 L539.9,542.7 Z" fill="#666666"/>
<line x1="564" y1="548.7" x2="561.9" y2="540.5" stroke="#666666" stroke-width="1.4"/>
<path d="M560.8,536.5 L564,540 L559.7,541.1 Z" fill="#666666"/>
<line x1="583.5" y1="549.7" x2="582.1" y2="539.7" stroke="#666666" stroke-width="1.4"/>
<path d="M581.5,535.5 L584.3,539.4 L579.9,540 Z" fill="#666666"/>
<line x1="602.9" y1="550.2" x2="602.5" y2="539.2" stroke="#666666" stroke-width="1.4"/>
<path d="M602.3,535 L604.7,539.1 L600.3,539.3 Z" fill="#666666"/>
<line x1="622" y1="550.1" x2="623" y2="539.3" stroke="#666666" stroke-width="1.4"/>
<path d="M623.4,535.1 L625.2,539.5 L620.8,539.1 Z" fill="#666666"/>
<line x1="640.9" y1="549.5" x2="643.6" y2="539.8" stroke="#666666" stroke-width="1.4"/>
<path d="M644.7,535.7 L645.7,540.3 L641.4,539.2 Z" fill="#666666"/>
<line x1="660.2" y1="548.3" x2="663.8" y2="540.6" stroke="#666666" stroke-width="1.4"/>
<path d="M665.6,536.9 L665.8,541.6 L661.8,539.7 Z" fill="#666666"/>
<line x1="679.3" y1="546.6" x2="683.8" y2="541.7" stroke="#666666" stroke-width="1.4"/>
<path d="M686.7,538.6 L685.4,543.2 L682.2,540.2 Z" fill="#666666"/>
<line x1="698.4" y1="543.4" x2="703.6" y2="542.5" stroke="#666666" stroke-width="1.4"/>
<path d="M707.8,541.8 L704,544.7 L703.3,540.3 Z" fill="#666666"/>
<line x1="719" y1="539.7" x2="724" y2="543.1" stroke="#666666" stroke-width="1.4"/>
<path d="M727.4,545.5 L722.7,544.9 L725.2,541.3 Z" fill="#666666"/>
<line x1="739.8" y1="537.5" x2="744.4" y2="544.2" stroke="#666666" stroke-width="1.4"/>
<path d="M746.8,547.7 L742.6,545.4 L746.2,542.9 Z" fill="#666666"/>
<line x1="760.3" y1="536.2" x2="764.6" y2="545.2" stroke="#666666" stroke-width="1.4"/>
<path d="M766.5,549 L762.7,546.1 L766.6,544.2 Z" fill="#666666"/>
<line x1="780.6" y1="535.4" x2="784.8" y2="545.9" stroke="#666666" stroke-width="1.4"/>
<path d="M786.4,549.8 L782.8,546.7 L786.9,545 Z" fill="#666666"/>
<line x1="800.8" y1="535.2" x2="804.9" y2="546.1" stroke="#666666" stroke-width="1.4"/>
<path d="M806.4,550 L802.9,546.9 L807,545.3 Z" fill="#666666"/>
<line x1="421.9" y1="555.4" x2="421.6" y2="566.8" stroke="#666666" stroke-width="1.4"/>
<path d="M421.5,571 L419.4,566.7 L423.8,566.9 Z" fill="#666666"/>
<line x1="442" y1="555.7" x2="441.7" y2="566.5" stroke="#666666" stroke-width="1.4"/>
<path d="M441.6,570.7 L439.5,566.4 L443.9,566.5 Z" fill="#666666"/>
<line x1="462.1" y1="556.5" x2="461.8" y2="565.7" stroke="#666666" stroke-width="1.4"/>
<path d="M461.7,569.9 L459.6,565.6 L464,565.7 Z" fill="#666666"/>
<line x1="482.3" y1="557.7" x2="481.9" y2="564.5" stroke="#666666" stroke-width="1.4"/>
<path d="M481.7,568.7 L479.7,564.4 L484.1,564.6 Z" fill="#666666"/>
<line x1="502.6" y1="559.2" x2="502.1" y2="563" stroke="#666666" stroke-width="1.4"/>
<path d="M501.6,567.2 L499.9,562.8 L504.3,563.3 Z" fill="#666666"/>
<line x1="522.9" y1="566.7" x2="522.3" y2="563.8" stroke="#666666" stroke-width="1.4"/>
<path d="M521.5,559.7 L524.5,563.4 L520.2,564.2 Z" fill="#666666"/>
<line x1="542.6" y1="568.3" x2="542.3" y2="562.3" stroke="#666666" stroke-width="1.4"/>
<path d="M542,558.1 L544.5,562.2 L540.1,562.4 Z" fill="#666666"/>
<line x1="562.6" y1="569.6" x2="562.3" y2="561" stroke="#666666" stroke-width="1.4"/>
<path d="M562.2,556.8 L564.5,561 L560.1,561.1 Z" fill="#666666"/>
<line x1="582.6" y1="570.5" x2="582.5" y2="560.1" stroke="#666666" stroke-width="1.4"/>
<path d="M582.4,555.9 L584.7,560.1 L580.3,560.1 Z" fill="#666666"/>
<line x1="602.6" y1="571" x2="602.6" y2="559.6" stroke="#666666" stroke-width="1.4"/>
<path d="M602.6,555.4 L604.8,559.6 L600.4,559.7 Z" fill="#666666"/>
<line x1="622.6" y1="570.9" x2="622.7" y2="559.7" stroke="#666666" stroke-width="1.4"/>
<path d="M622.8,555.5 L624.9,559.7 L620.5,559.7 Z" fill="#666666"/>
<line x1="642.6" y1="570.4" x2="642.9" y2="560.2" stroke="#666666" stroke-width="1.4"/>
<path d="M643,556 L645.1,560.3 L640.7,560.2 Z" fill="#666666"/>
<line x1="662.6" y1="569.4" x2="663" y2="561.2" stroke="#666666" stroke-width="1.4"/>
<path d="M663.2,557 L665.2,561.3 L660.8,561.1 Z" fill="#666666"/>
<line x1="682.5" y1="568" x2="683.1" y2="562.6" stroke="#666666" stroke-width="1.4"/>
<path d="M683.5,558.4 L685.3,562.8 L680.9,562.3 Z" fill="#666666"/>
<circle cx="703.1" cy="563.2" r="0.9" fill="#666666"/>
<line x1="722.6" y1="559" x2="723.2" y2="563.3" stroke="#666666" stroke-width="1.4"/>
<path d="M723.8,567.4 L721,563.6 L725.4,562.9 Z" fill="#666666"/>
<line x1="742.9" y1="557.5" x2="743.4" y2="564.7" stroke="#666666" stroke-width="1.4"/>
<path d="M743.7,568.9 L741.2,564.9 L745.6,564.5 Z" fill="#666666"/>
<line x1="763.1" y1="556.4" x2="763.5" y2="565.8" stroke="#666666" stroke-width="1.4"/>
<path d="M763.7,570 L761.3,565.9 L765.7,565.7 Z" fill="#666666"/>
<line x1="783.2" y1="555.6" x2="783.6" y2="566.6" stroke="#666666" stroke-width="1.4"/>
<path d="M783.8,570.8 L781.4,566.7 L785.8,566.5 Z" fill="#666666"/>
<line x1="803.3" y1="555.4" x2="803.7" y2="566.8" stroke="#666666" stroke-width="1.4"/>
<path d="M803.9,571 L801.5,566.9 L805.9,566.7 Z" fill="#666666"/>
<line x1="417.4" y1="578.6" x2="423.3" y2="585.8" stroke="#666666" stroke-width="1.4"/>
<path d="M426,589 L421.6,587.2 L425,584.4 Z" fill="#666666"/>
<line x1="437.4" y1="578.8" x2="443.4" y2="585.6" stroke="#666666" stroke-width="1.4"/>
<path d="M446.2,588.8 L441.7,587.1 L445,584.2 Z" fill="#666666"/>
<line x1="457.3" y1="579.5" x2="463.4" y2="585.2" stroke="#666666" stroke-width="1.4"/>
<path d="M466.5,588.1 L461.9,586.8 L464.9,583.6 Z" fill="#666666"/>
<line x1="477.1" y1="580.7" x2="483.4" y2="584.7" stroke="#666666" stroke-width="1.4"/>
<path d="M486.9,586.9 L482.2,586.5 L484.5,582.8 Z" fill="#666666"/>
<line x1="496.8" y1="582.4" x2="503.3" y2="584.1" stroke="#666666" stroke-width="1.4"/>
<path d="M507.4,585.2 L502.7,586.2 L503.8,582 Z" fill="#666666"/>
<line x1="516.9" y1="584.6" x2="523.3" y2="583.6" stroke="#666666" stroke-width="1.4"/>
<path d="M527.5,583 L523.6,585.8 L523,581.5 Z" fill="#666666"/>
<line x1="537.5" y1="586.6" x2="543.4" y2="583.1" stroke="#666666" stroke-width="1.4"/>
<path d="M547.1,581 L544.5,585 L542.3,581.2 Z" fill="#666666"/>
<line x1="558.5" y1="588" x2="563.5" y2="582.6" stroke="#666666" stroke-width="1.4"/>
<path d="M566.3,579.6 L565.1,584.1 L561.9,581.1 Z" fill="#666666"/>
<line x1="579.8" y1="589.1" x2="583.3" y2="582.3" stroke="#666666" stroke-width="1.4"/>
<path d="M585.2,578.5 L585.2,583.3 L581.3,581.3 Z" fill="#666666"/>
<line x1="601.7" y1="589.7" x2="602.9" y2="582.1" stroke="#666666" stroke-width="1.4"/>
<path d="M603.5,577.9 L605,582.4 L600.7,581.8 Z" fill="#666666"/>
<line x1="624.7" y1="589.5" x2="622.1" y2="582.1" stroke="#666666" stroke-width="1.4"/>
<path d="M620.7,578.1 L624.2,581.3 L620,582.8 Z" fill="#666666"/>
<line x1="647.3" y1="588.5" x2="641.2" y2="582.1" stroke="#666666" stroke-width="1.4"/>
<path d="M638.3,579.1 L642.8,580.6 L639.6,583.7 Z" fill="#666666"/>
<line x1="668.8" y1="587.3" x2="660.7" y2="582.5" stroke="#666666" stroke-width="1.4"/>
<path d="M657,580.3 L661.8,580.6 L659.5,584.4 Z" fill="#666666"/>
<line x1="689.5" y1="585.8" x2="680.5" y2="583" stroke="#666666" stroke-width="1.4"/>
<path d="M676.5,581.8 L681.1,580.9 L679.8,585.1 Z" fill="#666666"/>
<line x1="710" y1="584.1" x2="700.4" y2="583.7" stroke="#666666" stroke-width="1.4"/>
<path d="M696.2,583.5 L700.5,581.5 L700.3,585.9 Z" fill="#666666"/>
<line x1="730.1" y1="582.5" x2="720.4" y2="584.3" stroke="#666666" stroke-width="1.4"/>
<path d="M716.3,585.1 L720,582.2 L720.9,586.5 Z" fill="#666666"/>
<line x1="750" y1="581" x2="740.4" y2="585" stroke="#666666" stroke-width="1.4"/>
<path d="M736.6,586.6 L739.6,582.9 L741.3,587 Z" fill="#666666"/>
<line x1="770" y1="580" x2="760.5" y2="585.5" stroke="#666666" stroke-width="1.4"/>
<path d="M756.8,587.6 L759.3,583.6 L761.6,587.4 Z" fill="#666666"/>
<line x1="789.9" y1="579.3" x2="780.5" y2="585.9" stroke="#666666" stroke-width="1.4"/>
<path d="M777.1,588.3 L779.2,584.1 L781.8,587.7 Z" fill="#666666"/>
<line x1="810" y1="579.1" x2="800.6" y2="586" stroke="#666666" stroke-width="1.4"/>
<path d="M797.2,588.5 L799.3,584.2 L801.9,587.8 Z" fill="#666666"/>
<line x1="414.5" y1="605.3" x2="424.7" y2="604" stroke="#666666" stroke-width="1.4"/>
<path d="M428.9,603.5 L425,606.2 L424.5,601.8 Z" fill="#666666"/>
<line x1="434.6" y1="605.2" x2="444.8" y2="604.1" stroke="#666666" stroke-width="1.4"/>
<path d="M449,603.6 L445.1,606.2 L444.6,601.9 Z" fill="#666666"/>
<line x1="454.7" y1="605.1" x2="464.9" y2="604.1" stroke="#666666" stroke-width="1.4"/>
<path d="M469.1,603.7 L465.1,606.3 L464.7,601.9 Z" fill="#666666"/>
<line x1="474.8" y1="604.9" x2="485" y2="604.2" stroke="#666666" stroke-width="1.4"/>
<path d="M489.2,603.9 L485.1,606.4 L484.9,602 Z" fill="#666666"/>
<line x1="494.9" y1="604.6" x2="505.1" y2="604.3" stroke="#666666" stroke-width="1.4"/>
<path d="M509.3,604.2 L505.1,606.5 L505,602.1 Z" fill="#666666"/>
<line x1="515.1" y1="604.3" x2="525.1" y2="604.4" stroke="#666666" stroke-width="1.4"/>
<path d="M529.3,604.5 L525,606.6 L525.1,602.2 Z" fill="#666666"/>
<line x1="535.5" y1="604" x2="544.9" y2="604.6" stroke="#666666" stroke-width="1.4"/>
<path d="M549.1,604.8 L544.8,606.7 L545.1,602.4 Z" fill="#666666"/>
<line x1="556.1" y1="603.7" x2="564.6" y2="604.6" stroke="#666666" stroke-width="1.4"/>
<path d="M568.7,605.1 L564.3,606.8 L564.8,602.4 Z" fill="#666666"/>
<line x1="577.2" y1="603.4" x2="583.7" y2="604.6" stroke="#666666" stroke-width="1.4"/>
<path d="M587.8,605.4 L583.3,606.8 L584.1,602.5 Z" fill="#666666"/>
<line x1="599.3" y1="602.3" x2="602.4" y2="604.3" stroke="#666666" stroke-width="1.4"/>
<path d="M605.9,606.5 L601.2,606.1 L603.6,602.4 Z" fill="#666666"/>
<line x1="627.4" y1="603.1" x2="622.1" y2="604.6" stroke="#666666" stroke-width="1.4"/>
<path d="M618,605.7 L621.5,602.5 L622.7,606.7 Z" fill="#666666"/>
<line x1="650.1" y1="603.6" x2="639.7" y2="604.7" stroke="#666666" stroke-width="1.4"/>
<path d="M635.5,605.2 L639.5,602.5 L639.9,606.9 Z" fill="#666666"/>
<line x1="671.4" y1="603.9" x2="658.6" y2="604.7" stroke="#666666" stroke-width="1.4"/>
<path d="M654.4,604.9 L658.5,602.5 L658.7,606.8 Z" fill="#666666"/>
<line x1="691.5" y1="604.1" x2="678.7" y2="604.5" stroke="#666666" stroke-width="1.4"/>
<path d="M674.5,604.7 L678.6,602.3 L678.8,606.7 Z" fill="#666666"/>
<line x1="711.6" y1="604.4" x2="698.8" y2="604.4" stroke="#666666" stroke-width="1.4"/>
<path d="M694.6,604.4 L698.8,602.2 L698.8,606.6 Z" fill="#666666"/>
<line x1="731.7" y1="604.6" x2="718.9" y2="604.3" stroke="#666666" stroke-width="1.4"/>
<path d="M714.7,604.2 L718.9,602.1 L718.9,606.5 Z" fill="#666666"/>
<line x1="751.8" y1="604.7" x2="739" y2="604.2" stroke="#666666" stroke-width="1.4"/>
<path d="M734.8,604.1 L739.1,602 L738.9,606.4 Z" fill="#666666"/>
<line x1="771.9" y1="604.9" x2="759.1" y2="604.1" stroke="#666666" stroke-width="1.4"/>
<path d="M754.9,603.9 L759.2,602 L759,606.3 Z" fill="#666666"/>
<line x1="792" y1="605" x2="779.2" y2="604.1" stroke="#666666" stroke-width="1.4"/>
<path d="M775,603.8 L779.4,601.9 L779.1,606.3 Z" fill="#666666"/>
<line x1="812.1" y1="605" x2="799.3" y2="604.1" stroke="#666666" stroke-width="1.4"/>
<path d="M795.1,603.8 L799.5,601.9 L799.2,606.3 Z" fill="#666666"/>
<line x1="419.1" y1="631.4" x2="422.7" y2="622.5" stroke="#666666" stroke-width="1.4"/>
<path d="M424.3,618.6 L424.8,623.3 L420.7,621.6 Z" fill="#666666"/>
<line x1="439.1" y1="631.2" x2="442.8" y2="622.7" stroke="#666666" stroke-width="1.4"/>
<path d="M444.5,618.8 L444.8,623.6 L440.8,621.8 Z" fill="#666666"/>
<line x1="459" y1="630.4" x2="462.8" y2="623.3" stroke="#666666" stroke-width="1.4"/>
<path d="M464.8,619.6 L464.8,624.3 L460.9,622.2 Z" fill="#666666"/>
<line x1="478.7" y1="629.2" x2="482.7" y2="624.1" stroke="#666666" stroke-width="1.4"/>
<path d="M485.3,620.8 L484.5,625.4 L481,622.7 Z" fill="#666666"/>
<line x1="498" y1="627.2" x2="502.5" y2="624.8" stroke="#666666" stroke-width="1.4"/>
<path d="M506.2,622.8 L503.5,626.7 L501.5,622.8 Z" fill="#666666"/>
<line x1="517.9" y1="623.7" x2="522.5" y2="625.1" stroke="#666666" stroke-width="1.4"/>
<path d="M526.5,626.3 L521.8,627.2 L523.1,623 Z" fill="#666666"/>
<line x1="539" y1="621.1" x2="542.9" y2="625.7" stroke="#666666" stroke-width="1.4"/>
<path d="M545.6,628.9 L541.2,627.1 L544.5,624.2 Z" fill="#666666"/>
<line x1="560" y1="619.7" x2="563.1" y2="626.5" stroke="#666666" stroke-width="1.4"/>
<path d="M564.8,630.3 L561.1,627.4 L565.1,625.6 Z" fill="#666666"/>
<line x1="580.9" y1="618.8" x2="583" y2="627.1" stroke="#666666" stroke-width="1.4"/>
<path d="M584.1,631.2 L580.9,627.6 L585.2,626.6 Z" fill="#666666"/>
<line x1="602.1" y1="618.4" x2="602.8" y2="627.4" stroke="#666666" stroke-width="1.4"/>
<path d="M603.1,631.6 L600.6,627.6 L605,627.3 Z" fill="#666666"/>
<line x1="623.8" y1="618.5" x2="622.3" y2="627.4" stroke="#666666" stroke-width="1.4"/>
<path d="M621.6,631.5 L620.1,627 L624.4,627.8 Z" fill="#666666"/>
<line x1="645.6" y1="619.1" x2="641.8" y2="627.1" stroke="#666666" stroke-width="1.4"/>
<path d="M640,630.9 L639.8,626.2 L643.8,628 Z" fill="#666666"/>
<line x1="666.8" y1="620.3" x2="661.7" y2="626.5" stroke="#666666" stroke-width="1.4"/>
<path d="M659,629.7 L660,625.1 L663.3,627.9 Z" fill="#666666"/>
<line x1="687.8" y1="622" x2="681.8" y2="625.8" stroke="#666666" stroke-width="1.4"/>
<path d="M678.2,628 L680.6,623.9 L682.9,627.6 Z" fill="#666666"/>
<line x1="708.5" y1="624.5" x2="701.9" y2="625.1" stroke="#666666" stroke-width="1.4"/>
<path d="M697.7,625.5 L701.7,622.9 L702.1,627.3 Z" fill="#666666"/>
<line x1="728.4" y1="627.1" x2="721.9" y2="624.5" stroke="#666666" stroke-width="1.4"/>
<path d="M718,622.9 L722.7,622.4 L721.1,626.5 Z" fill="#666666"/>
<line x1="748" y1="629" x2="741.8" y2="623.7" stroke="#666666" stroke-width="1.4"/>
<path d="M738.6,621 L743.2,622 L740.4,625.4 Z" fill="#666666"/>
<line x1="767.8" y1="630.2" x2="761.7" y2="623" stroke="#666666" stroke-width="1.4"/>
<path d="M759,619.8 L763.4,621.6 L760,624.4 Z" fill="#666666"/>
<line x1="787.7" y1="630.9" x2="781.7" y2="622.5" stroke="#666666" stroke-width="1.4"/>
<path d="M779.3,619.1 L783.5,621.2 L779.9,623.8 Z" fill="#666666"/>
<line x1="807.7" y1="631.2" x2="801.8" y2="622.3" stroke="#666666" stroke-width="1.4"/>
<path d="M799.5,618.8 L803.6,621.1 L800,623.6 Z" fill="#666666"/>
<line x1="422.4" y1="653.5" x2="421.4" y2="641.9" stroke="#666666" stroke-width="1.4"/>
<path d="M421,637.7 L423.5,641.7 L419.2,642.1 Z" fill="#666666"/>
<line x1="442.5" y1="653.2" x2="441.5" y2="642.2" stroke="#666666" stroke-width="1.4"/>
<path d="M441.1,638 L443.7,642 L439.3,642.4 Z" fill="#666666"/>
<line x1="462.7" y1="652.4" x2="461.6" y2="643" stroke="#666666" stroke-width="1.4"/>
<path d="M461.1,638.8 L463.8,642.8 L459.4,643.3 Z" fill="#666666"/>
<line x1="483" y1="651.1" x2="481.8" y2="644.2" stroke="#666666" stroke-width="1.4"/>
<path d="M481,640.1 L483.9,643.9 L479.6,644.6 Z" fill="#666666"/>
<line x1="503.7" y1="649.4" x2="502.1" y2="645.7" stroke="#666666" stroke-width="1.4"/>
<path d="M500.5,641.8 L504.1,644.8 L500.1,646.5 Z" fill="#666666"/>
<line x1="524.4" y1="642.6" x2="522.5" y2="645.2" stroke="#666666" stroke-width="1.4"/>
<path d="M520,648.6 L520.7,643.9 L524.2,646.5 Z" fill="#666666"/>
<line x1="543.3" y1="640.5" x2="542.1" y2="646.6" stroke="#666666" stroke-width="1.4"/>
<path d="M541.3,650.7 L540,646.1 L544.3,647 Z" fill="#666666"/>
<line x1="563.1" y1="639.2" x2="562.2" y2="647.9" stroke="#666666" stroke-width="1.4"/>
<path d="M561.7,652 L560,647.6 L564.4,648.1 Z" fill="#666666"/>
<line x1="582.9" y1="638.2" x2="582.3" y2="648.8" stroke="#666666" stroke-width="1.4"/>
<path d="M582.1,653 L580.1,648.7 L584.5,648.9 Z" fill="#666666"/>
<line x1="602.7" y1="637.7" x2="602.5" y2="649.3" stroke="#666666" stroke-width="1.4"/>
<path d="M602.5,653.5 L600.3,649.3 L604.7,649.3 Z" fill="#666666"/>
<line x1="622.4" y1="637.8" x2="622.8" y2="649.3" stroke="#666666" stroke-width="1.4"/>
<path d="M623,653.4 L620.6,649.3 L625,649.2 Z" fill="#666666"/>
<line x1="642" y1="638.3" x2="643.1" y2="648.7" stroke="#666666" stroke-width="1.4"/>
<path d="M643.6,652.9 L640.9,648.9 L645.3,648.5 Z" fill="#666666"/>
<line x1="661.7" y1="639.4" x2="663.3" y2="647.7" stroke="#666666" stroke-width="1.4"/>
<path d="M664.1,651.8 L661.1,648.1 L665.5,647.3 Z" fill="#666666"/>
<line x1="681.3" y1="640.9" x2="683.3" y2="646.4" stroke="#666666" stroke-width="1.4"/>
<path d="M684.7,650.3 L681.2,647.1 L685.3,645.6 Z" fill="#666666"/>
<line x1="699.6" y1="644.1" x2="702.7" y2="645.4" stroke="#666666" stroke-width="1.4"/>
<path d="M706.6,647.1 L701.9,647.5 L703.6,643.4 Z" fill="#666666"/>
<line x1="721" y1="649.5" x2="723.3" y2="645.3" stroke="#666666" stroke-width="1.4"/>
<path d="M725.4,641.7 L725.3,646.4 L721.4,644.2 Z" fill="#666666"/>
<line x1="741.8" y1="651.3" x2="743.7" y2="644" stroke="#666666" stroke-width="1.4"/>
<path d="M744.8,639.9 L745.9,644.6 L741.6,643.4 Z" fill="#666666"/>
<line x1="762.1" y1="652.5" x2="763.9" y2="642.8" stroke="#666666" stroke-width="1.4"/>
<path d="M764.7,638.7 L766.1,643.3 L761.8,642.4 Z" fill="#666666"/>
<line x1="782.3" y1="653.3" x2="784.1" y2="642.1" stroke="#666666" stroke-width="1.4"/>
<path d="M784.7,637.9 L786.2,642.4 L781.9,641.7 Z" fill="#666666"/>
<line x1="802.4" y1="653.5" x2="804.2" y2="641.8" stroke="#666666" stroke-width="1.4"/>
<path d="M804.8,637.7 L806.4,642.2 L802,641.5 Z" fill="#666666"/>
<line x1="423.9" y1="673.3" x2="420.8" y2="663.1" stroke="#666666" stroke-width="1.4"/>
<path d="M419.5,659.1 L422.9,662.4 L418.7,663.7 Z" fill="#666666"/>
<line x1="444" y1="673" x2="440.9" y2="663.4" stroke="#666666" stroke-width="1.4"/>
<path d="M439.6,659.4 L443,662.7 L438.8,664 Z" fill="#666666"/>
<line x1="464.3" y1="672.2" x2="461.1" y2="664.1" stroke="#666666" stroke-width="1.4"/>
<path d="M459.5,660.2 L463.1,663.2 L459,664.9 Z" fill="#666666"/>
<line x1="484.8" y1="671" x2="481.3" y2="665" stroke="#666666" stroke-width="1.4"/>
<path d="M479.2,661.4 L483.2,663.9 L479.4,666.2 Z" fill="#666666"/>
<line x1="505.8" y1="668.8" x2="501.8" y2="666" stroke="#666666" stroke-width="1.4"/>
<path d="M498.4,663.6 L503.1,664.2 L500.5,667.8 Z" fill="#666666"/>
<line x1="526.2" y1="664.6" x2="522.1" y2="666.3" stroke="#666666" stroke-width="1.4"/>
<path d="M518.2,667.8 L521.2,664.2 L522.9,668.3 Z" fill="#666666"/>
<line x1="545.1" y1="661.8" x2="541.8" y2="667" stroke="#666666" stroke-width="1.4"/>
<path d="M539.5,670.6 L539.9,665.8 L543.6,668.2 Z" fill="#666666"/>
<line x1="564.4" y1="660.4" x2="561.8" y2="668.1" stroke="#666666" stroke-width="1.4"/>
<path d="M560.4,672 L559.7,667.3 L563.8,668.8 Z" fill="#666666"/>
<line x1="583.8" y1="659.4" x2="582" y2="668.8" stroke="#666666" stroke-width="1.4"/>
<path d="M581.2,673 L579.8,668.4 L584.2,669.2 Z" fill="#666666"/>
<line x1="603" y1="659" x2="602.4" y2="669.2" stroke="#666666" stroke-width="1.4"/>
<path d="M602.2,673.4 L600.2,669.1 L604.6,669.4 Z" fill="#666666"/>
<line x1="621.8" y1="659" x2="623.1" y2="669.2" stroke="#666666" stroke-width="1.4"/>
<path d="M623.6,673.4 L620.9,669.5 L625.3,668.9 Z" fill="#666666"/>
<line x1="640.5" y1="659.7" x2="643.7" y2="668.8" stroke="#666666" stroke-width="1.4"/>
<path d="M645.1,672.7 L641.6,669.5 L645.8,668 Z" fill="#666666"/>
<line x1="659.5" y1="660.8" x2="664" y2="668" stroke="#666666" stroke-width="1.4"/>
<path d="M666.3,671.6 L662.2,669.2 L665.9,666.8 Z" fill="#666666"/>
<line x1="678.7" y1="662.7" x2="684.1" y2="667.1" stroke="#666666" stroke-width="1.4"/>
<path d="M687.3,669.7 L682.7,668.8 L685.5,665.4 Z" fill="#666666"/>
<line x1="698" y1="665.5" x2="704" y2="666.3" stroke="#666666" stroke-width="1.4"/>
<path d="M708.2,666.9 L703.7,668.5 L704.3,664.1 Z" fill="#666666"/>
<line x1="718.4" y1="668.7" x2="724.3" y2="665.6" stroke="#666666" stroke-width="1.4"/>
<path d="M728,663.7 L725.3,667.6 L723.2,663.7 Z" fill="#666666"/>
<line x1="739.2" y1="670.8" x2="744.6" y2="664.7" stroke="#666666" stroke-width="1.4"/>
<path d="M747.4,661.6 L746.3,666.2 L743,663.2 Z" fill="#666666"/>
<line x1="759.7" y1="672.1" x2="764.9" y2="663.8" stroke="#666666" stroke-width="1.4"/>
<path d="M767.1,660.3 L766.8,665 L763,662.6 Z" fill="#666666"/>
<line x1="779.9" y1="672.9" x2="785.1" y2="663.2" stroke="#666666" stroke-width="1.4"/>
<path d="M787.1,659.5 L787,664.2 L783.1,662.2 Z" fill="#666666"/>
<line x1="800.1" y1="673.1" x2="805.2" y2="663" stroke="#666666" stroke-width="1.4"/>
<path d="M807.1,659.3 L807.2,664 L803.2,662 Z" fill="#666666"/>
<path d="M468.8,587.9 C480,588 490,591.5 500.8,590.6 C512,589.8 520,589.4 528,589.2 C540,589 548,589 555.2,588.5 C563,588 569,586.3 575.6,585.1 C583,583.8 590,583.2 596,582.4 C606,581 614,579 623.1,577.7" stroke="#9a2ee6" stroke-width="3.4" fill="none" stroke-linecap="round"/>
<path d="M468.8,611.7 C480,611.5 490,609.3 500.8,609 C512,608.8 520,611 528,611 C540,611 550,610 557.9,610.3 C565,610.6 570,611.6 575.6,613 C583,614.6 590,616 596,617.1 C606,619 615,621.5 624.5,623.2" stroke="#9a2ee6" stroke-width="3.4" fill="none" stroke-linecap="round"/>
<line x1="469.8" y1="587.9" x2="469.8" y2="571.3" stroke="#ff2a2a" stroke-width="0.9"/><line x1="467.8" y1="587.9" x2="467.8" y2="571.3" stroke="#ff2a2a" stroke-width="0.9"/><path d="M468.8,564.8 L471.4,571.3 L466.2,571.3 Z" fill="#ff8080" stroke="#ff2a2a" stroke-width="0.9"/>
<line x1="469.8" y1="611.7" x2="469.8" y2="595.7" stroke="#ff2a2a" stroke-width="0.9"/><line x1="467.8" y1="611.7" x2="467.8" y2="595.7" stroke="#ff2a2a" stroke-width="0.9"/><path d="M468.8,589.2 L471.4,595.7 L466.2,595.7 Z" fill="#ff8080" stroke="#ff2a2a" stroke-width="0.9"/>
<line x1="541.9" y1="590.6" x2="542.4" y2="606.5" stroke="#ff2a2a" stroke-width="0.9"/><line x1="543.9" y1="590.6" x2="544.4" y2="606.5" stroke="#ff2a2a" stroke-width="0.9"/><path d="M543.6,613 L540.8,606.6 L546,606.4 Z" fill="#ff8080" stroke="#ff2a2a" stroke-width="0.9"/>
<line x1="542.6" y1="611.7" x2="543.1" y2="627.6" stroke="#ff2a2a" stroke-width="0.9"/><line x1="544.6" y1="611.7" x2="545.1" y2="627.6" stroke="#ff2a2a" stroke-width="0.9"/><path d="M544.3,634.1 L541.5,627.7 L546.7,627.5 Z" fill="#ff8080" stroke="#ff2a2a" stroke-width="0.9"/>
<line x1="573.8" y1="586.6" x2="575.3" y2="571.4" stroke="#ff2a2a" stroke-width="0.9"/><line x1="571.8" y1="586.4" x2="573.3" y2="571.2" stroke="#ff2a2a" stroke-width="0.9"/><path d="M574.9,564.8 L576.9,571.5 L571.7,571 Z" fill="#ff8080" stroke="#ff2a2a" stroke-width="0.9"/>
<line x1="496.7" y1="590.6" x2="498.6" y2="604.4" stroke="#e8101c" stroke-width="2"/><path d="M499.4,610.3 L495.6,604.8 L501.6,603.9 Z" fill="#e8101c"/>
<line x1="497.4" y1="610.3" x2="495.9" y2="626" stroke="#e8101c" stroke-width="2"/><path d="M495.3,632 L492.9,625.7 L498.9,626.3 Z" fill="#e8101c"/>
<line x1="512.3" y1="590.6" x2="513.6" y2="580.3" stroke="#e8101c" stroke-width="2"/><path d="M514.4,574.3 L516.6,580.6 L510.7,579.9 Z" fill="#e8101c"/>
<line x1="513.7" y1="610.3" x2="512.5" y2="600.7" stroke="#e8101c" stroke-width="2"/><path d="M511.7,594.7 L515.4,600.3 L509.5,601 Z" fill="#e8101c"/>
<line x1="575.6" y1="613" x2="572.1" y2="597.8" stroke="#e8101c" stroke-width="2"/><path d="M570.8,592 L575.1,597.2 L569.2,598.5 Z" fill="#e8101c"/>
<line x1="590.5" y1="617.1" x2="589.2" y2="605.4" stroke="#e8101c" stroke-width="2"/><path d="M588.5,599.4 L592.2,605 L586.2,605.7 Z" fill="#e8101c"/>
<line x1="606.8" y1="621" x2="608.4" y2="616" stroke="#e8101c" stroke-width="2"/><path d="M610.2,610.3 L611.2,616.9 L605.5,615.1 Z" fill="#e8101c"/>
<line x1="528" y1="590" x2="528" y2="588.5" stroke="#e8101c" stroke-width="3.2"/><path d="M528,582.5 L531.2,588.5 L524.8,588.5 Z" fill="#e8101c"/>
<line x1="528" y1="611" x2="528" y2="609.5" stroke="#e8101c" stroke-width="3.2"/><path d="M528,603.5 L531.2,609.5 L524.8,609.5 Z" fill="#e8101c"/>
<line x1="586.4" y1="584" x2="586.4" y2="582.5" stroke="#e8101c" stroke-width="3.2"/><path d="M586.4,576.5 L589.6,582.5 L583.2,582.5 Z" fill="#e8101c"/>
<circle cx="483.1" cy="587.9" r="2.8" fill="#e8101c"/>
<circle cx="481.8" cy="611.7" r="2.8" fill="#e8101c"/>
<circle cx="559.2" cy="611" r="2.8" fill="#e8101c"/>
<circle cx="558.6" cy="587.2" r="2.6" fill="#ff8a8a" stroke="#e8101c" stroke-width="1.1"/>
<circle cx="597.3" cy="583.1" r="2.6" fill="#ff8a8a" stroke="#e8101c" stroke-width="1.1"/>
<line x1="416.6" y1="686" x2="416.6" y2="494" stroke="#000" stroke-width="2"/>
<path d="M416.6,486 L411.6,497 L416.6,494.5 L421.6,497 Z" fill="#000"/>
<line x1="373" y1="685.8" x2="840" y2="685.8" stroke="#000" stroke-width="2"/>
<path d="M849.5,685.8 L836,679.8 L839.5,685.8 L836,691.8 Z" fill="#000"/>
<line x1="463" y1="488.3" x2="683" y2="488.3" stroke="#000" stroke-width="2"/>
<path d="M693.5,488.3 L680,482 L683.5,488.3 L680,494.6 Z" fill="#000"/>
<text x="436" y="495" font-size="23" font-style="italic">φ<tspan font-size="15" dy="4">i</tspan></text>
<text x="698" y="495" font-size="23" font-style="italic">φ<tspan font-size="15" dy="4">f</tspan></text>
<text x="412.5" y="554.5" font-size="22.5" text-anchor="end">0.5</text>
<text x="412.5" y="612" font-size="22.5" text-anchor="end">0</text>
<text x="412.5" y="668.5" font-size="22.5" text-anchor="end">-0.5</text>
<text x="419" y="712" font-size="22.5" text-anchor="middle"><tspan font-style="italic">π</tspan></text>
<text x="511.4" y="712" font-size="22.5" text-anchor="middle">0.5<tspan font-style="italic">π</tspan></text>
<text x="613.4" y="712" font-size="22.5" text-anchor="middle">0</text>
<text x="716.5" y="712" font-size="22.5" text-anchor="middle">−0.5<tspan font-style="italic">π</tspan></text>
<text x="797.3" y="712" font-size="22.5" text-anchor="middle">−<tspan font-style="italic">π</tspan></text>
<text x="613.7" y="735.5" font-size="23" font-style="italic" text-anchor="middle">φ</text>
<text transform="translate(384.5,600) rotate(-90)" font-size="22.5" text-anchor="middle"><tspan font-style="italic">x</tspan>(<tspan font-style="italic" dx="0.5">λ</tspan><tspan font-size="16.5" dy="3" dx="0.5">0</tspan><tspan dy="-3">)</tspan></text>
<text x="575.5" y="408.9" font-size="23" text-anchor="middle">SP structure evolution</text>
<circle cx="487.6" cy="446" r="22.8" fill="url(#sc1)"/>
<circle cx="544" cy="446" r="21.5" fill="url(#sc2)"/>
<circle cx="544" cy="446" r="21.8" fill="url(#sc2e)"/>
<g clip-path="url(#cs3)"><g filter="url(#sblur)"><path d="M602.3,446.0 L605.8,446.0 L605.8,446.6 L602.3,446.0Z" fill="#4effb0"/><path d="M602.3,446.0 L605.8,446.5 L605.6,447.1 L602.3,446.0Z" fill="#56ffa8"/><path d="M602.3,446.0 L605.6,447.0 L605.4,447.6 L602.3,446.0Z" fill="#5dffa1"/><path d="M602.3,446.0 L605.4,447.6 L605.1,448.1 L602.3,446.0Z" fill="#63ff9b"/><path d="M602.3,446.0 L605.2,448.0 L604.7,448.5 L602.3,446.0Z" fill="#68ff96"/><path d="M602.3,446.0 L604.8,448.4 L604.3,448.9 L602.3,446.0Z" fill="#6bff93"/><path d="M602.3,446.0 L604.4,448.8 L603.9,449.1 L602.3,446.0Z" fill="#6dff91"/><path d="M602.3,446.0 L603.9,449.1 L603.3,449.3 L602.3,446.0Z" fill="#6dff91"/><path d="M602.3,446.0 L603.4,449.3 L602.8,449.5 L602.3,446.0Z" fill="#6cff92"/><path d="M602.3,446.0 L602.9,449.5 L602.3,449.5 L602.3,446.0Z" fill="#69ff95"/><path d="M602.3,446.0 L602.3,449.5 L601.7,449.5 L602.3,446.0Z" fill="#64ff9a"/><path d="M602.3,446.0 L601.8,449.5 L601.2,449.3 L602.3,446.0Z" fill="#5effa0"/><path d="M602.3,446.0 L601.3,449.3 L600.7,449.1 L602.3,446.0Z" fill="#57ffa7"/><path d="M602.3,446.0 L600.7,449.1 L600.2,448.8 L602.3,446.0Z" fill="#4fffaf"/><path d="M602.3,446.0 L600.3,448.9 L599.8,448.4 L602.3,446.0Z" fill="#46ffb8"/><path d="M602.3,446.0 L599.9,448.5 L599.4,448.0 L602.3,446.0Z" fill="#3dffc1"/><path d="M602.3,446.0 L599.5,448.1 L599.2,447.6 L602.3,446.0Z" fill="#33ffcb"/><path d="M602.3,446.0 L599.2,447.6 L599.0,447.0 L602.3,446.0Z" fill="#28ffd6"/><path d="M602.3,446.0 L599.0,447.1 L598.8,446.5 L602.3,446.0Z" fill="#1effe0"/><path d="M602.3,446.0 L598.8,446.6 L598.8,446.0 L602.3,446.0Z" fill="#15ffe9"/><path d="M602.3,446.0 L598.8,446.0 L598.8,445.4 L602.3,446.0Z" fill="#0cfff2"/><path d="M602.3,446.0 L598.8,445.5 L599.0,444.9 L602.3,446.0Z" fill="#04fffa"/><path d="M602.3,446.0 L599.0,445.0 L599.2,444.4 L602.3,446.0Z" fill="#00fbff"/><path d="M602.3,446.0 L599.2,444.4 L599.5,443.9 L602.3,446.0Z" fill="#00f5ff"/><path d="M602.3,446.0 L599.4,444.0 L599.9,443.5 L602.3,446.0Z" fill="#00f1ff"/><path d="M602.3,446.0 L599.8,443.6 L600.3,443.1 L602.3,446.0Z" fill="#00edff"/><path d="M602.3,446.0 L600.2,443.2 L600.7,442.9 L602.3,446.0Z" fill="#00ecff"/><path d="M602.3,446.0 L600.7,442.9 L601.3,442.7 L602.3,446.0Z" fill="#00ecff"/><path d="M602.3,446.0 L601.2,442.7 L601.8,442.5 L602.3,446.0Z" fill="#00edff"/><path d="M602.3,446.0 L601.7,442.5 L602.3,442.5 L602.3,446.0Z" fill="#00f0ff"/><path d="M602.3,446.0 L602.3,442.5 L602.9,442.5 L602.3,446.0Z" fill="#00f5ff"/><path d="M602.3,446.0 L602.8,442.5 L603.4,442.7 L602.3,446.0Z" fill="#00faff"/><path d="M602.3,446.0 L603.3,442.7 L603.9,442.9 L602.3,446.0Z" fill="#02fffc"/><path d="M602.3,446.0 L603.9,442.9 L604.4,443.2 L602.3,446.0Z" fill="#0bfff3"/><path d="M602.3,446.0 L604.3,443.1 L604.8,443.6 L602.3,446.0Z" fill="#14ffea"/><path d="M602.3,446.0 L604.7,443.5 L605.2,444.0 L602.3,446.0Z" fill="#1dffe1"/><path d="M602.3,446.0 L605.1,443.9 L605.4,444.4 L602.3,446.0Z" fill="#27ffd7"/><path d="M602.3,446.0 L605.4,444.4 L605.6,445.0 L602.3,446.0Z" fill="#31ffcd"/><path d="M602.3,446.0 L605.6,444.9 L605.8,445.5 L602.3,446.0Z" fill="#3bffc3"/><path d="M602.3,446.0 L605.8,445.4 L605.8,446.0 L602.3,446.0Z" fill="#45ffb9"/><path d="M605.8,446.0 L609.3,445.9 L609.2,447.2 L605.8,446.6Z" fill="#4cffb2"/><path d="M605.8,446.5 L609.2,447.0 L608.9,448.2 L605.6,447.1Z" fill="#62ff9c"/><path d="M605.6,447.0 L609.0,448.1 L608.5,449.3 L605.4,447.6Z" fill="#77ff87"/><path d="M605.4,447.6 L608.6,449.1 L607.9,450.2 L605.1,448.1Z" fill="#8cff72"/><path d="M605.2,448.0 L608.0,450.0 L607.2,451.0 L604.7,448.5Z" fill="#a0ff5e"/><path d="M604.8,448.4 L607.3,450.9 L606.3,451.7 L604.3,448.9Z" fill="#b2ff4c"/><path d="M604.4,448.8 L606.5,451.6 L605.4,452.3 L603.9,449.1Z" fill="#c2ff3c"/><path d="M603.9,449.1 L605.6,452.2 L604.4,452.7 L603.3,449.3Z" fill="#cfff2f"/><path d="M603.4,449.3 L604.5,452.6 L603.3,452.9 L602.8,449.5Z" fill="#daff24"/><path d="M602.9,449.5 L603.5,452.9 L602.2,453.0 L602.3,449.5Z" fill="#e1ff1d"/><path d="M602.3,449.5 L602.4,453.0 L601.1,452.9 L601.7,449.5Z" fill="#e5ff19"/><path d="M601.8,449.5 L601.3,452.9 L600.1,452.6 L601.2,449.3Z" fill="#e6ff18"/><path d="M601.3,449.3 L600.2,452.7 L599.0,452.2 L600.7,449.1Z" fill="#e3ff1b"/><path d="M600.7,449.1 L599.2,452.3 L598.1,451.6 L600.2,448.8Z" fill="#ddff21"/><path d="M600.3,448.9 L598.3,451.7 L597.3,450.9 L599.8,448.4Z" fill="#d4ff2a"/><path d="M599.9,448.5 L597.4,451.0 L596.6,450.0 L599.4,448.0Z" fill="#c8ff36"/><path d="M599.5,448.1 L596.7,450.2 L596.0,449.1 L599.2,447.6Z" fill="#b9ff45"/><path d="M599.2,447.6 L596.1,449.3 L595.6,448.1 L599.0,447.0Z" fill="#a8ff56"/><path d="M599.0,447.1 L595.7,448.2 L595.4,447.0 L598.8,446.5Z" fill="#95ff69"/><path d="M598.8,446.6 L595.4,447.2 L595.3,445.9 L598.8,446.0Z" fill="#80ff7e"/><path d="M598.8,446.0 L595.3,446.1 L595.4,444.8 L598.8,445.4Z" fill="#6bff93"/><path d="M598.8,445.5 L595.4,445.0 L595.7,443.8 L599.0,444.9Z" fill="#55ffa9"/><path d="M599.0,445.0 L595.6,443.9 L596.1,442.7 L599.2,444.4Z" fill="#40ffbe"/><path d="M599.2,444.4 L596.0,442.9 L596.7,441.8 L599.5,443.9Z" fill="#2bffd3"/><path d="M599.4,444.0 L596.6,442.0 L597.4,441.0 L599.9,443.5Z" fill="#17ffe7"/><path d="M599.8,443.6 L597.3,441.1 L598.3,440.3 L600.3,443.1Z" fill="#05fff9"/><path d="M600.2,443.2 L598.1,440.4 L599.2,439.7 L600.7,442.9Z" fill="#00f4ff"/><path d="M600.7,442.9 L599.0,439.8 L600.2,439.3 L601.3,442.7Z" fill="#00e7ff"/><path d="M601.2,442.7 L600.1,439.4 L601.3,439.1 L601.8,442.5Z" fill="#00dcff"/><path d="M601.7,442.5 L601.1,439.1 L602.4,439.0 L602.3,442.5Z" fill="#00d5ff"/><path d="M602.3,442.5 L602.2,439.0 L603.5,439.1 L602.9,442.5Z" fill="#00d0ff"/><path d="M602.8,442.5 L603.3,439.1 L604.5,439.4 L603.4,442.7Z" fill="#00d0ff"/><path d="M603.3,442.7 L604.4,439.3 L605.6,439.8 L603.9,442.9Z" fill="#00d2ff"/><path d="M603.9,442.9 L605.4,439.7 L606.5,440.4 L604.4,443.2Z" fill="#00d8ff"/><path d="M604.3,443.1 L606.3,440.3 L607.3,441.1 L604.8,443.6Z" fill="#00e2ff"/><path d="M604.7,443.5 L607.2,441.0 L608.0,442.0 L605.2,444.0Z" fill="#00eeff"/><path d="M605.1,443.9 L607.9,441.8 L608.6,442.9 L605.4,444.4Z" fill="#00fdff"/><path d="M605.4,444.4 L608.5,442.7 L609.0,443.9 L605.6,445.0Z" fill="#0fffef"/><path d="M605.6,444.9 L608.9,443.8 L609.2,445.0 L605.8,445.5Z" fill="#22ffdc"/><path d="M605.8,445.4 L609.2,444.8 L609.3,446.1 L605.8,446.0Z" fill="#36ffc8"/><path d="M609.3,445.9 L612.8,445.9 L612.7,447.8 L609.2,447.2Z" fill="#00f6ff"/><path d="M609.2,447.0 L612.7,447.5 L612.2,449.4 L608.9,448.2Z" fill="#10ffee"/><path d="M609.0,448.1 L612.3,449.1 L611.6,450.9 L608.5,449.3Z" fill="#2bffd3"/><path d="M608.6,449.1 L611.7,450.7 L610.7,452.3 L607.9,450.2Z" fill="#48ffb6"/><path d="M608.0,450.0 L610.9,452.1 L609.6,453.5 L607.2,451.0Z" fill="#66ff98"/><path d="M607.3,450.9 L609.8,453.3 L608.4,454.6 L606.3,451.7Z" fill="#85ff79"/><path d="M606.5,451.6 L608.6,454.4 L607.0,455.4 L605.4,452.3Z" fill="#a4ff5a"/><path d="M605.6,452.2 L607.2,455.3 L605.4,456.0 L604.4,452.7Z" fill="#c2ff3c"/><path d="M604.5,452.6 L605.7,455.9 L603.8,456.4 L603.3,452.9Z" fill="#dfff1f"/><path d="M603.5,452.9 L604.1,456.4 L602.2,456.5 L602.2,453.0Z" fill="#f9ff05"/><path d="M602.4,453.0 L602.4,456.5 L600.5,456.4 L601.1,452.9Z" fill="#ffed00"/><path d="M601.3,452.9 L600.8,456.4 L598.9,455.9 L600.1,452.6Z" fill="#ffd900"/><path d="M600.2,452.7 L599.2,456.0 L597.4,455.3 L599.0,452.2Z" fill="#ffca00"/><path d="M599.2,452.3 L597.6,455.4 L596.0,454.4 L598.1,451.6Z" fill="#ffbe00"/><path d="M598.3,451.7 L596.2,454.6 L594.8,453.3 L597.3,450.9Z" fill="#ffb800"/><path d="M597.4,451.0 L595.0,453.5 L593.7,452.1 L596.6,450.0Z" fill="#ffb600"/><path d="M596.7,450.2 L593.9,452.3 L592.9,450.7 L596.0,449.1Z" fill="#ffb900"/><path d="M596.1,449.3 L593.0,450.9 L592.3,449.1 L595.6,448.1Z" fill="#ffc100"/><path d="M595.7,448.2 L592.4,449.4 L591.9,447.5 L595.4,447.0Z" fill="#ffce00"/><path d="M595.4,447.2 L591.9,447.8 L591.8,445.9 L595.3,445.9Z" fill="#ffde00"/><path d="M595.3,446.1 L591.8,446.1 L591.9,444.2 L595.4,444.8Z" fill="#fff300"/><path d="M595.4,445.0 L591.9,444.5 L592.4,442.6 L595.7,443.8Z" fill="#f2ff0c"/><path d="M595.6,443.9 L592.3,442.9 L593.0,441.1 L596.1,442.7Z" fill="#d7ff27"/><path d="M596.0,442.9 L592.9,441.3 L593.9,439.7 L596.7,441.8Z" fill="#baff44"/><path d="M596.6,442.0 L593.7,439.9 L595.0,438.5 L597.4,441.0Z" fill="#9bff63"/><path d="M597.3,441.1 L594.8,438.7 L596.2,437.4 L598.3,440.3Z" fill="#7cff82"/><path d="M598.1,440.4 L596.0,437.6 L597.6,436.6 L599.2,439.7Z" fill="#5dffa1"/><path d="M599.0,439.8 L597.4,436.7 L599.2,436.0 L600.2,439.3Z" fill="#3fffbf"/><path d="M600.1,439.4 L598.9,436.1 L600.8,435.6 L601.3,439.1Z" fill="#23ffdb"/><path d="M601.1,439.1 L600.5,435.6 L602.4,435.5 L602.4,439.0Z" fill="#08fff6"/><path d="M602.2,439.0 L602.2,435.5 L604.1,435.6 L603.5,439.1Z" fill="#00f0ff"/><path d="M603.3,439.1 L603.8,435.6 L605.7,436.1 L604.5,439.4Z" fill="#00ddff"/><path d="M604.4,439.3 L605.4,436.0 L607.2,436.7 L605.6,439.8Z" fill="#00cdff"/><path d="M605.4,439.7 L607.0,436.6 L608.6,437.6 L606.5,440.4Z" fill="#00c2ff"/><path d="M606.3,440.3 L608.4,437.4 L609.8,438.7 L607.3,441.1Z" fill="#00bbff"/><path d="M607.2,441.0 L609.6,438.5 L610.9,439.9 L608.0,442.0Z" fill="#00b9ff"/><path d="M607.9,441.8 L610.7,439.7 L611.7,441.3 L608.6,442.9Z" fill="#00bcff"/><path d="M608.5,442.7 L611.6,441.1 L612.3,442.9 L609.0,443.9Z" fill="#00c4ff"/><path d="M608.9,443.8 L612.2,442.6 L612.7,444.5 L609.2,445.0Z" fill="#00d1ff"/><path d="M609.2,444.8 L612.7,444.2 L612.8,446.1 L609.3,446.1Z" fill="#00e2ff"/><path d="M612.8,445.9 L616.3,445.8 L616.1,448.4 L612.7,447.8Z" fill="#00a9ff"/><path d="M612.7,447.5 L616.2,448.0 L615.6,450.5 L612.2,449.4Z" fill="#00b2ff"/><path d="M612.3,449.1 L615.7,450.2 L614.7,452.5 L611.6,450.9Z" fill="#00c1ff"/><path d="M611.7,450.7 L614.8,452.2 L613.5,454.4 L610.7,452.3Z" fill="#00d5ff"/><path d="M610.9,452.1 L613.7,454.1 L612.1,456.0 L609.6,453.5Z" fill="#00efff"/><path d="M609.8,453.3 L612.3,455.8 L610.4,457.4 L608.4,454.6Z" fill="#0efff0"/><path d="M608.6,454.4 L610.7,457.2 L608.5,458.5 L607.0,455.4Z" fill="#30ffce"/><path d="M607.2,455.3 L608.8,458.4 L606.5,459.4 L605.4,456.0Z" fill="#54ffaa"/><path d="M605.7,455.9 L606.8,459.3 L604.3,459.9 L603.8,456.4Z" fill="#7aff84"/><path d="M604.1,456.4 L604.7,459.8 L602.1,460.0 L602.2,456.5Z" fill="#a2ff5c"/><path d="M602.4,456.5 L602.5,460.0 L599.9,459.8 L600.5,456.4Z" fill="#c9ff35"/><path d="M600.8,456.4 L600.3,459.9 L597.8,459.3 L598.9,455.9Z" fill="#efff0f"/><path d="M599.2,456.0 L598.1,459.4 L595.8,458.4 L597.4,455.3Z" fill="#ffe900"/><path d="M597.6,455.4 L596.1,458.5 L593.9,457.2 L596.0,454.4Z" fill="#ffc800"/><path d="M596.2,454.6 L594.2,457.4 L592.3,455.8 L594.8,453.3Z" fill="#ffaa00"/><path d="M595.0,453.5 L592.5,456.0 L590.9,454.1 L593.7,452.1Z" fill="#ff9000"/><path d="M593.9,452.3 L591.1,454.4 L589.8,452.2 L592.9,450.7Z" fill="#ff7c00"/><path d="M593.0,450.9 L589.9,452.5 L588.9,450.2 L592.3,449.1Z" fill="#ff6d00"/><path d="M592.4,449.4 L589.0,450.5 L588.4,448.0 L591.9,447.5Z" fill="#ff6300"/><path d="M591.9,447.8 L588.5,448.4 L588.3,445.8 L591.8,445.9Z" fill="#ff6000"/><path d="M591.8,446.1 L588.3,446.2 L588.5,443.6 L591.9,444.2Z" fill="#ff6300"/><path d="M591.9,444.5 L588.4,444.0 L589.0,441.5 L592.4,442.6Z" fill="#ff6d00"/><path d="M592.3,442.9 L588.9,441.8 L589.9,439.5 L593.0,441.1Z" fill="#ff7c00"/><path d="M592.9,441.3 L589.8,439.8 L591.1,437.6 L593.9,439.7Z" fill="#ff9000"/><path d="M593.7,439.9 L590.9,437.9 L592.5,436.0 L595.0,438.5Z" fill="#ffaa00"/><path d="M594.8,438.7 L592.3,436.2 L594.2,434.6 L596.2,437.4Z" fill="#ffc800"/><path d="M596.0,437.6 L593.9,434.8 L596.1,433.5 L597.6,436.6Z" fill="#ffe900"/><path d="M597.4,436.7 L595.8,433.6 L598.1,432.6 L599.2,436.0Z" fill="#efff0f"/><path d="M598.9,436.1 L597.8,432.7 L600.3,432.1 L600.8,435.6Z" fill="#c9ff35"/><path d="M600.5,435.6 L599.9,432.2 L602.5,432.0 L602.4,435.5Z" fill="#a2ff5c"/><path d="M602.2,435.5 L602.1,432.0 L604.7,432.2 L604.1,435.6Z" fill="#7aff84"/><path d="M603.8,435.6 L604.3,432.1 L606.8,432.7 L605.7,436.1Z" fill="#54ffaa"/><path d="M605.4,436.0 L606.5,432.6 L608.8,433.6 L607.2,436.7Z" fill="#30ffce"/><path d="M607.0,436.6 L608.5,433.5 L610.7,434.8 L608.6,437.6Z" fill="#0efff0"/><path d="M608.4,437.4 L610.4,434.6 L612.3,436.2 L609.8,438.7Z" fill="#00efff"/><path d="M609.6,438.5 L612.1,436.0 L613.7,437.9 L610.9,439.9Z" fill="#00d5ff"/><path d="M610.7,439.7 L613.5,437.6 L614.8,439.8 L611.7,441.3Z" fill="#00c1ff"/><path d="M611.6,441.1 L614.7,439.5 L615.7,441.8 L612.3,442.9Z" fill="#00b2ff"/><path d="M612.2,442.6 L615.6,441.5 L616.2,444.0 L612.7,444.5Z" fill="#00a9ff"/><path d="M612.7,444.2 L616.1,443.6 L616.3,446.2 L612.8,446.1Z" fill="#00a5ff"/><path d="M616.3,445.8 L619.8,445.8 L619.6,448.9 L616.1,448.4Z" fill="#00b7ff"/><path d="M616.2,448.0 L619.6,448.5 L618.9,451.6 L615.6,450.5Z" fill="#00a4ff"/><path d="M615.7,450.2 L619.0,451.2 L617.8,454.1 L614.7,452.5Z" fill="#0098ff"/><path d="M614.8,452.2 L618.0,453.8 L616.3,456.5 L613.5,454.4Z" fill="#0093ff"/><path d="M613.7,454.1 L616.6,456.1 L614.5,458.5 L612.1,456.0Z" fill="#0096ff"/><path d="M612.3,455.8 L614.8,458.2 L612.4,460.3 L610.4,457.4Z" fill="#00a0ff"/><path d="M610.7,457.2 L612.8,460.0 L610.1,461.7 L608.5,458.5Z" fill="#00b1ff"/><path d="M608.8,458.4 L610.4,461.5 L607.5,462.7 L606.5,459.4Z" fill="#00c9ff"/><path d="M606.8,459.3 L607.9,462.6 L604.8,463.3 L604.3,459.9Z" fill="#00e6ff"/><path d="M604.7,459.8 L605.2,463.3 L602.1,463.5 L602.1,460.0Z" fill="#0afff4"/><path d="M602.5,460.0 L602.5,463.5 L599.4,463.3 L599.9,459.8Z" fill="#32ffcc"/><path d="M600.3,459.9 L599.8,463.3 L596.7,462.6 L597.8,459.3Z" fill="#5dffa1"/><path d="M598.1,459.4 L597.1,462.7 L594.2,461.5 L595.8,458.4Z" fill="#8aff74"/><path d="M596.1,458.5 L594.5,461.7 L591.8,460.0 L593.9,457.2Z" fill="#b9ff45"/><path d="M594.2,457.4 L592.2,460.3 L589.8,458.2 L592.3,455.8Z" fill="#e8ff16"/><path d="M592.5,456.0 L590.1,458.5 L588.0,456.1 L590.9,454.1Z" fill="#ffe700"/><path d="M591.1,454.4 L588.3,456.5 L586.6,453.8 L589.8,452.2Z" fill="#ffbb00"/><path d="M589.9,452.5 L586.8,454.1 L585.6,451.2 L588.9,450.2Z" fill="#ff9300"/><path d="M589.0,450.5 L585.7,451.6 L585.0,448.5 L588.4,448.0Z" fill="#ff6e00"/><path d="M588.5,448.4 L585.0,448.9 L584.8,445.8 L588.3,445.8Z" fill="#ff4f00"/><path d="M588.3,446.2 L584.8,446.2 L585.0,443.1 L588.5,443.6Z" fill="#ff3600"/><path d="M588.4,444.0 L585.0,443.5 L585.7,440.4 L589.0,441.5Z" fill="#ff2300"/><path d="M588.9,441.8 L585.6,440.8 L586.8,437.9 L589.9,439.5Z" fill="#ff1700"/><path d="M589.8,439.8 L586.6,438.2 L588.3,435.5 L591.1,437.6Z" fill="#ff1200"/><path d="M590.9,437.9 L588.0,435.9 L590.1,433.5 L592.5,436.0Z" fill="#ff1400"/><path d="M592.3,436.2 L589.8,433.8 L592.2,431.7 L594.2,434.6Z" fill="#ff1e00"/><path d="M593.9,434.8 L591.8,432.0 L594.5,430.3 L596.1,433.5Z" fill="#ff2f00"/><path d="M595.8,433.6 L594.2,430.5 L597.1,429.3 L598.1,432.6Z" fill="#ff4700"/><path d="M597.8,432.7 L596.7,429.4 L599.8,428.7 L600.3,432.1Z" fill="#ff6500"/><path d="M599.9,432.2 L599.4,428.7 L602.5,428.5 L602.5,432.0Z" fill="#ff8800"/><path d="M602.1,432.0 L602.1,428.5 L605.2,428.7 L604.7,432.2Z" fill="#ffaf00"/><path d="M604.3,432.1 L604.8,428.7 L607.9,429.4 L606.8,432.7Z" fill="#ffda00"/><path d="M606.5,432.6 L607.5,429.3 L610.4,430.5 L608.8,433.6Z" fill="#f5ff09"/><path d="M608.5,433.5 L610.1,430.3 L612.8,432.0 L610.7,434.8Z" fill="#c6ff38"/><path d="M610.4,434.6 L612.4,431.7 L614.8,433.8 L612.3,436.2Z" fill="#98ff66"/><path d="M612.1,436.0 L614.5,433.5 L616.6,435.9 L613.7,437.9Z" fill="#6aff94"/><path d="M613.5,437.6 L616.3,435.5 L618.0,438.2 L614.8,439.8Z" fill="#3effc0"/><path d="M614.7,439.5 L617.8,437.9 L619.0,440.8 L615.7,441.8Z" fill="#15ffe9"/><path d="M615.6,441.5 L618.9,440.4 L619.6,443.5 L616.2,444.0Z" fill="#00f0ff"/><path d="M616.1,443.6 L619.6,443.1 L619.8,446.2 L616.3,446.2Z" fill="#00d1ff"/><path d="M619.8,445.8 L623.3,445.7 L623.0,449.5 L619.6,448.9Z" fill="#4dffb1"/><path d="M619.6,448.5 L623.1,449.0 L622.2,452.7 L618.9,451.6Z" fill="#1effe0"/><path d="M619.0,451.2 L622.3,452.2 L620.9,455.8 L617.8,454.1Z" fill="#00f2ff"/><path d="M618.0,453.8 L621.1,455.3 L619.1,458.5 L616.3,456.5Z" fill="#00ceff"/><path d="M616.6,456.1 L619.4,458.1 L617.0,461.0 L614.5,458.5Z" fill="#00afff"/><path d="M614.8,458.2 L617.3,460.7 L614.4,463.1 L612.4,460.3Z" fill="#0098ff"/><path d="M612.8,460.0 L614.8,462.8 L611.6,464.8 L610.1,461.7Z" fill="#0089ff"/><path d="M610.4,461.5 L612.1,464.6 L608.5,466.0 L607.5,462.7Z" fill="#0083ff"/><path d="M607.9,462.6 L609.0,465.9 L605.3,466.8 L604.8,463.3Z" fill="#0085ff"/><path d="M605.2,463.3 L605.8,466.7 L602.0,467.0 L602.1,463.5Z" fill="#008fff"/><path d="M602.5,463.5 L602.6,467.0 L598.8,466.7 L599.4,463.3Z" fill="#00a1ff"/><path d="M599.8,463.3 L599.3,466.8 L595.6,465.9 L596.7,462.6Z" fill="#00bbff"/><path d="M597.1,462.7 L596.1,466.0 L592.5,464.6 L594.2,461.5Z" fill="#00ddff"/><path d="M594.5,461.7 L593.0,464.8 L589.8,462.8 L591.8,460.0Z" fill="#05fff9"/><path d="M592.2,460.3 L590.2,463.1 L587.3,460.7 L589.8,458.2Z" fill="#32ffcc"/><path d="M590.1,458.5 L587.6,461.0 L585.2,458.1 L588.0,456.1Z" fill="#63ff9b"/><path d="M588.3,456.5 L585.5,458.5 L583.5,455.3 L586.6,453.8Z" fill="#97ff67"/><path d="M586.8,454.1 L583.7,455.8 L582.3,452.2 L585.6,451.2Z" fill="#cdff31"/><path d="M585.7,451.6 L582.4,452.7 L581.5,449.0 L585.0,448.5Z" fill="#fffa00"/><path d="M585.0,448.9 L581.6,449.5 L581.3,445.7 L584.8,445.8Z" fill="#ffc500"/><path d="M584.8,446.2 L581.3,446.3 L581.6,442.5 L585.0,443.1Z" fill="#ff9200"/><path d="M585.0,443.5 L581.5,443.0 L582.4,439.3 L585.7,440.4Z" fill="#ff6300"/><path d="M585.6,440.8 L582.3,439.8 L583.7,436.2 L586.8,437.9Z" fill="#ff3900"/><path d="M586.6,438.2 L583.5,436.7 L585.5,433.5 L588.3,435.5Z" fill="#ff1400"/><path d="M588.0,435.9 L585.2,433.9 L587.6,431.0 L590.1,433.5Z" fill="#f40000"/><path d="M589.8,433.8 L587.3,431.3 L590.2,428.9 L592.2,431.7Z" fill="#e50000"/><path d="M591.8,432.0 L589.8,429.2 L593.0,427.2 L594.5,430.3Z" fill="#e50000"/><path d="M594.2,430.5 L592.5,427.4 L596.1,426.0 L597.1,429.3Z" fill="#e50000"/><path d="M596.7,429.4 L595.6,426.1 L599.3,425.2 L599.8,428.7Z" fill="#e50000"/><path d="M599.4,428.7 L598.8,425.3 L602.6,425.0 L602.5,428.5Z" fill="#e50000"/><path d="M602.1,428.5 L602.0,425.0 L605.8,425.3 L605.2,428.7Z" fill="#e60000"/><path d="M604.8,428.7 L605.3,425.2 L609.0,426.1 L607.9,429.4Z" fill="#ff0100"/><path d="M607.5,429.3 L608.5,426.0 L612.1,427.4 L610.4,430.5Z" fill="#ff2300"/><path d="M610.1,430.3 L611.6,427.2 L614.8,429.2 L612.8,432.0Z" fill="#ff4a00"/><path d="M612.4,431.7 L614.4,428.9 L617.3,431.3 L614.8,433.8Z" fill="#ff7700"/><path d="M614.5,433.5 L617.0,431.0 L619.4,433.9 L616.6,435.9Z" fill="#ffa800"/><path d="M616.3,435.5 L619.1,433.5 L621.1,436.7 L618.0,438.2Z" fill="#ffdc00"/><path d="M617.8,437.9 L620.9,436.2 L622.3,439.8 L619.0,440.8Z" fill="#ebff13"/><path d="M618.9,440.4 L622.2,439.3 L623.1,443.0 L619.6,443.5Z" fill="#b5ff49"/><path d="M619.6,443.1 L623.0,442.5 L623.3,446.3 L619.8,446.2Z" fill="#80ff7e"/><path d="M623.3,445.7 L626.8,445.7 L626.5,450.1 L623.0,449.5Z" fill="#ffb000"/><path d="M623.1,449.0 L626.5,449.5 L625.5,453.8 L622.2,452.7Z" fill="#ffec00"/><path d="M622.3,452.2 L625.7,453.3 L624.0,457.4 L620.9,455.8Z" fill="#d4ff2a"/><path d="M621.1,455.3 L624.3,456.9 L621.9,460.6 L619.1,458.5Z" fill="#98ff66"/><path d="M619.4,458.1 L622.3,460.2 L619.4,463.5 L617.0,461.0Z" fill="#5effa0"/><path d="M617.3,460.7 L619.8,463.1 L616.5,466.0 L614.4,463.1Z" fill="#29ffd5"/><path d="M614.8,462.8 L616.9,465.6 L613.2,468.0 L611.6,464.8Z" fill="#00f7ff"/><path d="M612.1,464.6 L613.7,467.7 L609.6,469.4 L608.5,466.0Z" fill="#00ccff"/><path d="M609.0,465.9 L610.1,469.2 L605.8,470.2 L605.3,466.8Z" fill="#00a9ff"/><path d="M605.8,466.7 L606.4,470.2 L602.0,470.5 L602.0,467.0Z" fill="#008eff"/><path d="M602.6,467.0 L602.6,470.5 L598.2,470.2 L598.8,466.7Z" fill="#007cff"/><path d="M599.3,466.8 L598.8,470.2 L594.5,469.2 L595.6,465.9Z" fill="#0073ff"/><path d="M596.1,466.0 L595.0,469.4 L590.9,467.7 L592.5,464.6Z" fill="#0074ff"/><path d="M593.0,464.8 L591.4,468.0 L587.7,465.6 L589.8,462.8Z" fill="#007eff"/><path d="M590.2,463.1 L588.1,466.0 L584.8,463.1 L587.3,460.7Z" fill="#0092ff"/><path d="M587.6,461.0 L585.2,463.5 L582.3,460.2 L585.2,458.1Z" fill="#00aeff"/><path d="M585.5,458.5 L582.7,460.6 L580.3,456.9 L583.5,455.3Z" fill="#00d2ff"/><path d="M583.7,455.8 L580.6,457.4 L578.9,453.3 L582.3,452.2Z" fill="#00fdff"/><path d="M582.4,452.7 L579.1,453.8 L578.1,449.5 L581.5,449.0Z" fill="#30ffce"/><path d="M581.6,449.5 L578.1,450.1 L577.8,445.7 L581.3,445.7Z" fill="#66ff98"/><path d="M581.3,446.3 L577.8,446.3 L578.1,441.9 L581.6,442.5Z" fill="#a1ff5d"/><path d="M581.5,443.0 L578.1,442.5 L579.1,438.2 L582.4,439.3Z" fill="#ddff21"/><path d="M582.3,439.8 L578.9,438.7 L580.6,434.6 L583.7,436.2Z" fill="#ffe400"/><path d="M583.5,436.7 L580.3,435.1 L582.7,431.4 L585.5,433.5Z" fill="#ffa800"/><path d="M585.2,433.9 L582.3,431.8 L585.2,428.5 L587.6,431.0Z" fill="#ff6e00"/><path d="M587.3,431.3 L584.8,428.9 L588.1,426.0 L590.2,428.9Z" fill="#ff3800"/><path d="M589.8,429.2 L587.7,426.4 L591.4,424.0 L593.0,427.2Z" fill="#ff0700"/><path d="M592.5,427.4 L590.9,424.3 L595.0,422.6 L596.1,426.0Z" fill="#e50000"/><path d="M595.6,426.1 L594.5,422.8 L598.8,421.8 L599.3,425.2Z" fill="#e50000"/><path d="M598.8,425.3 L598.2,421.8 L602.6,421.5 L602.6,425.0Z" fill="#e50000"/><path d="M602.0,425.0 L602.0,421.5 L606.4,421.8 L605.8,425.3Z" fill="#e50000"/><path d="M605.3,425.2 L605.8,421.8 L610.1,422.8 L609.0,426.1Z" fill="#e50000"/><path d="M608.5,426.0 L609.6,422.6 L613.7,424.3 L612.1,427.4Z" fill="#e50000"/><path d="M611.6,427.2 L613.2,424.0 L616.9,426.4 L614.8,429.2Z" fill="#e50000"/><path d="M614.4,428.9 L616.5,426.0 L619.8,428.9 L617.3,431.3Z" fill="#e50000"/><path d="M617.0,431.0 L619.4,428.5 L622.3,431.8 L619.4,433.9Z" fill="#e50000"/><path d="M619.1,433.5 L621.9,431.4 L624.3,435.1 L621.1,436.7Z" fill="#e50000"/><path d="M620.9,436.2 L624.0,434.6 L625.7,438.7 L622.3,439.8Z" fill="#ff0e00"/><path d="M622.2,439.3 L625.5,438.2 L626.5,442.5 L623.1,443.0Z" fill="#ff4000"/><path d="M623.0,442.5 L626.5,441.9 L626.8,446.3 L623.3,446.3Z" fill="#ff7600"/></g></g>
<g clip-path="url(#cs4)"><g filter="url(#sblur)"><path d="M667.3,446.0 L670.7,446.0 L670.7,446.6 L667.3,446.0Z" fill="#65ff99"/><path d="M667.3,446.0 L670.7,446.5 L670.5,447.1 L667.3,446.0Z" fill="#66ff98"/><path d="M667.3,446.0 L670.6,447.0 L670.3,447.6 L667.3,446.0Z" fill="#65ff99"/><path d="M667.3,446.0 L670.4,447.5 L670.0,448.0 L667.3,446.0Z" fill="#62ff9c"/><path d="M667.3,446.0 L670.1,448.0 L669.7,448.5 L667.3,446.0Z" fill="#5dffa1"/><path d="M667.3,446.0 L669.8,448.4 L669.3,448.8 L667.3,446.0Z" fill="#57ffa7"/><path d="M667.3,446.0 L669.3,448.7 L668.8,449.1 L667.3,446.0Z" fill="#4fffaf"/><path d="M667.3,446.0 L668.9,449.0 L668.3,449.3 L667.3,446.0Z" fill="#46ffb8"/><path d="M667.3,446.0 L668.4,449.2 L667.8,449.4 L667.3,446.0Z" fill="#3cffc2"/><path d="M667.3,446.0 L667.9,449.4 L667.3,449.4 L667.3,446.0Z" fill="#30ffce"/><path d="M667.3,446.0 L667.3,449.4 L666.7,449.4 L667.3,446.0Z" fill="#25ffd9"/><path d="M667.3,446.0 L666.8,449.4 L666.2,449.2 L667.3,446.0Z" fill="#19ffe5"/><path d="M667.3,446.0 L666.3,449.3 L665.7,449.0 L667.3,446.0Z" fill="#0dfff1"/><path d="M667.3,446.0 L665.8,449.1 L665.3,448.7 L667.3,446.0Z" fill="#01fffd"/><path d="M667.3,446.0 L665.3,448.8 L664.8,448.4 L667.3,446.0Z" fill="#00f5ff"/><path d="M667.3,446.0 L664.9,448.5 L664.5,448.0 L667.3,446.0Z" fill="#00eaff"/><path d="M667.3,446.0 L664.6,448.0 L664.2,447.5 L667.3,446.0Z" fill="#00e1ff"/><path d="M667.3,446.0 L664.3,447.6 L664.0,447.0 L667.3,446.0Z" fill="#00d9ff"/><path d="M667.3,446.0 L664.1,447.1 L663.9,446.5 L667.3,446.0Z" fill="#00d3ff"/><path d="M667.3,446.0 L663.9,446.6 L663.9,446.0 L667.3,446.0Z" fill="#00ceff"/><path d="M667.3,446.0 L663.9,446.0 L663.9,445.4 L667.3,446.0Z" fill="#00cbff"/><path d="M667.3,446.0 L663.9,445.5 L664.1,444.9 L667.3,446.0Z" fill="#00caff"/><path d="M667.3,446.0 L664.0,445.0 L664.3,444.4 L667.3,446.0Z" fill="#00cbff"/><path d="M667.3,446.0 L664.2,444.5 L664.6,444.0 L667.3,446.0Z" fill="#00ceff"/><path d="M667.3,446.0 L664.5,444.0 L664.9,443.5 L667.3,446.0Z" fill="#00d3ff"/><path d="M667.3,446.0 L664.8,443.6 L665.3,443.2 L667.3,446.0Z" fill="#00d9ff"/><path d="M667.3,446.0 L665.3,443.3 L665.8,442.9 L667.3,446.0Z" fill="#00e1ff"/><path d="M667.3,446.0 L665.7,443.0 L666.3,442.7 L667.3,446.0Z" fill="#00eaff"/><path d="M667.3,446.0 L666.2,442.8 L666.8,442.6 L667.3,446.0Z" fill="#00f4ff"/><path d="M667.3,446.0 L666.7,442.6 L667.3,442.6 L667.3,446.0Z" fill="#00fffe"/><path d="M667.3,446.0 L667.3,442.6 L667.9,442.6 L667.3,446.0Z" fill="#0cfff2"/><path d="M667.3,446.0 L667.8,442.6 L668.4,442.8 L667.3,446.0Z" fill="#18ffe6"/><path d="M667.3,446.0 L668.3,442.7 L668.9,443.0 L667.3,446.0Z" fill="#24ffda"/><path d="M667.3,446.0 L668.8,442.9 L669.3,443.3 L667.3,446.0Z" fill="#30ffce"/><path d="M667.3,446.0 L669.3,443.2 L669.8,443.6 L667.3,446.0Z" fill="#3bffc3"/><path d="M667.3,446.0 L669.7,443.5 L670.1,444.0 L667.3,446.0Z" fill="#46ffb8"/><path d="M667.3,446.0 L670.0,444.0 L670.4,444.5 L667.3,446.0Z" fill="#4fffaf"/><path d="M667.3,446.0 L670.3,444.4 L670.6,445.0 L667.3,446.0Z" fill="#57ffa7"/><path d="M667.3,446.0 L670.5,444.9 L670.7,445.5 L667.3,446.0Z" fill="#5dffa1"/><path d="M667.3,446.0 L670.7,445.4 L670.7,446.0 L667.3,446.0Z" fill="#62ff9c"/><path d="M670.7,446.0 L674.2,445.9 L674.1,447.2 L670.7,446.6Z" fill="#baff44"/><path d="M670.7,446.5 L674.1,447.0 L673.8,448.2 L670.5,447.1Z" fill="#cbff33"/><path d="M670.6,447.0 L673.8,448.0 L673.4,449.2 L670.3,447.6Z" fill="#d9ff25"/><path d="M670.4,447.5 L673.4,449.0 L672.8,450.1 L670.0,448.0Z" fill="#e4ff1a"/><path d="M670.1,448.0 L672.9,450.0 L672.1,450.9 L669.7,448.5Z" fill="#ebff13"/><path d="M669.8,448.4 L672.2,450.8 L671.3,451.6 L669.3,448.8Z" fill="#edff11"/><path d="M669.3,448.7 L671.4,451.5 L670.3,452.1 L668.8,449.1Z" fill="#ecff12"/><path d="M668.9,449.0 L670.5,452.1 L669.3,452.5 L668.3,449.3Z" fill="#e7ff17"/><path d="M668.4,449.2 L669.5,452.5 L668.3,452.8 L667.8,449.4Z" fill="#ddff21"/><path d="M667.9,449.4 L668.5,452.8 L667.2,452.9 L667.3,449.4Z" fill="#d0ff2e"/><path d="M667.3,449.4 L667.4,452.9 L666.1,452.8 L666.7,449.4Z" fill="#c0ff3e"/><path d="M666.8,449.4 L666.3,452.8 L665.1,452.5 L666.2,449.2Z" fill="#acff52"/><path d="M666.3,449.3 L665.3,452.5 L664.1,452.1 L665.7,449.0Z" fill="#96ff68"/><path d="M665.8,449.1 L664.3,452.1 L663.2,451.5 L665.3,448.7Z" fill="#7eff80"/><path d="M665.3,448.8 L663.3,451.6 L662.4,450.8 L664.8,448.4Z" fill="#65ff99"/><path d="M664.9,448.5 L662.5,450.9 L661.7,450.0 L664.5,448.0Z" fill="#4bffb3"/><path d="M664.6,448.0 L661.8,450.1 L661.2,449.0 L664.2,447.5Z" fill="#31ffcd"/><path d="M664.3,447.6 L661.2,449.2 L660.8,448.0 L664.0,447.0Z" fill="#17ffe7"/><path d="M664.1,447.1 L660.8,448.2 L660.5,447.0 L663.9,446.5Z" fill="#00feff"/><path d="M663.9,446.6 L660.5,447.2 L660.4,445.9 L663.9,446.0Z" fill="#00e7ff"/><path d="M663.9,446.0 L660.4,446.1 L660.5,444.8 L663.9,445.4Z" fill="#00d3ff"/><path d="M663.9,445.5 L660.5,445.0 L660.8,443.8 L664.1,444.9Z" fill="#00c2ff"/><path d="M664.0,445.0 L660.8,444.0 L661.2,442.8 L664.3,444.4Z" fill="#00b3ff"/><path d="M664.2,444.5 L661.2,443.0 L661.8,441.9 L664.6,444.0Z" fill="#00a9ff"/><path d="M664.5,444.0 L661.7,442.0 L662.5,441.1 L664.9,443.5Z" fill="#00a2ff"/><path d="M664.8,443.6 L662.4,441.2 L663.3,440.4 L665.3,443.2Z" fill="#009fff"/><path d="M665.3,443.3 L663.2,440.5 L664.3,439.9 L665.8,442.9Z" fill="#00a1ff"/><path d="M665.7,443.0 L664.1,439.9 L665.3,439.5 L666.3,442.7Z" fill="#00a6ff"/><path d="M666.2,442.8 L665.1,439.5 L666.3,439.2 L666.8,442.6Z" fill="#00b0ff"/><path d="M666.7,442.6 L666.1,439.2 L667.4,439.1 L667.3,442.6Z" fill="#00bdff"/><path d="M667.3,442.6 L667.2,439.1 L668.5,439.2 L667.9,442.6Z" fill="#00cdff"/><path d="M667.8,442.6 L668.3,439.2 L669.5,439.5 L668.4,442.8Z" fill="#00e1ff"/><path d="M668.3,442.7 L669.3,439.5 L670.5,439.9 L668.9,443.0Z" fill="#00f7ff"/><path d="M668.8,442.9 L670.3,439.9 L671.4,440.5 L669.3,443.3Z" fill="#10ffee"/><path d="M669.3,443.2 L671.3,440.4 L672.2,441.2 L669.8,443.6Z" fill="#29ffd5"/><path d="M669.7,443.5 L672.1,441.1 L672.9,442.0 L670.1,444.0Z" fill="#43ffbb"/><path d="M670.0,444.0 L672.8,441.9 L673.4,443.0 L670.4,444.5Z" fill="#5dffa1"/><path d="M670.3,444.4 L673.4,442.8 L673.8,444.0 L670.6,445.0Z" fill="#76ff88"/><path d="M670.5,444.9 L673.8,443.8 L674.1,445.0 L670.7,445.5Z" fill="#8fff6f"/><path d="M670.7,445.4 L674.1,444.8 L674.2,446.1 L670.7,446.0Z" fill="#a5ff59"/><path d="M674.2,445.9 L677.6,445.9 L677.4,447.7 L674.1,447.2Z" fill="#86ff78"/><path d="M674.1,447.0 L677.5,447.5 L677.0,449.3 L673.8,448.2Z" fill="#abff53"/><path d="M673.8,448.0 L677.1,449.1 L676.4,450.8 L673.4,449.2Z" fill="#ceff30"/><path d="M673.4,449.0 L676.5,450.6 L675.5,452.1 L672.8,450.1Z" fill="#efff0f"/><path d="M672.9,450.0 L675.7,451.9 L674.5,453.4 L672.1,450.9Z" fill="#fff100"/><path d="M672.2,450.8 L674.7,453.2 L673.2,454.4 L671.3,451.6Z" fill="#ffd700"/><path d="M671.4,451.5 L673.4,454.2 L671.9,455.2 L670.3,452.1Z" fill="#ffc200"/><path d="M670.5,452.1 L672.1,455.1 L670.4,455.8 L669.3,452.5Z" fill="#ffb200"/><path d="M669.5,452.5 L670.6,455.7 L668.8,456.2 L668.3,452.8Z" fill="#ffa800"/><path d="M668.5,452.8 L669.0,456.1 L667.2,456.3 L667.2,452.9Z" fill="#ffa300"/><path d="M667.4,452.9 L667.4,456.3 L665.6,456.1 L666.1,452.8Z" fill="#ffa400"/><path d="M666.3,452.8 L665.8,456.2 L664.0,455.7 L665.1,452.5Z" fill="#ffab00"/><path d="M665.3,452.5 L664.2,455.8 L662.5,455.1 L664.1,452.1Z" fill="#ffb800"/><path d="M664.3,452.1 L662.7,455.2 L661.2,454.2 L663.2,451.5Z" fill="#ffca00"/><path d="M663.3,451.6 L661.4,454.4 L659.9,453.2 L662.4,450.8Z" fill="#ffe100"/><path d="M662.5,450.9 L660.1,453.4 L658.9,451.9 L661.7,450.0Z" fill="#fffc00"/><path d="M661.8,450.1 L659.1,452.1 L658.1,450.6 L661.2,449.0Z" fill="#e2ff1c"/><path d="M661.2,449.2 L658.2,450.8 L657.5,449.1 L660.8,448.0Z" fill="#c0ff3e"/><path d="M660.8,448.2 L657.6,449.3 L657.1,447.5 L660.5,447.0Z" fill="#9dff61"/><path d="M660.5,447.2 L657.2,447.7 L657.0,445.9 L660.4,445.9Z" fill="#78ff86"/><path d="M660.4,446.1 L657.0,446.1 L657.2,444.3 L660.5,444.8Z" fill="#52ffac"/><path d="M660.5,445.0 L657.1,444.5 L657.6,442.7 L660.8,443.8Z" fill="#2dffd1"/><path d="M660.8,444.0 L657.5,442.9 L658.2,441.2 L661.2,442.8Z" fill="#0afff4"/><path d="M661.2,443.0 L658.1,441.4 L659.1,439.9 L661.8,441.9Z" fill="#00e9ff"/><path d="M661.7,442.0 L658.9,440.1 L660.1,438.6 L662.5,441.1Z" fill="#00cbff"/><path d="M662.4,441.2 L659.9,438.8 L661.4,437.6 L663.3,440.4Z" fill="#00b1ff"/><path d="M663.2,440.5 L661.2,437.8 L662.7,436.8 L664.3,439.9Z" fill="#009cff"/><path d="M664.1,439.9 L662.5,436.9 L664.2,436.2 L665.3,439.5Z" fill="#008cff"/><path d="M665.1,439.5 L664.0,436.3 L665.8,435.8 L666.3,439.2Z" fill="#0082ff"/><path d="M666.1,439.2 L665.6,435.9 L667.4,435.7 L667.4,439.1Z" fill="#007dff"/><path d="M667.2,439.1 L667.2,435.7 L669.0,435.9 L668.5,439.2Z" fill="#007fff"/><path d="M668.3,439.2 L668.8,435.8 L670.6,436.3 L669.5,439.5Z" fill="#0086ff"/><path d="M669.3,439.5 L670.4,436.2 L672.1,436.9 L670.5,439.9Z" fill="#0092ff"/><path d="M670.3,439.9 L671.9,436.8 L673.4,437.8 L671.4,440.5Z" fill="#00a4ff"/><path d="M671.3,440.4 L673.2,437.6 L674.7,438.8 L672.2,441.2Z" fill="#00bbff"/><path d="M672.1,441.1 L674.5,438.6 L675.7,440.1 L672.9,442.0Z" fill="#00d6ff"/><path d="M672.8,441.9 L675.5,439.9 L676.5,441.4 L673.4,443.0Z" fill="#00f5ff"/><path d="M673.4,442.8 L676.4,441.2 L677.1,442.9 L673.8,444.0Z" fill="#18ffe6"/><path d="M673.8,443.8 L677.0,442.7 L677.5,444.5 L674.1,445.0Z" fill="#3cffc2"/><path d="M674.1,444.8 L677.4,444.3 L677.6,446.1 L674.2,446.1Z" fill="#61ff9d"/><path d="M677.6,445.9 L681.0,445.8 L680.8,448.3 L677.4,447.7Z" fill="#00f1ff"/><path d="M677.5,447.5 L680.9,448.0 L680.3,450.4 L677.0,449.3Z" fill="#1cffe2"/><path d="M677.1,449.1 L680.4,450.1 L679.4,452.4 L676.4,450.8Z" fill="#49ffb5"/><path d="M676.5,450.6 L679.6,452.1 L678.3,454.2 L675.5,452.1Z" fill="#78ff86"/><path d="M675.7,451.9 L678.5,453.9 L676.9,455.8 L674.5,453.4Z" fill="#a7ff57"/><path d="M674.7,453.2 L677.1,455.6 L675.2,457.2 L673.2,454.4Z" fill="#d6ff28"/><path d="M673.4,454.2 L675.5,457.0 L673.4,458.3 L671.9,455.2Z" fill="#fffa00"/><path d="M672.1,455.1 L673.7,458.1 L671.4,459.1 L670.4,455.8Z" fill="#ffd000"/><path d="M670.6,455.7 L671.7,459.0 L669.3,459.6 L668.8,456.2Z" fill="#ffaa00"/><path d="M669.0,456.1 L669.6,459.5 L667.1,459.7 L667.2,456.3Z" fill="#ff8900"/><path d="M667.4,456.3 L667.5,459.7 L665.0,459.5 L665.6,456.1Z" fill="#ff6d00"/><path d="M665.8,456.2 L665.3,459.6 L662.9,459.0 L664.0,455.7Z" fill="#ff5800"/><path d="M664.2,455.8 L663.2,459.1 L660.9,458.1 L662.5,455.1Z" fill="#ff4a00"/><path d="M662.7,455.2 L661.2,458.3 L659.1,457.0 L661.2,454.2Z" fill="#ff4300"/><path d="M661.4,454.4 L659.4,457.2 L657.5,455.6 L659.9,453.2Z" fill="#ff4400"/><path d="M660.1,453.4 L657.7,455.8 L656.1,453.9 L658.9,451.9Z" fill="#ff4b00"/><path d="M659.1,452.1 L656.3,454.2 L655.0,452.1 L658.1,450.6Z" fill="#ff5a00"/><path d="M658.2,450.8 L655.2,452.4 L654.2,450.1 L657.5,449.1Z" fill="#ff7000"/><path d="M657.6,449.3 L654.3,450.4 L653.7,448.0 L657.1,447.5Z" fill="#ff8c00"/><path d="M657.2,447.7 L653.8,448.3 L653.6,445.8 L657.0,445.9Z" fill="#ffae00"/><path d="M657.0,446.1 L653.6,446.2 L653.8,443.7 L657.2,444.3Z" fill="#ffd500"/><path d="M657.1,444.5 L653.7,444.0 L654.3,441.6 L657.6,442.7Z" fill="#feff00"/><path d="M657.5,442.9 L654.2,441.9 L655.2,439.6 L658.2,441.2Z" fill="#d1ff2d"/><path d="M658.1,441.4 L655.0,439.9 L656.3,437.8 L659.1,439.9Z" fill="#a2ff5c"/><path d="M658.9,440.1 L656.1,438.1 L657.7,436.2 L660.1,438.6Z" fill="#73ff8b"/><path d="M659.9,438.8 L657.5,436.4 L659.4,434.8 L661.4,437.6Z" fill="#44ffba"/><path d="M661.2,437.8 L659.1,435.0 L661.2,433.7 L662.7,436.8Z" fill="#17ffe7"/><path d="M662.5,436.9 L660.9,433.9 L663.2,432.9 L664.2,436.2Z" fill="#00ecff"/><path d="M664.0,436.3 L662.9,433.0 L665.3,432.4 L665.8,435.8Z" fill="#00c6ff"/><path d="M665.6,435.9 L665.0,432.5 L667.5,432.3 L667.4,435.7Z" fill="#00a5ff"/><path d="M667.2,435.7 L667.1,432.3 L669.6,432.5 L669.0,435.9Z" fill="#008aff"/><path d="M668.8,435.8 L669.3,432.4 L671.7,433.0 L670.6,436.3Z" fill="#0075ff"/><path d="M670.4,436.2 L671.4,432.9 L673.7,433.9 L672.1,436.9Z" fill="#0067ff"/><path d="M671.9,436.8 L673.4,433.7 L675.5,435.0 L673.4,437.8Z" fill="#0060ff"/><path d="M673.2,437.6 L675.2,434.8 L677.1,436.4 L674.7,438.8Z" fill="#0060ff"/><path d="M674.5,438.6 L676.9,436.2 L678.5,438.1 L675.7,440.1Z" fill="#0068ff"/><path d="M675.5,439.9 L678.3,437.8 L679.6,439.9 L676.5,441.4Z" fill="#0077ff"/><path d="M676.4,441.2 L679.4,439.6 L680.4,441.9 L677.1,442.9Z" fill="#008dff"/><path d="M677.0,442.7 L680.3,441.6 L680.9,444.0 L677.5,444.5Z" fill="#00a9ff"/><path d="M677.4,444.3 L680.8,443.7 L681.0,446.2 L677.6,446.1Z" fill="#00caff"/><path d="M681.0,445.8 L684.4,445.8 L684.2,448.9 L680.8,448.3Z" fill="#005dff"/><path d="M680.9,448.0 L684.3,448.5 L683.5,451.5 L680.3,450.4Z" fill="#0075ff"/><path d="M680.4,450.1 L683.7,451.1 L682.5,454.0 L679.4,452.4Z" fill="#0096ff"/><path d="M679.6,452.1 L682.7,453.6 L681.0,456.2 L678.3,454.2Z" fill="#00bdff"/><path d="M678.5,453.9 L681.3,455.9 L679.3,458.3 L676.9,455.8Z" fill="#00eaff"/><path d="M677.1,455.6 L679.6,458.0 L677.2,460.0 L675.2,457.2Z" fill="#1dffe1"/><path d="M675.5,457.0 L677.5,459.7 L674.9,461.4 L673.4,458.3Z" fill="#53ffab"/><path d="M673.7,458.1 L675.3,461.2 L672.4,462.4 L671.4,459.1Z" fill="#8aff74"/><path d="M671.7,459.0 L672.8,462.2 L669.8,463.0 L669.3,459.6Z" fill="#c3ff3b"/><path d="M669.6,459.5 L670.2,462.9 L667.1,463.1 L667.1,459.7Z" fill="#faff04"/><path d="M667.5,459.7 L667.5,463.1 L664.4,462.9 L665.0,459.5Z" fill="#ffcd00"/><path d="M665.3,459.6 L664.8,463.0 L661.8,462.2 L662.9,459.0Z" fill="#ff9a00"/><path d="M663.2,459.1 L662.2,462.4 L659.3,461.2 L660.9,458.1Z" fill="#ff6c00"/><path d="M661.2,458.3 L659.7,461.4 L657.1,459.7 L659.1,457.0Z" fill="#ff4400"/><path d="M659.4,457.2 L657.4,460.0 L655.0,458.0 L657.5,455.6Z" fill="#ff2200"/><path d="M657.7,455.8 L655.3,458.3 L653.3,455.9 L656.1,453.9Z" fill="#ff0800"/><path d="M656.3,454.2 L653.6,456.2 L651.9,453.6 L655.0,452.1Z" fill="#f40000"/><path d="M655.2,452.4 L652.1,454.0 L650.9,451.1 L654.2,450.1Z" fill="#eb0000"/><path d="M654.3,450.4 L651.1,451.5 L650.3,448.5 L653.7,448.0Z" fill="#ea0000"/><path d="M653.8,448.3 L650.4,448.9 L650.2,445.8 L653.6,445.8Z" fill="#f20000"/><path d="M653.6,446.2 L650.2,446.2 L650.4,443.1 L653.8,443.7Z" fill="#ff0400"/><path d="M653.7,444.0 L650.3,443.5 L651.1,440.5 L654.3,441.6Z" fill="#ff1d00"/><path d="M654.2,441.9 L650.9,440.9 L652.1,438.0 L655.2,439.6Z" fill="#ff3d00"/><path d="M655.0,439.9 L651.9,438.4 L653.6,435.8 L656.3,437.8Z" fill="#ff6500"/><path d="M656.1,438.1 L653.3,436.1 L655.3,433.7 L657.7,436.2Z" fill="#ff9200"/><path d="M657.5,436.4 L655.0,434.0 L657.4,432.0 L659.4,434.8Z" fill="#ffc400"/><path d="M659.1,435.0 L657.1,432.3 L659.7,430.6 L661.2,433.7Z" fill="#fff900"/><path d="M660.9,433.9 L659.3,430.8 L662.2,429.6 L663.2,432.9Z" fill="#ccff32"/><path d="M662.9,433.0 L661.8,429.8 L664.8,429.0 L665.3,432.4Z" fill="#94ff6a"/><path d="M665.0,432.5 L664.4,429.1 L667.5,428.9 L667.5,432.3Z" fill="#5cffa2"/><path d="M667.1,432.3 L667.1,428.9 L670.2,429.1 L669.6,432.5Z" fill="#26ffd8"/><path d="M669.3,432.4 L669.8,429.0 L672.8,429.8 L671.7,433.0Z" fill="#00f3ff"/><path d="M671.4,432.9 L672.4,429.6 L675.3,430.8 L673.7,433.9Z" fill="#00c5ff"/><path d="M673.4,433.7 L674.9,430.6 L677.5,432.3 L675.5,435.0Z" fill="#009cff"/><path d="M675.2,434.8 L677.2,432.0 L679.6,434.0 L677.1,436.4Z" fill="#007bff"/><path d="M676.9,436.2 L679.3,433.7 L681.3,436.1 L678.5,438.1Z" fill="#0060ff"/><path d="M678.3,437.8 L681.0,435.8 L682.7,438.4 L679.6,439.9Z" fill="#004eff"/><path d="M679.4,439.6 L682.5,438.0 L683.7,440.9 L680.4,441.9Z" fill="#0045ff"/><path d="M680.3,441.6 L683.5,440.5 L684.3,443.5 L680.9,444.0Z" fill="#0044ff"/><path d="M680.8,443.7 L684.2,443.1 L684.4,446.2 L681.0,446.2Z" fill="#004cff"/><path d="M684.4,445.8 L687.9,445.8 L687.6,449.5 L684.2,448.9Z" fill="#0038ff"/><path d="M684.3,448.5 L687.7,449.0 L686.8,452.6 L683.5,451.5Z" fill="#002cff"/><path d="M683.7,451.1 L686.9,452.1 L685.5,455.6 L682.5,454.0Z" fill="#0029ff"/><path d="M682.7,453.6 L685.7,455.1 L683.8,458.3 L681.0,456.2Z" fill="#0031ff"/><path d="M681.3,455.9 L684.1,457.9 L681.7,460.7 L679.3,458.3Z" fill="#0043ff"/><path d="M679.6,458.0 L682.0,460.4 L679.2,462.8 L677.2,460.0Z" fill="#005eff"/><path d="M677.5,459.7 L679.6,462.5 L676.4,464.4 L674.9,461.4Z" fill="#0083ff"/><path d="M675.3,461.2 L676.9,464.2 L673.4,465.6 L672.4,462.4Z" fill="#00afff"/><path d="M672.8,462.2 L673.9,465.5 L670.3,466.4 L669.8,463.0Z" fill="#00e2ff"/><path d="M670.2,462.9 L670.8,466.3 L667.1,466.6 L667.1,463.1Z" fill="#1cffe2"/><path d="M667.5,463.1 L667.5,466.6 L663.8,466.3 L664.4,462.9Z" fill="#59ffa5"/><path d="M664.8,463.0 L664.3,466.4 L660.7,465.5 L661.8,462.2Z" fill="#98ff66"/><path d="M662.2,462.4 L661.2,465.6 L657.7,464.2 L659.3,461.2Z" fill="#d9ff25"/><path d="M659.7,461.4 L658.2,464.4 L655.0,462.5 L657.1,459.7Z" fill="#ffe300"/><path d="M657.4,460.0 L655.4,462.8 L652.6,460.4 L655.0,458.0Z" fill="#ffa500"/><path d="M655.3,458.3 L652.9,460.7 L650.5,457.9 L653.3,455.9Z" fill="#ff6a00"/><path d="M653.6,456.2 L650.8,458.3 L648.9,455.1 L651.9,453.6Z" fill="#ff3400"/><path d="M652.1,454.0 L649.1,455.6 L647.7,452.1 L650.9,451.1Z" fill="#ff0500"/><path d="M651.1,451.5 L647.8,452.6 L646.9,449.0 L650.3,448.5Z" fill="#e50000"/><path d="M650.4,448.9 L647.0,449.5 L646.7,445.8 L650.2,445.8Z" fill="#e50000"/><path d="M650.2,446.2 L646.7,446.2 L647.0,442.5 L650.4,443.1Z" fill="#e50000"/><path d="M650.3,443.5 L646.9,443.0 L647.8,439.4 L651.1,440.5Z" fill="#e50000"/><path d="M650.9,440.9 L647.7,439.9 L649.1,436.4 L652.1,438.0Z" fill="#e50000"/><path d="M651.9,438.4 L648.9,436.9 L650.8,433.7 L653.6,435.8Z" fill="#e50000"/><path d="M653.3,436.1 L650.5,434.1 L652.9,431.3 L655.3,433.7Z" fill="#e50000"/><path d="M655.0,434.0 L652.6,431.6 L655.4,429.2 L657.4,432.0Z" fill="#e50000"/><path d="M657.1,432.3 L655.0,429.5 L658.2,427.6 L659.7,430.6Z" fill="#f00000"/><path d="M659.3,430.8 L657.7,427.8 L661.2,426.4 L662.2,429.6Z" fill="#ff1e00"/><path d="M661.8,429.8 L660.7,426.5 L664.3,425.6 L664.8,429.0Z" fill="#ff5100"/><path d="M664.4,429.1 L663.8,425.7 L667.5,425.4 L667.5,428.9Z" fill="#ff8900"/><path d="M667.1,428.9 L667.1,425.4 L670.8,425.7 L670.2,429.1Z" fill="#ffc600"/><path d="M669.8,429.0 L670.3,425.6 L673.9,426.5 L672.8,429.8Z" fill="#f7ff07"/><path d="M672.4,429.6 L673.4,426.4 L676.9,427.8 L675.3,430.8Z" fill="#b6ff48"/><path d="M674.9,430.6 L676.4,427.6 L679.6,429.5 L677.5,432.3Z" fill="#76ff88"/><path d="M677.2,432.0 L679.2,429.2 L682.0,431.6 L679.6,434.0Z" fill="#37ffc7"/><path d="M679.3,433.7 L681.7,431.3 L684.1,434.1 L681.3,436.1Z" fill="#00fbff"/><path d="M681.0,435.8 L683.8,433.7 L685.7,436.9 L682.7,438.4Z" fill="#00c6ff"/><path d="M682.5,438.0 L685.5,436.4 L686.9,439.9 L683.7,440.9Z" fill="#0096ff"/><path d="M683.5,440.5 L686.8,439.4 L687.7,443.0 L684.3,443.5Z" fill="#006eff"/><path d="M684.2,443.1 L687.6,442.5 L687.9,446.2 L684.4,446.2Z" fill="#004eff"/><path d="M687.9,445.8 L691.3,445.7 L691.0,450.0 L687.6,449.5Z" fill="#00c9ff"/><path d="M687.7,449.0 L691.0,449.5 L690.0,453.7 L686.8,452.6Z" fill="#0092ff"/><path d="M686.9,452.1 L690.2,453.1 L688.6,457.2 L685.5,455.6Z" fill="#0064ff"/><path d="M685.7,455.1 L688.8,456.6 L686.5,460.3 L683.8,458.3Z" fill="#003fff"/><path d="M684.1,457.9 L686.9,459.9 L684.1,463.2 L681.7,460.7Z" fill="#0024ff"/><path d="M682.0,460.4 L684.5,462.8 L681.2,465.6 L679.2,462.8Z" fill="#0015ff"/><path d="M679.6,462.5 L681.6,465.2 L677.9,467.5 L676.4,464.4Z" fill="#0011ff"/><path d="M676.9,464.2 L678.5,467.3 L674.4,468.9 L673.4,465.6Z" fill="#0018ff"/><path d="M673.9,465.5 L675.0,468.7 L670.8,469.7 L670.3,466.4Z" fill="#002aff"/><path d="M670.8,466.3 L671.3,469.7 L667.0,470.0 L667.1,466.6Z" fill="#0047ff"/><path d="M667.5,466.6 L667.6,470.0 L663.3,469.7 L663.8,466.3Z" fill="#006fff"/><path d="M664.3,466.4 L663.8,469.7 L659.6,468.7 L660.7,465.5Z" fill="#009fff"/><path d="M661.2,465.6 L660.2,468.9 L656.1,467.3 L657.7,464.2Z" fill="#00d8ff"/><path d="M658.2,464.4 L656.7,467.5 L653.0,465.2 L655.0,462.5Z" fill="#18ffe6"/><path d="M655.4,462.8 L653.4,465.6 L650.1,462.8 L652.6,460.4Z" fill="#5cffa2"/><path d="M652.9,460.7 L650.5,463.2 L647.7,459.9 L650.5,457.9Z" fill="#a3ff5b"/><path d="M650.8,458.3 L648.1,460.3 L645.8,456.6 L648.9,455.1Z" fill="#ecff12"/><path d="M649.1,455.6 L646.0,457.2 L644.4,453.1 L647.7,452.1Z" fill="#ffc900"/><path d="M647.8,452.6 L644.6,453.7 L643.6,449.5 L646.9,449.0Z" fill="#ff8200"/><path d="M647.0,449.5 L643.6,450.0 L643.3,445.7 L646.7,445.8Z" fill="#ff3f00"/><path d="M646.7,446.2 L643.3,446.3 L643.6,442.0 L647.0,442.5Z" fill="#ff0200"/><path d="M646.9,443.0 L643.6,442.5 L644.6,438.3 L647.8,439.4Z" fill="#e50000"/><path d="M647.7,439.9 L644.4,438.9 L646.0,434.8 L649.1,436.4Z" fill="#e50000"/><path d="M648.9,436.9 L645.8,435.4 L648.1,431.7 L650.8,433.7Z" fill="#e50000"/><path d="M650.5,434.1 L647.7,432.1 L650.5,428.8 L652.9,431.3Z" fill="#e50000"/><path d="M652.6,431.6 L650.1,429.2 L653.4,426.4 L655.4,429.2Z" fill="#e50000"/><path d="M655.0,429.5 L653.0,426.8 L656.7,424.5 L658.2,427.6Z" fill="#e50000"/><path d="M657.7,427.8 L656.1,424.7 L660.2,423.1 L661.2,426.4Z" fill="#e50000"/><path d="M660.7,426.5 L659.6,423.3 L663.8,422.3 L664.3,425.6Z" fill="#e50000"/><path d="M663.8,425.7 L663.3,422.3 L667.6,422.0 L667.5,425.4Z" fill="#e50000"/><path d="M667.1,425.4 L667.0,422.0 L671.3,422.3 L670.8,425.7Z" fill="#e50000"/><path d="M670.3,425.6 L670.8,422.3 L675.0,423.3 L673.9,426.5Z" fill="#e50000"/><path d="M673.4,426.4 L674.4,423.1 L678.5,424.7 L676.9,427.8Z" fill="#ff1100"/><path d="M676.4,427.6 L677.9,424.5 L681.6,426.8 L679.6,429.5Z" fill="#ff5000"/><path d="M679.2,429.2 L681.2,426.4 L684.5,429.2 L682.0,431.6Z" fill="#ff9400"/><path d="M681.7,431.3 L684.1,428.8 L686.9,432.1 L684.1,434.1Z" fill="#ffdb00"/><path d="M683.8,433.7 L686.5,431.7 L688.8,435.4 L685.7,436.9Z" fill="#d9ff25"/><path d="M685.5,436.4 L688.6,434.8 L690.2,438.9 L686.9,439.9Z" fill="#90ff6e"/><path d="M686.8,439.4 L690.0,438.3 L691.0,442.5 L687.7,443.0Z" fill="#4affb4"/><path d="M687.6,442.5 L691.0,442.0 L691.3,446.3 L687.9,446.2Z" fill="#07fff7"/></g></g>
<text x="913.3" y="403.2" font-size="23">mode</text>
<text x="1012" y="403.2" font-size="23">input</text>
<text x="1242" y="403.2" font-size="23">output</text>
<text x="1135.8" y="524.6" font-size="23">DLW</text>
<text x="856" y="469.3" font-size="23">TE<tspan font-size="16" dy="4">01</tspan></text>
<text x="856" y="566.7" font-size="23">TE<tspan font-size="16" dy="4">22</tspan></text>
<text x="856" y="675" font-size="23">TE<tspan font-size="16" dy="4">22</tspan></text>
<circle cx="941.6" cy="452.2" r="42.5" fill="url(#te01)"/>
<line x1="976.1" y1="452.8" x2="964.6" y2="452.8" stroke="#000" stroke-width="2"/>
<path d="M959.6,452.8 L964.6,455.8 L964.6,449.8 Z" fill="#000"/>
<line x1="966" y1="477.2" x2="957.9" y2="469.1" stroke="#000" stroke-width="2"/>
<path d="M954.3,465.5 L955.7,471.2 L960,466.9 Z" fill="#000"/>
<line x1="941.6" y1="487.3" x2="941.6" y2="475.8" stroke="#000" stroke-width="2"/>
<path d="M941.6,470.8 L938.6,475.8 L944.6,475.8 Z" fill="#000"/>
<line x1="917.2" y1="477.2" x2="925.3" y2="469.1" stroke="#000" stroke-width="2"/>
<path d="M928.9,465.5 L923.2,466.9 L927.5,471.2 Z" fill="#000"/>
<line x1="907.1" y1="452.8" x2="918.6" y2="452.8" stroke="#000" stroke-width="2"/>
<path d="M923.6,452.8 L918.6,449.8 L918.6,455.8 Z" fill="#000"/>
<line x1="917.2" y1="428.4" x2="925.3" y2="436.5" stroke="#000" stroke-width="2"/>
<path d="M928.9,440.1 L927.5,434.4 L923.2,438.7 Z" fill="#000"/>
<line x1="941.6" y1="418.3" x2="941.6" y2="429.8" stroke="#000" stroke-width="2"/>
<path d="M941.6,434.8 L944.6,429.8 L938.6,429.8 Z" fill="#000"/>
<line x1="966" y1="428.4" x2="957.9" y2="436.5" stroke="#000" stroke-width="2"/>
<path d="M954.3,440.1 L960,438.7 L955.7,434.4 Z" fill="#000"/>
<circle cx="943" cy="557" r="42.5" fill="url(#te22b)"/>
<circle cx="943" cy="542" r="12" fill="url(#olobe)"/>
<circle cx="943" cy="572" r="12" fill="url(#olobe)"/>
<circle cx="928" cy="557" r="12" fill="url(#olobe)"/>
<circle cx="958" cy="557" r="12" fill="url(#olobe)"/>
<circle cx="921" cy="535" r="13" fill="url(#olobe)"/>
<circle cx="965" cy="535" r="13" fill="url(#olobe)"/>
<circle cx="921" cy="579" r="13" fill="url(#olobe)"/>
<circle cx="965" cy="579" r="13" fill="url(#olobe)"/>
<circle cx="943" cy="557" r="8" fill="url(#wspot)"/>
<circle cx="929" cy="543" r="7" fill="url(#wspot)"/>
<circle cx="957" cy="543" r="7" fill="url(#wspot)"/>
<circle cx="929" cy="571" r="7" fill="url(#wspot)"/>
<circle cx="957" cy="571" r="7" fill="url(#wspot)"/>
<circle cx="911" cy="557" r="10" fill="url(#wspot)"/>
<circle cx="975" cy="557" r="10" fill="url(#wspot)"/>
<circle cx="943" cy="525" r="10" fill="url(#wspot)"/>
<circle cx="943" cy="589" r="10" fill="url(#wspot)"/>
<path d="M935,540 Q943,537 948.2,539.1" stroke="#000" stroke-width="2.3" fill="none"/><path d="M953,541 L947,542 L949.4,536.1 Z" fill="#000"/>
<path d="M935,547 Q943,550 948,548.5" stroke="#000" stroke-width="2.3" fill="none"/><path d="M953,547 L948.9,551.6 L947.1,545.4 Z" fill="#000"/>
<path d="M951,574 Q943,577 937.8,574.9" stroke="#000" stroke-width="2.3" fill="none"/><path d="M933,573 L939,572 L936.6,577.9 Z" fill="#000"/>
<path d="M951,567 Q943,564 938,565.5" stroke="#000" stroke-width="2.3" fill="none"/><path d="M933,567 L937.1,562.4 L938.9,568.6 Z" fill="#000"/>
<path d="M926,549 Q923,557 925.1,562.2" stroke="#000" stroke-width="2.3" fill="none"/><path d="M927,567 L922.1,563.4 L928,561 Z" fill="#000"/>
<path d="M933,549 Q936,557 934.5,562" stroke="#000" stroke-width="2.3" fill="none"/><path d="M933,567 L931.4,561.1 L937.6,562.9 Z" fill="#000"/>
<path d="M960,565 Q963,557 960.9,551.8" stroke="#000" stroke-width="2.3" fill="none"/><path d="M959,547 L963.9,550.6 L958,553 Z" fill="#000"/>
<path d="M953,565 Q950,557 951.5,552" stroke="#000" stroke-width="2.3" fill="none"/><path d="M953,547 L954.6,552.9 L948.4,551.1 Z" fill="#000"/>
<path d="M935,535 Q936,524 934.3,522" stroke="#000" stroke-width="2.3" fill="none"/><path d="M931,518 L936.8,519.9 L931.9,524 Z" fill="#000"/>
<path d="M952,519 Q949,527 950.9,531.2" stroke="#000" stroke-width="2.3" fill="none"/><path d="M953,536 L948,532.5 L953.8,529.9 Z" fill="#000"/>
<path d="M926,540 Q921,535 918.7,532.7" stroke="#000" stroke-width="2.3" fill="none"/><path d="M915,529 L920.9,530.4 L916.4,534.9 Z" fill="#000"/>
<path d="M971,529 Q965,535 962.7,537.3" stroke="#000" stroke-width="2.3" fill="none"/><path d="M959,541 L960.4,535.1 L964.9,539.6 Z" fill="#000"/>
<path d="M920,548 Q912,550 909.5,548.6" stroke="#000" stroke-width="2.3" fill="none"/><path d="M905,546 L911.1,545.8 L907.9,551.4 Z" fill="#000"/>
<path d="M982,546 Q975,550 971.1,549.1" stroke="#000" stroke-width="2.3" fill="none"/><path d="M966,548 L971.8,546 L970.4,552.3 Z" fill="#000"/>
<path d="M904,568 Q912,564 915.9,564.9" stroke="#000" stroke-width="2.3" fill="none"/><path d="M921,566 L915.2,568 L916.6,561.7 Z" fill="#000"/>
<path d="M966,566 Q974,564 977.6,566.2" stroke="#000" stroke-width="2.3" fill="none"/><path d="M982,569 L975.9,569 L979.3,563.5 Z" fill="#000"/>
<path d="M915,585 Q921,579 923.3,576.7" stroke="#000" stroke-width="2.3" fill="none"/><path d="M927,573 L925.6,578.9 L921.1,574.4 Z" fill="#000"/>
<path d="M959,573 Q965,579 967.3,581.3" stroke="#000" stroke-width="2.3" fill="none"/><path d="M971,585 L965.1,583.6 L969.6,579.1 Z" fill="#000"/>
<path d="M933,596 Q936,588 934.5,583" stroke="#000" stroke-width="2.3" fill="none"/><path d="M933,578 L937.6,582.1 L931.4,583.9 Z" fill="#000"/>
<path d="M951,579 Q950,590 951.7,592" stroke="#000" stroke-width="2.3" fill="none"/><path d="M955,596 L949.2,594.1 L954.1,590 Z" fill="#000"/>
<circle cx="943" cy="665.5" r="42.5" fill="url(#te22b)"/>
<circle cx="943" cy="650.5" r="12" fill="url(#olobe)"/>
<circle cx="943" cy="680.5" r="12" fill="url(#olobe)"/>
<circle cx="928" cy="665.5" r="12" fill="url(#olobe)"/>
<circle cx="958" cy="665.5" r="12" fill="url(#olobe)"/>
<circle cx="921" cy="643.5" r="13" fill="url(#olobe)"/>
<circle cx="965" cy="643.5" r="13" fill="url(#olobe)"/>
<circle cx="921" cy="687.5" r="13" fill="url(#olobe)"/>
<circle cx="965" cy="687.5" r="13" fill="url(#olobe)"/>
<circle cx="943" cy="665.5" r="8" fill="url(#wspot)"/>
<circle cx="929" cy="651.5" r="7" fill="url(#wspot)"/>
<circle cx="957" cy="651.5" r="7" fill="url(#wspot)"/>
<circle cx="929" cy="679.5" r="7" fill="url(#wspot)"/>
<circle cx="957" cy="679.5" r="7" fill="url(#wspot)"/>
<circle cx="911" cy="665.5" r="10" fill="url(#wspot)"/>
<circle cx="975" cy="665.5" r="10" fill="url(#wspot)"/>
<circle cx="943" cy="633.5" r="10" fill="url(#wspot)"/>
<circle cx="943" cy="697.5" r="10" fill="url(#wspot)"/>
<path d="M935,648.5 Q943,645.5 948.2,647.6" stroke="#000" stroke-width="2.3" fill="none"/><path d="M953,649.5 L947,650.5 L949.4,644.6 Z" fill="#000"/>
<path d="M935,655.5 Q943,658.5 948,657" stroke="#000" stroke-width="2.3" fill="none"/><path d="M953,655.5 L948.9,660.1 L947.1,653.9 Z" fill="#000"/>
<path d="M951,682.5 Q943,685.5 937.8,683.4" stroke="#000" stroke-width="2.3" fill="none"/><path d="M933,681.5 L939,680.5 L936.6,686.4 Z" fill="#000"/>
<path d="M951,675.5 Q943,672.5 938,674" stroke="#000" stroke-width="2.3" fill="none"/><path d="M933,675.5 L937.1,670.9 L938.9,677.1 Z" fill="#000"/>
<path d="M926,657.5 Q923,665.5 925.1,670.7" stroke="#000" stroke-width="2.3" fill="none"/><path d="M927,675.5 L922.1,671.9 L928,669.5 Z" fill="#000"/>
<path d="M933,657.5 Q936,665.5 934.5,670.5" stroke="#000" stroke-width="2.3" fill="none"/><path d="M933,675.5 L931.4,669.6 L937.6,671.4 Z" fill="#000"/>
<path d="M960,673.5 Q963,665.5 960.9,660.3" stroke="#000" stroke-width="2.3" fill="none"/><path d="M959,655.5 L963.9,659.1 L958,661.5 Z" fill="#000"/>
<path d="M953,673.5 Q950,665.5 951.5,660.5" stroke="#000" stroke-width="2.3" fill="none"/><path d="M953,655.5 L954.6,661.4 L948.4,659.6 Z" fill="#000"/>
<path d="M935,643.5 Q936,632.5 934.3,630.5" stroke="#000" stroke-width="2.3" fill="none"/><path d="M931,626.5 L936.8,628.4 L931.9,632.5 Z" fill="#000"/>
<path d="M952,627.5 Q949,635.5 950.9,639.7" stroke="#000" stroke-width="2.3" fill="none"/><path d="M953,644.5 L948,641 L953.8,638.4 Z" fill="#000"/>
<path d="M926,648.5 Q921,643.5 918.7,641.2" stroke="#000" stroke-width="2.3" fill="none"/><path d="M915,637.5 L920.9,638.9 L916.4,643.4 Z" fill="#000"/>
<path d="M971,637.5 Q965,643.5 962.7,645.8" stroke="#000" stroke-width="2.3" fill="none"/><path d="M959,649.5 L960.4,643.6 L964.9,648.1 Z" fill="#000"/>
<path d="M920,656.5 Q912,658.5 909.5,657.1" stroke="#000" stroke-width="2.3" fill="none"/><path d="M905,654.5 L911.1,654.3 L907.9,659.9 Z" fill="#000"/>
<path d="M982,654.5 Q975,658.5 971.1,657.6" stroke="#000" stroke-width="2.3" fill="none"/><path d="M966,656.5 L971.8,654.5 L970.4,660.8 Z" fill="#000"/>
<path d="M904,676.5 Q912,672.5 915.9,673.4" stroke="#000" stroke-width="2.3" fill="none"/><path d="M921,674.5 L915.2,676.5 L916.6,670.2 Z" fill="#000"/>
<path d="M966,674.5 Q974,672.5 977.6,674.7" stroke="#000" stroke-width="2.3" fill="none"/><path d="M982,677.5 L975.9,677.5 L979.3,672 Z" fill="#000"/>
<path d="M915,693.5 Q921,687.5 923.3,685.2" stroke="#000" stroke-width="2.3" fill="none"/><path d="M927,681.5 L925.6,687.4 L921.1,682.9 Z" fill="#000"/>
<path d="M959,681.5 Q965,687.5 967.3,689.8" stroke="#000" stroke-width="2.3" fill="none"/><path d="M971,693.5 L965.1,692.1 L969.6,687.6 Z" fill="#000"/>
<path d="M933,704.5 Q936,696.5 934.5,691.5" stroke="#000" stroke-width="2.3" fill="none"/><path d="M933,686.5 L937.6,690.6 L931.4,692.4 Z" fill="#000"/>
<path d="M951,687.5 Q950,698.5 951.7,700.5" stroke="#000" stroke-width="2.3" fill="none"/><path d="M955,704.5 L949.2,702.6 L954.1,698.5 Z" fill="#000"/>
<path d="M1033.3,413.9 L1020.4,413.9 L1020.4,419.1 L1033.3,419.1 Z" fill="url(#g42)"/><path d="M1010.8,416.5 L1021.4,412.1 L1021.4,420.9 Z" fill="url(#g41)"/>
<path d="M1059,413.9 L1046.1,413.9 L1046.1,419.1 L1059,419.1 Z" fill="url(#g42)"/><path d="M1036.5,416.5 L1047.1,412.1 L1047.1,420.9 Z" fill="url(#g41)"/>
<path d="M1008.2,437.8 L995.3,437.8 L995.3,443 L1008.2,443 Z" fill="url(#g42)"/><path d="M985.7,440.4 L996.3,436 L996.3,444.8 Z" fill="url(#g41)"/>
<path d="M1033.3,437.8 L1020.4,437.8 L1020.4,443 L1033.3,443 Z" fill="url(#g42)"/><path d="M1010.8,440.4 L1021.4,436 L1021.4,444.8 Z" fill="url(#g41)"/>
<path d="M1059,437.8 L1046.1,437.8 L1046.1,443 L1059,443 Z" fill="url(#g42)"/><path d="M1036.5,440.4 L1047.1,436 L1047.1,444.8 Z" fill="url(#g41)"/>
<path d="M1084.8,437.8 L1071.9,437.8 L1071.9,443 L1084.8,443 Z" fill="url(#g42)"/><path d="M1062.3,440.4 L1072.9,436 L1072.9,444.8 Z" fill="url(#g41)"/>
<path d="M1008.2,461.1 L995.3,461.1 L995.3,466.3 L1008.2,466.3 Z" fill="url(#g42)"/><path d="M985.7,463.7 L996.3,459.3 L996.3,468.1 Z" fill="url(#g41)"/>
<path d="M1033.3,461.1 L1020.4,461.1 L1020.4,466.3 L1033.3,466.3 Z" fill="url(#g42)"/><path d="M1010.8,463.7 L1021.4,459.3 L1021.4,468.1 Z" fill="url(#g41)"/>
<path d="M1059,461.1 L1046.1,461.1 L1046.1,466.3 L1059,466.3 Z" fill="url(#g42)"/><path d="M1036.5,463.7 L1047.1,459.3 L1047.1,468.1 Z" fill="url(#g41)"/>
<path d="M1084.8,461.1 L1071.9,461.1 L1071.9,466.3 L1084.8,466.3 Z" fill="url(#g42)"/><path d="M1062.3,463.7 L1072.9,459.3 L1072.9,468.1 Z" fill="url(#g41)"/>
<path d="M1033.3,484.8 L1020.4,484.8 L1020.4,490 L1033.3,490 Z" fill="url(#g42)"/><path d="M1010.8,487.4 L1021.4,483 L1021.4,491.8 Z" fill="url(#g41)"/>
<path d="M1059,484.8 L1046.1,484.8 L1046.1,490 L1059,490 Z" fill="url(#g42)"/><path d="M1036.5,487.4 L1047.1,483 L1047.1,491.8 Z" fill="url(#g41)"/>
<path d="M1033.3,520.3 L1020.4,520.3 L1020.4,525.5 L1033.3,525.5 Z" fill="url(#g42)"/><path d="M1010.8,522.9 L1021.4,518.5 L1021.4,527.3 Z" fill="url(#g41)"/>
<path d="M1059,520.3 L1046.1,520.3 L1046.1,525.5 L1059,525.5 Z" fill="url(#g42)"/><path d="M1036.5,522.9 L1047.1,518.5 L1047.1,527.3 Z" fill="url(#g41)"/>
<path d="M1008.2,545 L995.3,545 L995.3,550.2 L1008.2,550.2 Z" fill="url(#g42)"/><path d="M985.7,547.6 L996.3,543.2 L996.3,552 Z" fill="url(#g41)"/>
<path d="M1033.3,545 L1020.4,545 L1020.4,550.2 L1033.3,550.2 Z" fill="url(#g42)"/><path d="M1010.8,547.6 L1021.4,543.2 L1021.4,552 Z" fill="url(#g41)"/>
<path d="M1059,545 L1046.1,545 L1046.1,550.2 L1059,550.2 Z" fill="url(#g42)"/><path d="M1036.5,547.6 L1047.1,543.2 L1047.1,552 Z" fill="url(#g41)"/>
<path d="M1084.8,545 L1071.9,545 L1071.9,550.2 L1084.8,550.2 Z" fill="url(#g42)"/><path d="M1062.3,547.6 L1072.9,543.2 L1072.9,552 Z" fill="url(#g41)"/>
<path d="M1008.2,567.9 L995.3,567.9 L995.3,573.1 L1008.2,573.1 Z" fill="url(#g42)"/><path d="M985.7,570.5 L996.3,566.1 L996.3,574.9 Z" fill="url(#g41)"/>
<path d="M1033.3,567.9 L1020.4,567.9 L1020.4,573.1 L1033.3,573.1 Z" fill="url(#g42)"/><path d="M1010.8,570.5 L1021.4,566.1 L1021.4,574.9 Z" fill="url(#g41)"/>
<path d="M1059,567.9 L1046.1,567.9 L1046.1,573.1 L1059,573.1 Z" fill="url(#g42)"/><path d="M1036.5,570.5 L1047.1,566.1 L1047.1,574.9 Z" fill="url(#g41)"/>
<path d="M1084.8,567.9 L1071.9,567.9 L1071.9,573.1 L1084.8,573.1 Z" fill="url(#g42)"/><path d="M1062.3,570.5 L1072.9,566.1 L1072.9,574.9 Z" fill="url(#g41)"/>
<path d="M1033.3,591.7 L1020.4,591.7 L1020.4,596.9 L1033.3,596.9 Z" fill="url(#g42)"/><path d="M1010.8,594.3 L1021.4,589.9 L1021.4,598.7 Z" fill="url(#g41)"/>
<path d="M1059,591.7 L1046.1,591.7 L1046.1,596.9 L1059,596.9 Z" fill="url(#g42)"/><path d="M1036.5,594.3 L1047.1,589.9 L1047.1,598.7 Z" fill="url(#g41)"/>
<circle cx="1024.8" cy="634" r="5.3" fill="url(#yball)"/>
<circle cx="1052.5" cy="634" r="5.3" fill="url(#yball)"/>
<circle cx="997.2" cy="659.4" r="5.3" fill="url(#yball)"/>
<circle cx="1024.8" cy="659.4" r="5.3" fill="url(#yball)"/>
<circle cx="1052.5" cy="659.4" r="5.3" fill="url(#yball)"/>
<circle cx="1079.8" cy="659.4" r="5.3" fill="url(#yball)"/>
<circle cx="997.2" cy="684.8" r="5.3" fill="url(#yball)"/>
<circle cx="1024.8" cy="684.8" r="5.3" fill="url(#yball)"/>
<circle cx="1052.5" cy="684.8" r="5.3" fill="url(#yball)"/>
<circle cx="1079.8" cy="684.8" r="5.3" fill="url(#yball)"/>
<circle cx="1024.8" cy="710.2" r="5.3" fill="url(#yball)"/>
<circle cx="1052.5" cy="710.2" r="5.3" fill="url(#yball)"/>
<line x1="1085" y1="466" x2="1107.5" y2="536" stroke="#333" stroke-width="1.2" stroke-dasharray="4 3" fill="none"/>
<line x1="1085" y1="551.7" x2="1107.5" y2="551.7" stroke="#333" stroke-width="1.2" stroke-dasharray="4 3" fill="none"/>
<line x1="1083" y1="645" x2="1107.5" y2="567" stroke="#333" stroke-width="1.2" stroke-dasharray="4 3" fill="none"/>
<line x1="1213" y1="536" x2="1232" y2="470" stroke="#333" stroke-width="1.2" stroke-dasharray="4 3" fill="none"/>
<line x1="1216" y1="551.7" x2="1240" y2="551.7" stroke="#333" stroke-width="1.2" stroke-dasharray="4 3" fill="none"/>
<line x1="1213" y1="567" x2="1236" y2="642" stroke="#333" stroke-width="1.2" stroke-dasharray="4 3" fill="none"/>
<path d="M1107,534.3 L1199,534.3 A16.5,16.5 0 0 1 1199,567.3 L1107,567.3 Z" fill="#d4b400"/>
<path d="M1107,537.5 L1199,537.5 A13.3,13.3 0 0 1 1199,564.1 L1107,564.1 Z" fill="url(#dlw)"/>
<path d="M1107,540.5 A10.5,10.5 0 0 1 1107,561.5 Z" fill="#ffffff"/>
<path d="M1107,534.3 L1107,567.3" stroke="#fff" stroke-width="0.5"/>
<path d="M1248.7,407.6 L1252.9,412.9 L1251.2,413.2 L1252.4,420.1 L1249.5,420.7 L1248.2,413.7 L1246.5,414.1 Z" fill="#e8aa22" stroke="#966e16" stroke-width="0.5"/>
<circle cx="1263.7" cy="414" r="3" fill="#f0dc20" stroke="#9c8f14" stroke-width="0.6"/><circle cx="1264" cy="414.1" r="1.3" fill="#a89a16" fill-opacity="0.6"/>
<circle cx="1277.5" cy="414" r="3" fill="#f0dc20" stroke="#9c8f14" stroke-width="0.6"/><circle cx="1277.8" cy="414.1" r="1.3" fill="#a89a16" fill-opacity="0.6"/>
<circle cx="1291.4" cy="414" r="3" fill="#e8d020" stroke="#968714" stroke-width="0.6"/><circle cx="1291.7" cy="414.1" r="1.3" fill="#a29116" fill-opacity="0.6"/>
<path d="M1230.2,421.6 L1236.9,423 L1235.8,424.3 L1241.1,428.8 L1239.2,431.1 L1233.8,426.6 L1232.7,428 Z" fill="#9cc83a" stroke="#658225" stroke-width="0.5"/>
<path d="M1245.6,420.8 L1252,423.3 L1250.6,424.4 L1255.1,429.8 L1252.8,431.7 L1248.3,426.4 L1247,427.5 Z" fill="#e8aa22" stroke="#966e16" stroke-width="0.5"/>
<path d="M1259.5,420.8 L1265.9,423.3 L1264.5,424.4 L1269,429.8 L1266.7,431.7 L1262.2,426.4 L1260.9,427.5 Z" fill="#e8aa22" stroke="#966e16" stroke-width="0.5"/>
<circle cx="1277.5" cy="425.8" r="3" fill="#e8d020" stroke="#968714" stroke-width="0.6"/><circle cx="1277.8" cy="425.9" r="1.3" fill="#a29116" fill-opacity="0.6"/>
<path d="M1286.4,430 L1288.9,423.6 L1290,425 L1295.4,420.5 L1297.3,422.8 L1292,427.3 L1293.1,428.6 Z" fill="#d8a020" stroke="#8c6814" stroke-width="0.5"/>
<path d="M1300.3,430 L1302.8,423.6 L1303.9,425 L1309.3,420.5 L1311.2,422.8 L1305.9,427.3 L1307,428.6 Z" fill="#d8a020" stroke="#8c6814" stroke-width="0.5"/>
<path d="M1228.9,436.7 L1235.5,435.1 L1235.1,436.8 L1241.9,438.6 L1241.1,441.5 L1234.3,439.7 L1233.9,441.4 Z" fill="#40d080" stroke="#298753" stroke-width="0.5"/>
<path d="M1243.5,436.7 L1250.1,435.1 L1249.7,436.8 L1256.5,438.6 L1255.7,441.5 L1248.9,439.7 L1248.5,441.4 Z" fill="#60d070" stroke="#3e8748" stroke-width="0.5"/>
<path d="M1257.3,437.3 L1263.8,435.1 L1263.4,436.8 L1270.4,438.1 L1269.8,441 L1262.9,439.8 L1262.6,441.5 Z" fill="#90c848" stroke="#5d822e" stroke-width="0.5"/>
<path d="M1271,438.4 L1277,435.1 L1277,436.9 L1284,436.9 L1284,439.9 L1277,439.9 L1277,441.6 Z" fill="#a8c838" stroke="#6d8224" stroke-width="0.5"/>
<path d="M1284.9,439 L1290.6,435.2 L1290.8,437 L1297.7,436.3 L1298,439.3 L1291,439.9 L1291.2,441.7 Z" fill="#98c840" stroke="#628229" stroke-width="0.5"/>
<path d="M1298.9,439.5 L1304.2,435.3 L1304.5,437 L1311.4,435.8 L1312,438.7 L1305,440 L1305.4,441.7 Z" fill="#70c850" stroke="#488234" stroke-width="0.5"/>
<path d="M1228.7,450.9 L1234.7,447.6 L1234.7,449.4 L1241.7,449.4 L1241.7,452.4 L1234.7,452.4 L1234.7,454.1 Z" fill="#20b4e0" stroke="#147591" stroke-width="0.5"/>
<path d="M1243.3,450.9 L1249.3,447.6 L1249.3,449.4 L1256.3,449.4 L1256.3,452.4 L1249.3,452.4 L1249.3,454.1 Z" fill="#20b4e0" stroke="#147591" stroke-width="0.5"/>
<path d="M1257.2,450.9 L1263.2,447.6 L1263.2,449.4 L1270.2,449.4 L1270.2,452.4 L1263.2,452.4 L1263.2,454.1 Z" fill="#20b4e0" stroke="#147591" stroke-width="0.5"/>
<path d="M1271,450.9 L1277,447.6 L1277,449.4 L1284,449.4 L1284,452.4 L1277,452.4 L1277,454.1 Z" fill="#20b4e0" stroke="#147591" stroke-width="0.5"/>
<path d="M1284.9,450.9 L1290.9,447.6 L1290.9,449.4 L1297.9,449.4 L1297.9,452.4 L1290.9,452.4 L1290.9,454.1 Z" fill="#20b4e0" stroke="#147591" stroke-width="0.5"/>
<path d="M1298.8,450.9 L1304.8,447.6 L1304.8,449.4 L1311.8,449.4 L1311.8,452.4 L1304.8,452.4 L1304.8,454.1 Z" fill="#20b4e0" stroke="#147591" stroke-width="0.5"/>
<path d="M1229.6,466.1 L1233.1,460.2 L1234,461.8 L1240.1,458.3 L1241.6,460.8 L1235.5,464.4 L1236.4,465.9 Z" fill="#2f6fe8" stroke="#1e4896" stroke-width="0.5"/>
<path d="M1244.2,466.1 L1247.7,460.2 L1248.6,461.8 L1254.7,458.3 L1256.2,460.8 L1250.1,464.4 L1251,465.9 Z" fill="#2f6fe8" stroke="#1e4896" stroke-width="0.5"/>
<path d="M1257.6,465 L1262.1,459.9 L1262.7,461.6 L1269.3,459.2 L1270.3,462 L1263.7,464.4 L1264.3,466 Z" fill="#3050e0" stroke="#1f3491" stroke-width="0.5"/>
<circle cx="1277.5" cy="462.8" r="3" fill="#3040d0" stroke="#1f2987" stroke-width="0.6"/><circle cx="1277.8" cy="462.9" r="1.3" fill="#212c91" fill-opacity="0.6"/>
<path d="M1287.2,457.8 L1293.6,460.3 L1292.2,461.4 L1296.7,466.8 L1294.4,468.7 L1289.9,463.4 L1288.6,464.5 Z" fill="#3050e0" stroke="#1f3491" stroke-width="0.5"/>
<path d="M1301.1,457.8 L1307.5,460.3 L1306.1,461.4 L1310.6,466.8 L1308.3,468.7 L1303.8,463.4 L1302.5,464.5 Z" fill="#2f6fe8" stroke="#1e4896" stroke-width="0.5"/>
<path d="M1231.5,480 L1232.2,473.3 L1233.7,474.3 L1237.7,468.5 L1240.2,470.2 L1236.1,476 L1237.6,477 Z" fill="#2f6fe8" stroke="#1e4896" stroke-width="0.5"/>
<path d="M1247.1,480.6 L1246.6,473.8 L1248.2,474.5 L1251.2,468.2 L1253.9,469.4 L1250.9,475.8 L1252.5,476.5 Z" fill="#3048d8" stroke="#1f2e8c" stroke-width="0.5"/>
<circle cx="1263.7" cy="474.7" r="3" fill="#3a2ec8" stroke="#251d82" stroke-width="0.6"/><circle cx="1264" cy="474.8" r="1.3" fill="#28208c" fill-opacity="0.6"/>
<circle cx="1277.5" cy="474.7" r="3" fill="#3a2ec8" stroke="#251d82" stroke-width="0.6"/><circle cx="1277.8" cy="474.8" r="1.3" fill="#28208c" fill-opacity="0.6"/>
<circle cx="1291.4" cy="474.7" r="3" fill="#3a2ec8" stroke="#251d82" stroke-width="0.6"/><circle cx="1291.7" cy="474.8" r="1.3" fill="#28208c" fill-opacity="0.6"/>
<path d="M1302.6,468.8 L1308,472.9 L1306.4,473.6 L1309.4,480 L1306.7,481.2 L1303.7,474.9 L1302.1,475.6 Z" fill="#3048d8" stroke="#1f2e8c" stroke-width="0.5"/>
<circle cx="1249.8" cy="487.3" r="3" fill="#3a2ec8" stroke="#251d82" stroke-width="0.6"/><circle cx="1250.1" cy="487.4" r="1.3" fill="#28208c" fill-opacity="0.6"/>
<circle cx="1263.7" cy="487.3" r="3" fill="#3a2ec8" stroke="#251d82" stroke-width="0.6"/><circle cx="1264" cy="487.4" r="1.3" fill="#28208c" fill-opacity="0.6"/>
<circle cx="1277.5" cy="487.3" r="3" fill="#5040e0" stroke="#342991" stroke-width="0.6"/><circle cx="1277.8" cy="487.4" r="1.3" fill="#382c9c" fill-opacity="0.6"/>
<circle cx="1291.4" cy="487.3" r="3" fill="#3a2ec8" stroke="#251d82" stroke-width="0.6"/><circle cx="1291.7" cy="487.4" r="1.3" fill="#28208c" fill-opacity="0.6"/>
<path d="M1241.5,513.7 L1248.5,511.4 L1248.1,513.2 L1255.6,514.5 L1255,517.7 L1247.6,516.4 L1247.2,518.2 Z" fill="#2cc8d8" stroke="#1c828c" stroke-width="0.5"/>
<path d="M1256.8,513.9 L1263.6,511.4 L1263.4,513.2 L1270.9,514.3 L1270.4,517.5 L1262.9,516.4 L1262.7,518.3 Z" fill="#2cc8d8" stroke="#1c828c" stroke-width="0.5"/>
<path d="M1271.2,514.3 L1277.9,511.4 L1277.8,513.2 L1285.3,513.9 L1285,517.1 L1277.5,516.5 L1277.3,518.3 Z" fill="#2cc8d8" stroke="#1c828c" stroke-width="0.5"/>
<path d="M1285.8,514.3 L1292.5,511.4 L1292.4,513.2 L1299.9,513.9 L1299.6,517.1 L1292.1,516.5 L1291.9,518.3 Z" fill="#38d0c8" stroke="#248782" stroke-width="0.5"/>
<path d="M1230.4,525.7 L1237.7,524.6 L1237,526.4 L1244.1,529 L1243,532 L1235.9,529.4 L1235.3,531.2 Z" fill="#e8aa22" stroke="#966e16" stroke-width="0.5"/>
<path d="M1244.4,525.7 L1251.7,524.6 L1251,526.4 L1258.1,529 L1257,532 L1249.9,529.4 L1249.3,531.2 Z" fill="#d8b830" stroke="#8c771f" stroke-width="0.5"/>
<path d="M1258.7,526.3 L1265.9,524.6 L1265.4,526.4 L1272.7,528.4 L1271.8,531.5 L1264.5,529.5 L1264.1,531.3 Z" fill="#70c860" stroke="#48823e" stroke-width="0.5"/>
<path d="M1272,528.1 L1278.4,524.6 L1278.4,526.5 L1286,526.5 L1286,529.7 L1278.4,529.7 L1278.4,531.6 Z" fill="#2cc8d8" stroke="#1c828c" stroke-width="0.5"/>
<path d="M1287.9,531.6 L1291.8,525.3 L1292.7,527 L1299.3,523.2 L1300.9,526 L1294.3,529.8 L1295.3,531.4 Z" fill="#2f6fe8" stroke="#1e4896" stroke-width="0.5"/>
<path d="M1301.9,531.6 L1305.8,525.3 L1306.7,527 L1313.3,523.2 L1314.9,526 L1308.3,529.8 L1309.3,531.4 Z" fill="#3050e0" stroke="#1f3491" stroke-width="0.5"/>
<circle cx="1239.5" cy="542" r="3.2" fill="#e8d020" stroke="#968714" stroke-width="0.6"/><circle cx="1239.8" cy="542.2" r="1.3" fill="#a29116" fill-opacity="0.6"/>
<path d="M1246.2,540.2 L1253.4,538.5 L1252.9,540.3 L1260.2,542.3 L1259.3,545.4 L1252,543.4 L1251.6,545.2 Z" fill="#e0c828" stroke="#91821a" stroke-width="0.5"/>
<path d="M1259.1,540.8 L1266.1,538.5 L1265.7,540.3 L1273.2,541.6 L1272.6,544.8 L1265.2,543.5 L1264.8,545.3 Z" fill="#b8c830" stroke="#77821f" stroke-width="0.5"/>
<path d="M1272,542 L1278.4,538.5 L1278.4,540.4 L1286,540.4 L1286,543.6 L1278.4,543.6 L1278.4,545.5 Z" fill="#2cc8d8" stroke="#1c828c" stroke-width="0.5"/>
<path d="M1287.2,543.8 L1292.6,538.8 L1293,540.6 L1300.3,538.6 L1301.2,541.7 L1293.9,543.7 L1294.4,545.5 Z" fill="#3048d8" stroke="#1f2e8c" stroke-width="0.5"/>
<circle cx="1310" cy="542" r="3.2" fill="#3a2ec8" stroke="#251d82" stroke-width="0.6"/><circle cx="1310.3" cy="542.2" r="1.3" fill="#28208c" fill-opacity="0.6"/>
<circle cx="1239.7" cy="555" r="3.2" fill="#c8c020" stroke="#827c14" stroke-width="0.6"/><circle cx="1240" cy="555.2" r="1.3" fill="#8c8616" fill-opacity="0.6"/>
<path d="M1246,555 L1252.4,551.5 L1252.4,553.4 L1260,553.4 L1260,556.6 L1252.4,556.6 L1252.4,558.5 Z" fill="#e0c020" stroke="#917c14" stroke-width="0.5"/>
<path d="M1259,555 L1265.4,551.5 L1265.4,553.4 L1273,553.4 L1273,556.6 L1265.4,556.6 L1265.4,558.5 Z" fill="#c8c028" stroke="#827c1a" stroke-width="0.5"/>
<path d="M1272,555 L1278.4,551.5 L1278.4,553.4 L1286,553.4 L1286,556.6 L1278.4,556.6 L1278.4,558.5 Z" fill="#2cc8d8" stroke="#1c828c" stroke-width="0.5"/>
<path d="M1287,555 L1293.4,551.5 L1293.4,553.4 L1301,553.4 L1301,556.6 L1293.4,556.6 L1293.4,558.5 Z" fill="#3a38d0" stroke="#252487" stroke-width="0.5"/>
<circle cx="1310" cy="555" r="3.2" fill="#3a2ec8" stroke="#251d82" stroke-width="0.6"/><circle cx="1310.3" cy="555.2" r="1.3" fill="#28208c" fill-opacity="0.6"/>
<path d="M1230.4,571.6 L1235.3,566.1 L1235.9,567.9 L1243,565.3 L1244.1,568.3 L1237,570.9 L1237.7,572.7 Z" fill="#d8a020" stroke="#8c6814" stroke-width="0.5"/>
<path d="M1244.7,572.2 L1249,566.3 L1249.8,568 L1256.7,564.8 L1258,567.7 L1251.2,570.9 L1252,572.6 Z" fill="#d8a020" stroke="#8c6814" stroke-width="0.5"/>
<path d="M1258.1,570.4 L1263.8,565.9 L1264.2,567.7 L1271.6,566.4 L1272.2,569.6 L1264.7,570.9 L1265.1,572.7 Z" fill="#90c840" stroke="#5d8229" stroke-width="0.5"/>
<path d="M1272,569.2 L1278.4,565.7 L1278.4,567.6 L1286,567.6 L1286,570.8 L1278.4,570.8 L1278.4,572.7 Z" fill="#2cc8d8" stroke="#1c828c" stroke-width="0.5"/>
<path d="M1287.4,566.8 L1294.7,565.7 L1294,567.5 L1301.1,570.1 L1300,573.1 L1292.9,570.5 L1292.3,572.3 Z" fill="#3050e0" stroke="#1f3491" stroke-width="0.5"/>
<path d="M1302.7,566.2 L1310,565.8 L1309.2,567.5 L1316,570.7 L1314.7,573.6 L1307.8,570.4 L1307,572.1 Z" fill="#3a40d0" stroke="#252987" stroke-width="0.5"/>
<path d="M1228.2,584.2 L1233.6,579.2 L1234,581 L1241.3,579 L1242.2,582.1 L1234.9,584.1 L1235.4,585.9 Z" fill="#48d070" stroke="#2e8748" stroke-width="0.5"/>
<path d="M1243.1,583.6 L1248.8,579.1 L1249.2,580.9 L1256.6,579.6 L1257.2,582.8 L1249.7,584.1 L1250.1,585.9 Z" fill="#48d078" stroke="#2e874e" stroke-width="0.5"/>
<path d="M1257,583 L1263.1,579 L1263.3,580.8 L1270.8,580.2 L1271.1,583.4 L1263.6,584.1 L1263.7,585.9 Z" fill="#40d0a0" stroke="#298768" stroke-width="0.5"/>
<path d="M1271,582.4 L1277.4,578.9 L1277.4,580.8 L1285,580.8 L1285,584 L1277.4,584 L1277.4,585.9 Z" fill="#2cc8d8" stroke="#1c828c" stroke-width="0.5"/>
<path d="M1285.2,580.6 L1292.4,578.9 L1291.9,580.7 L1299.2,582.7 L1298.3,585.8 L1291,583.8 L1290.6,585.6 Z" fill="#2cc8d8" stroke="#1c828c" stroke-width="0.5"/>
<path d="M1299.4,580 L1306.7,578.9 L1306,580.7 L1313.1,583.3 L1312,586.3 L1304.9,583.7 L1304.3,585.5 Z" fill="#2cc8d8" stroke="#1c828c" stroke-width="0.5"/>
<path d="M1243,595 L1249.4,591.5 L1249.4,593.4 L1257,593.4 L1257,596.6 L1249.4,596.6 L1249.4,598.5 Z" fill="#2090e0" stroke="#145d91" stroke-width="0.5"/>
<path d="M1257,595 L1263.4,591.5 L1263.4,593.4 L1271,593.4 L1271,596.6 L1263.4,596.6 L1263.4,598.5 Z" fill="#2cc8d8" stroke="#1c828c" stroke-width="0.5"/>
<path d="M1271,595 L1277.4,591.5 L1277.4,593.4 L1285,593.4 L1285,596.6 L1277.4,596.6 L1277.4,598.5 Z" fill="#2cc8d8" stroke="#1c828c" stroke-width="0.5"/>
<path d="M1285,595 L1291.4,591.5 L1291.4,593.4 L1299,593.4 L1299,596.6 L1291.4,596.6 L1291.4,598.5 Z" fill="#50d090" stroke="#34875d" stroke-width="0.5"/>
<circle cx="1255" cy="633.5" r="3" fill="#e8cc22" stroke="#968416" stroke-width="0.6"/><circle cx="1255.3" cy="633.6" r="1.3" fill="#a28e17" fill-opacity="0.6"/>
<path d="M1265.9,627.2 L1269,633 L1267.3,633 L1267.3,639.8 L1264.5,639.8 L1264.5,633 L1262.8,633 Z" fill="#a8c838" stroke="#6d8224" stroke-width="0.5"/>
<path d="M1276.8,627.2 L1279.9,633 L1278.2,633 L1278.2,639.8 L1275.4,639.8 L1275.4,633 L1273.7,633 Z" fill="#78cc40" stroke="#4e8429" stroke-width="0.5"/>
<path d="M1287.2,627.3 L1290.8,632.7 L1289.1,632.9 L1289.7,639.6 L1286.8,639.9 L1286.2,633.1 L1284.5,633.3 Z" fill="#f0b030" stroke="#9c721f" stroke-width="0.5"/>
<path d="M1250,647.9 L1243.5,648.9 L1244.1,647.3 L1237.7,645 L1238.7,642.3 L1245.1,644.6 L1245.6,643 Z" fill="#f0b030" stroke="#9c721f" stroke-width="0.5"/>
<path d="M1260.4,642.7 L1257,648.3 L1256.2,646.8 L1250.3,650.2 L1248.9,647.7 L1254.7,644.3 L1253.9,642.8 Z" fill="#f0b030" stroke="#9c721f" stroke-width="0.5"/>
<path d="M1269,640.4 L1268.9,646.9 L1267.4,646.1 L1264,651.9 L1261.5,650.5 L1264.9,644.6 L1263.4,643.8 Z" fill="#e8cc22" stroke="#968416" stroke-width="0.5"/>
<path d="M1276.8,639.5 L1279.9,645.3 L1278.2,645.3 L1278.2,652 L1275.4,652 L1275.4,645.3 L1273.7,645.3 Z" fill="#e8cc22" stroke="#968416" stroke-width="0.5"/>
<path d="M1283.7,641 L1289.8,643.4 L1288.5,644.5 L1292.8,649.7 L1290.6,651.5 L1286.3,646.3 L1285,647.4 Z" fill="#f0b030" stroke="#9c721f" stroke-width="0.5"/>
<path d="M1304.5,647.9 L1298,648.9 L1298.6,647.3 L1292.2,645 L1293.2,642.3 L1299.6,644.6 L1300.1,643 Z" fill="#f0b030" stroke="#9c721f" stroke-width="0.5"/>
<path d="M1238.9,660.7 L1232.3,661.1 L1233,659.6 L1226.9,656.8 L1228.1,654.2 L1234.3,657 L1235,655.5 Z" fill="#e8cc22" stroke="#968416" stroke-width="0.5"/>
<path d="M1237.8,658.1 L1243.6,655 L1243.6,656.7 L1250.3,656.7 L1250.3,659.5 L1243.6,659.5 L1243.6,661.2 Z" fill="#78cc40" stroke="#4e8429" stroke-width="0.5"/>
<path d="M1261.2,657 L1256,661.1 L1255.7,659.4 L1249.1,660.6 L1248.6,657.8 L1255.2,656.6 L1254.9,654.9 Z" fill="#a8c838" stroke="#6d8224" stroke-width="0.5"/>
<path d="M1270.7,654.1 L1268.3,660.2 L1267.2,658.9 L1262,663.2 L1260.2,661 L1265.4,656.7 L1264.3,655.4 Z" fill="#f0b030" stroke="#9c721f" stroke-width="0.5"/>
<circle cx="1276.8" cy="658.1" r="3" fill="#e8cc22" stroke="#968416" stroke-width="0.6"/><circle cx="1277.1" cy="658.2" r="1.3" fill="#a28e17" fill-opacity="0.6"/>
<path d="M1293.1,661.2 L1286.6,661.1 L1287.4,659.6 L1281.6,656.2 L1283,653.7 L1288.9,657.1 L1289.7,655.6 Z" fill="#f0b030" stroke="#9c721f" stroke-width="0.5"/>
<path d="M1292.3,658.1 L1298.1,655 L1298.1,656.7 L1304.8,656.7 L1304.8,659.5 L1298.1,659.5 L1298.1,661.2 Z" fill="#78cc40" stroke="#4e8429" stroke-width="0.5"/>
<path d="M1303.3,659.2 L1308.5,655.1 L1308.8,656.8 L1315.4,655.6 L1315.9,658.4 L1309.3,659.6 L1309.6,661.3 Z" fill="#a8c838" stroke="#6d8224" stroke-width="0.5"/>
<path d="M1239.4,669.9 L1234,673.5 L1233.8,671.8 L1227.1,672.4 L1226.8,669.5 L1233.6,668.9 L1233.4,667.2 Z" fill="#e8cc22" stroke="#968416" stroke-width="0.5"/>
<path d="M1250.3,670.4 L1244.6,673.5 L1244.6,671.8 L1237.8,671.8 L1237.8,669 L1244.6,669 L1244.6,667.3 Z" fill="#78cc40" stroke="#4e8429" stroke-width="0.5"/>
<path d="M1261.2,670.4 L1255.5,673.5 L1255.5,671.8 L1248.8,671.8 L1248.8,669 L1255.5,669 L1255.5,667.3 Z" fill="#a8c838" stroke="#6d8224" stroke-width="0.5"/>
<path d="M1272.1,671.5 L1265.8,673.6 L1266.1,671.9 L1259.5,670.7 L1260,667.9 L1266.6,669.1 L1266.9,667.4 Z" fill="#e8cc22" stroke="#968416" stroke-width="0.5"/>
<circle cx="1276.8" cy="670.4" r="3" fill="#c8b820" stroke="#827714" stroke-width="0.6"/><circle cx="1277.1" cy="670.5" r="1.3" fill="#8c8016" fill-opacity="0.6"/>
<path d="M1281.5,671.5 L1286.7,667.4 L1287,669.1 L1293.6,667.9 L1294.1,670.7 L1287.5,671.9 L1287.8,673.6 Z" fill="#f0b030" stroke="#9c721f" stroke-width="0.5"/>
<path d="M1292.3,670.4 L1298.1,667.3 L1298.1,669 L1304.8,669 L1304.8,671.8 L1298.1,671.8 L1298.1,673.5 Z" fill="#78cc40" stroke="#4e8429" stroke-width="0.5"/>
<path d="M1303.2,670.4 L1309,667.3 L1309,669 L1315.8,669 L1315.8,671.8 L1309,671.8 L1309,673.5 Z" fill="#78cc40" stroke="#4e8429" stroke-width="0.5"/>
<path d="M1238,678.7 L1235.6,684.8 L1234.5,683.5 L1229.3,687.8 L1227.5,685.6 L1232.7,681.3 L1231.6,680 Z" fill="#f0b030" stroke="#9c721f" stroke-width="0.5"/>
<path d="M1238.2,680.6 L1244.7,679.6 L1244.1,681.2 L1250.5,683.5 L1249.5,686.2 L1243.1,683.9 L1242.6,685.5 Z" fill="#f0b030" stroke="#9c721f" stroke-width="0.5"/>
<path d="M1260.9,684.8 L1254.4,685.8 L1255,684.2 L1248.6,681.9 L1249.6,679.2 L1256,681.5 L1256.5,679.9 Z" fill="#f0b030" stroke="#9c721f" stroke-width="0.5"/>
<path d="M1269.5,687.8 L1263.6,684.9 L1265,683.9 L1261.1,678.4 L1263.5,676.8 L1267.4,682.3 L1268.7,681.3 Z" fill="#f0b030" stroke="#9c721f" stroke-width="0.5"/>
<path d="M1276.8,688.9 L1273.7,683.2 L1275.4,683.2 L1275.4,676.4 L1278.2,676.4 L1278.2,683.2 L1279.9,683.2 Z" fill="#f0b030" stroke="#9c721f" stroke-width="0.5"/>
<path d="M1284.1,687.8 L1284.9,681.3 L1286.2,682.3 L1290.1,676.8 L1292.5,678.4 L1288.6,683.9 L1290,684.9 Z" fill="#f0b030" stroke="#9c721f" stroke-width="0.5"/>
<path d="M1292.4,681.6 L1298.7,679.5 L1298.4,681.2 L1305,682.4 L1304.5,685.2 L1297.9,684 L1297.6,685.7 Z" fill="#f0b030" stroke="#9c721f" stroke-width="0.5"/>
<path d="M1314.9,685.8 L1308.4,685.7 L1309.2,684.2 L1303.4,680.8 L1304.8,678.3 L1310.7,681.7 L1311.5,680.2 Z" fill="#f0b030" stroke="#9c721f" stroke-width="0.5"/>
<circle cx="1244.1" cy="695" r="3" fill="#e8cc22" stroke="#968416" stroke-width="0.6"/><circle cx="1244.4" cy="695.1" r="1.3" fill="#a28e17" fill-opacity="0.6"/>
<path d="M1258.1,700.4 L1252.5,697 L1254,696.2 L1250.6,690.3 L1253.1,688.9 L1256.5,694.7 L1258,693.9 Z" fill="#e8cc22" stroke="#968416" stroke-width="0.5"/>
<path d="M1267,701.2 L1262.9,696 L1264.6,695.7 L1263.4,689.1 L1266.2,688.6 L1267.4,695.2 L1269.1,694.9 Z" fill="#d8d030" stroke="#8c871f" stroke-width="0.5"/>
<path d="M1276.8,701.2 L1273.7,695.5 L1275.4,695.5 L1275.4,688.8 L1278.2,688.8 L1278.2,695.5 L1279.9,695.5 Z" fill="#78cc40" stroke="#4e8429" stroke-width="0.5"/>
<path d="M1286.1,701 L1284.6,694.7 L1286.2,695.1 L1287.9,688.6 L1290.7,689.3 L1289,695.9 L1290.6,696.3 Z" fill="#f0b030" stroke="#9c721f" stroke-width="0.5"/>
<circle cx="1298.6" cy="695" r="3" fill="#c8b020" stroke="#827214" stroke-width="0.6"/><circle cx="1298.9" cy="695.1" r="1.3" fill="#8c7b16" fill-opacity="0.6"/>
<circle cx="1255" cy="707.3" r="3" fill="#c8b020" stroke="#827214" stroke-width="0.6"/><circle cx="1255.3" cy="707.4" r="1.3" fill="#8c7b16" fill-opacity="0.6"/>
<path d="M1265.9,713.5 L1262.8,707.8 L1264.5,707.8 L1264.5,701 L1267.3,701 L1267.3,707.8 L1269,707.8 Z" fill="#d8d030" stroke="#8c871f" stroke-width="0.5"/>
<path d="M1276.8,713.5 L1273.7,707.8 L1275.4,707.8 L1275.4,701 L1278.2,701 L1278.2,707.8 L1279.9,707.8 Z" fill="#78cc40" stroke="#4e8429" stroke-width="0.5"/>
<path d="M1288.2,713.5 L1284.6,708.1 L1286.3,707.9 L1285.7,701.2 L1288.6,700.9 L1289.2,707.7 L1290.9,707.5 Z" fill="#f0b030" stroke="#9c721f" stroke-width="0.5"/>
<line x1="1134.6" y1="708.9" x2="1134.6" y2="674" stroke="#000" stroke-width="2.2"/>
<path d="M1134.6,665.7 L1129.6,677 L1134.6,674.5 L1139.6,677 Z" fill="#000"/>
<line x1="1134.6" y1="708.9" x2="1170" y2="708.9" stroke="#000" stroke-width="2.2"/>
<path d="M1178.4,708.9 L1167,703.9 L1169.5,708.9 L1167,713.9 Z" fill="#000"/>
<line x1="1134.6" y1="708.9" x2="1116" y2="728.5" stroke="#000" stroke-width="2.2"/>
<path d="M1110.2,734.3 L1113,722.3 L1115.3,727.5 L1120.3,729.3 Z" fill="#000"/>
<text x="1143" y="673" font-size="22" font-style="italic">x</text>
<text x="1178" y="703" font-size="22" font-style="italic">z</text>
<text x="1102" y="725" font-size="22" font-style="italic">y</text>
</svg>
</body></html>
